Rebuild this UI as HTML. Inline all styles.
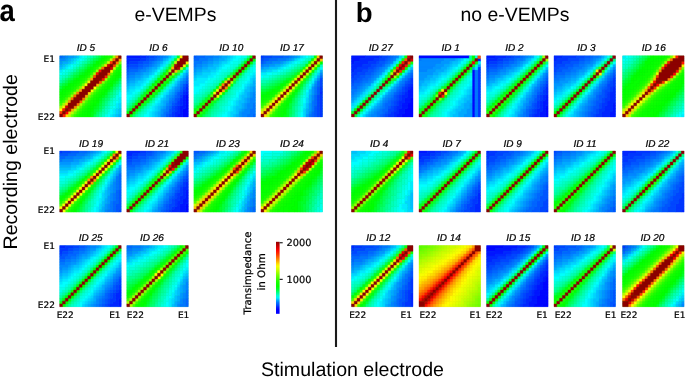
<!DOCTYPE html>
<html><head><meta charset="utf-8"><title>Transimpedance matrices</title>
<style>
html,body{margin:0;padding:0;background:#fff;}
body{width:685px;height:377px;position:relative;overflow:hidden;}
svg{position:absolute;left:0;top:0;}
text{text-rendering:geometricPrecision;fill:#000;}
.id,.ax,.cbt{stroke:#000;stroke-width:.22px;}
.id{font:italic 10px "Liberation Sans",sans-serif;}
.ax{font:9.0px "DejaVu Sans",sans-serif;}
.pl{font:bold 27.6px "Liberation Sans",sans-serif;}
.ttl{font:19.4px "Liberation Sans",sans-serif;}
.big{font:19.6px "Liberation Sans",sans-serif;}
.cbt{font:9.8px "DejaVu Sans",sans-serif;}
</style></head><body>
<svg width="685" height="377" viewBox="0 0 685 377">
<g stroke-width=".14" transform="translate(59.7 55.8) scale(2.79545 2.77727)"><rect stroke="none" x="0.02" y="0.02" width="21.96" height="21.96" fill="#07c814"/><path fill="#0066ff" stroke="#0066ff" d="M0 0h1v1h-1z"/><path fill="#0076ff" stroke="#0076ff" d="M1 0h1v1h-1z"/><path fill="#0086ff" stroke="#0086ff" d="M2 0h1v1h-1zM0 1h2v1h-2z"/><path fill="#0096ff" stroke="#0096ff" d="M3 0h2v1h-2zM2 1h1v1h-1zM0 2h1v1h-1z"/><path fill="#00aaff" stroke="#00aaff" d="M5 0h1v1h-1zM3 1h1v1h-1zM1 2h2v1h-2zM0 3h1v1h-1zM21 21h1v1h-1z"/><path fill="#00bfff" stroke="#00bfff" d="M6 0h1v1h-1zM4 1h1v1h-1zM3 2h1v1h-1zM1 3h1v1h-1zM0 4h1v1h-1zM21 19h1v1h-1zM21 20h1v1h-1zM20 21h1v1h-1z"/><path fill="#00d4ff" stroke="#00d4ff" d="M5 1h1v1h-1zM4 2h1v1h-1zM2 3h1v1h-1zM1 4h1v1h-1zM21 17h1v1h-1zM21 18h1v1h-1zM20 19h1v1h-1zM20 20h1v1h-1zM19 21h1v1h-1z"/><path fill="#00eaff" stroke="#00eaff" d="M7 0h1v1h-1zM6 1h1v1h-1zM5 2h1v1h-1zM3 3h1v1h-1zM2 4h1v1h-1zM0 5h1v1h-1zM21 15h1v1h-1zM21 16h1v1h-1zM20 17h1v1h-1zM20 18h1v1h-1zM19 19h1v1h-1zM19 20h1v1h-1zM18 21h1v1h-1z"/><path fill="#00ffff" stroke="#00ffff" d="M8 0h1v1h-1zM7 1h1v1h-1zM4 3h1v1h-1zM3 4h1v1h-1zM1 5h1v1h-1zM0 6h1v1h-1zM21 13h1v1h-1zM21 14h1v1h-1zM20 16h1v1h-1zM19 18h1v1h-1zM18 19h1v1h-1zM18 20h1v1h-1zM17 21h1v1h-1z"/><path fill="#00ffec" stroke="#00ffec" d="M9 0h1v1h-1zM8 1h1v1h-1zM6 2h1v1h-1zM5 3h1v1h-1zM4 4h1v1h-1zM2 5h1v1h-1zM1 6h1v1h-1zM20 14h1v1h-1zM20 15h1v1h-1zM19 16h1v1h-1zM19 17h1v1h-1zM18 18h1v1h-1zM17 20h1v1h-1zM16 21h1v1h-1z"/><path fill="#00ffda" stroke="#00ffda" d="M7 2h1v1h-1zM6 3h1v1h-1zM3 5h1v1h-1zM2 6h1v1h-1zM0 7h1v1h-1zM21 12h1v1h-1zM19 15h1v1h-1zM18 17h1v1h-1zM17 19h1v1h-1z"/><path fill="#00ffc7" stroke="#00ffc7" d="M10 0h1v1h-1zM9 1h1v1h-1zM5 4h1v1h-1zM4 5h1v1h-1zM1 7h1v1h-1zM0 8h1v1h-1zM21 11h1v1h-1zM20 13h1v1h-1zM18 16h1v1h-1zM17 18h1v1h-1zM16 19h1v1h-1zM16 20h1v1h-1zM15 21h1v1h-1z"/><path fill="#00ffb5" stroke="#00ffb5" d="M11 0h1v1h-1zM8 2h1v1h-1zM7 3h1v1h-1zM3 6h1v1h-1zM2 7h1v1h-1zM20 12h1v1h-1zM19 14h1v1h-1zM18 15h1v1h-1zM17 17h1v1h-1zM16 18h1v1h-1zM15 20h1v1h-1z"/><path fill="#00ffa2" stroke="#00ffa2" d="M10 1h1v1h-1zM9 2h1v1h-1zM6 4h1v1h-1zM5 5h1v1h-1zM1 8h1v1h-1zM0 9h1v1h-1zM21 10h1v1h-1zM19 13h1v1h-1zM17 16h1v1h-1zM15 19h1v1h-1zM14 21h1v1h-1z"/><path fill="#00ff8e" stroke="#00ff8e" d="M12 0h1v1h-1zM8 3h1v1h-1zM4 6h1v1h-1zM3 7h1v1h-1zM20 11h1v1h-1zM19 12h1v1h-1zM18 14h1v1h-1zM16 17h1v1h-1zM14 20h1v1h-1z"/><path fill="#00ff7a" stroke="#00ff7a" d="M11 1h1v1h-1zM10 2h1v1h-1zM7 4h1v1h-1zM6 5h1v1h-1zM2 8h1v1h-1zM1 9h1v1h-1zM21 9h1v1h-1zM18 13h1v1h-1zM17 15h1v1h-1zM16 16h1v1h-1zM15 18h1v1h-1zM13 21h1v1h-1z"/><path fill="#00ff66" stroke="#00ff66" d="M13 0h1v1h-1zM9 3h1v1h-1zM8 4h1v1h-1zM5 6h1v1h-1zM4 7h1v1h-1zM0 10h1v1h-1zM20 10h1v1h-1zM19 11h1v1h-1zM17 14h1v1h-1zM16 15h1v1h-1zM15 17h1v1h-1zM14 19h1v1h-1zM13 20h1v1h-1z"/><path fill="#00ff52" stroke="#00ff52" d="M12 1h1v1h-1zM11 2h1v1h-1zM7 5h1v1h-1zM6 6h1v1h-1zM3 8h1v1h-1zM21 8h1v1h-1zM2 9h1v1h-1zM18 12h1v1h-1zM17 13h1v1h-1zM15 16h1v1h-1zM14 18h1v1h-1zM12 21h1v1h-1z"/><path fill="#00ff3d" stroke="#00ff3d" d="M14 0h1v1h-1zM13 1h1v1h-1zM10 3h1v1h-1zM9 4h1v1h-1zM8 5h1v1h-1zM5 7h1v1h-1zM4 8h1v1h-1zM20 9h1v1h-1zM1 10h1v1h-1zM19 10h1v1h-1zM0 11h1v1h-1zM16 14h1v1h-1zM15 15h1v1h-1zM14 17h1v1h-1zM13 19h1v1h-1z"/><path fill="#00ff28" stroke="#00ff28" d="M12 2h1v1h-1zM11 3h1v1h-1zM7 6h1v1h-1zM6 7h1v1h-1zM3 9h1v1h-1zM2 10h1v1h-1zM18 11h1v1h-1zM17 12h1v1h-1zM14 16h1v1h-1zM13 18h1v1h-1zM12 19h1v1h-1zM12 20h1v1h-1z"/><path fill="#00ff14" stroke="#00ff14" d="M15 0h1v1h-1zM14 1h1v1h-1zM10 4h1v1h-1zM9 5h1v1h-1zM8 6h1v1h-1zM21 7h1v1h-1zM5 8h1v1h-1zM20 8h1v1h-1zM4 9h1v1h-1zM19 9h1v1h-1zM1 11h1v1h-1zM0 12h1v1h-1zM16 13h1v1h-1zM15 14h1v1h-1zM14 15h1v1h-1zM13 17h1v1h-1zM12 18h1v1h-1zM11 20h1v1h-1zM11 21h1v1h-1z"/><path fill="#00ff00" stroke="#00ff00" d="M13 2h1v1h-1zM12 3h1v1h-1zM11 4h1v1h-1zM21 6h1v1h-1zM7 7h1v1h-1zM6 8h1v1h-1zM3 10h1v1h-1zM18 10h1v1h-1zM2 11h1v1h-1zM17 11h1v1h-1zM16 12h1v1h-1zM13 16h1v1h-1zM12 17h1v1h-1zM11 19h1v1h-1zM10 20h1v1h-1zM10 21h1v1h-1z"/><path fill="#04ff00" stroke="#04ff00" d="M10 5h1v1h-1zM9 6h1v1h-1zM8 7h1v1h-1zM20 7h1v1h-1zM19 8h1v1h-1zM5 9h1v1h-1zM18 9h1v1h-1zM4 10h1v1h-1zM3 11h1v1h-1zM1 12h1v1h-1zM0 13h1v1h-1zM15 13h1v1h-1zM14 14h1v1h-1zM13 15h1v1h-1zM11 18h1v1h-1zM10 19h1v1h-1zM9 21h1v1h-1z"/><path fill="#07ff00" stroke="#07ff00" d="M16 0h1v1h-1zM15 1h1v1h-1zM21 5h1v1h-1zM20 6h1v1h-1zM7 8h1v1h-1zM6 9h1v1h-1zM17 10h1v1h-1zM16 11h1v1h-1zM2 12h1v1h-1zM1 13h1v1h-1zM12 16h1v1h-1zM11 17h1v1h-1zM10 18h1v1h-1zM9 20h1v1h-1zM8 21h1v1h-1z"/><path fill="#0bff00" stroke="#0bff00" d="M14 2h1v1h-1zM13 3h1v1h-1zM19 7h1v1h-1zM5 10h1v1h-1zM4 11h1v1h-1zM3 12h1v1h-1zM15 12h1v1h-1zM14 13h1v1h-1zM0 14h1v1h-1zM9 19h1v1h-1zM8 20h1v1h-1zM7 21h1v1h-1z"/><path fill="#0eff00" stroke="#0eff00" d="M12 4h1v1h-1zM21 4h1v1h-1zM11 5h1v1h-1zM20 5h1v1h-1zM10 6h1v1h-1zM9 7h1v1h-1zM18 8h1v1h-1zM17 9h1v1h-1zM2 13h1v1h-1zM1 14h1v1h-1zM13 14h1v1h-1zM0 15h1v1h-1zM12 15h1v1h-1zM11 16h1v1h-1z"/><path fill="#12ff00" stroke="#12ff00" d="M17 0h1v1h-1zM16 1h1v1h-1zM21 3h1v1h-1zM8 8h1v1h-1zM7 9h1v1h-1zM6 10h1v1h-1zM16 10h1v1h-1zM15 11h1v1h-1zM14 12h1v1h-1zM10 17h1v1h-1zM9 18h1v1h-1z"/><path fill="#15ff00" stroke="#15ff00" d="M15 2h1v1h-1zM19 6h1v1h-1zM5 11h1v1h-1zM4 12h1v1h-1zM13 13h1v1h-1zM12 14h1v1h-1zM8 19h1v1h-1zM7 20h1v1h-1zM6 21h1v1h-1z"/><path fill="#19ff00" stroke="#19ff00" d="M18 0h1v1h-1zM14 3h1v1h-1zM20 4h1v1h-1zM18 7h1v1h-1zM3 13h1v1h-1zM2 14h1v1h-1zM1 15h1v1h-1zM11 15h1v1h-1zM10 16h1v1h-1z"/><path fill="#22ff00" stroke="#22ff00" d="M13 4h1v1h-1zM12 5h1v1h-1zM11 6h1v1h-1zM10 7h1v1h-1zM9 8h1v1h-1zM17 8h1v1h-1zM8 9h1v1h-1zM7 10h1v1h-1zM0 16h1v1h-1zM9 17h1v1h-1zM8 18h1v1h-1z"/><path fill="#2cff00" stroke="#2cff00" d="M17 1h1v1h-1zM19 5h1v1h-1zM16 9h1v1h-1zM15 10h1v1h-1zM6 11h1v1h-1zM14 11h1v1h-1zM5 12h1v1h-1zM13 12h1v1h-1zM12 13h1v1h-1zM7 19h1v1h-1zM6 20h1v1h-1zM5 21h1v1h-1z"/><path fill="#36ff00" stroke="#36ff00" d="M4 13h1v1h-1zM3 14h1v1h-1zM11 14h1v1h-1z"/><path fill="#40ff00" stroke="#40ff00" d="M16 2h1v1h-1zM2 15h1v1h-1zM10 15h1v1h-1zM1 16h1v1h-1zM9 16h1v1h-1zM0 17h1v1h-1z"/><path fill="#4bff00" stroke="#4bff00" d="M8 17h1v1h-1z"/><path fill="#56ff00" stroke="#56ff00" d="M18 6h1v1h-1zM7 18h1v1h-1zM6 19h1v1h-1z"/><path fill="#61ff00" stroke="#61ff00" d="M15 3h1v1h-1zM9 9h1v1h-1zM13 11h1v1h-1zM12 12h1v1h-1zM5 20h1v1h-1zM4 21h1v1h-1z"/><path fill="#6cff00" stroke="#6cff00" d="M10 8h1v1h-1zM8 10h1v1h-1zM11 13h1v1h-1z"/><path fill="#77ff00" stroke="#77ff00" d="M11 7h1v1h-1zM17 7h1v1h-1zM14 10h1v1h-1zM7 11h1v1h-1zM10 14h1v1h-1z"/><path fill="#82ff00" stroke="#82ff00" d="M21 2h1v1h-1zM14 4h1v1h-1zM6 12h1v1h-1z"/><path fill="#8eff00" stroke="#8eff00" d="M20 3h1v1h-1zM15 9h1v1h-1zM9 15h1v1h-1z"/><path fill="#9bff00" stroke="#9bff00" d="M19 0h1v1h-1zM13 5h1v1h-1zM12 6h1v1h-1zM16 8h1v1h-1zM5 13h1v1h-1zM4 14h1v1h-1zM3 15h1v1h-1zM2 16h1v1h-1zM8 16h1v1h-1zM1 17h1v1h-1zM0 18h1v1h-1z"/><path fill="#a7ff00" stroke="#a7ff00" d="M7 17h1v1h-1z"/><path fill="#b3ff00" stroke="#b3ff00" d="M18 1h1v1h-1zM6 18h1v1h-1zM5 19h1v1h-1zM4 20h1v1h-1zM3 21h1v1h-1z"/><path fill="#bfff00" stroke="#bfff00" d="M19 4h1v1h-1z"/><path fill="#d5ff00" stroke="#d5ff00" d="M17 2h1v1h-1z"/><path fill="#fffc00" stroke="#fffc00" d="M18 5h1v1h-1zM9 10h1v1h-1zM12 11h1v1h-1zM11 12h1v1h-1zM0 19h1v1h-1z"/><path fill="#ffee00" stroke="#ffee00" d="M10 9h1v1h-1zM1 18h1v1h-1z"/><path fill="#ffe000" stroke="#ffe000" d="M16 3h1v1h-1zM8 11h1v1h-1zM10 13h1v1h-1zM2 21h1v1h-1z"/><path fill="#ffd200" stroke="#ffd200" d="M2 17h1v1h-1zM3 20h1v1h-1z"/><path fill="#ffb600" stroke="#ffb600" d="M13 10h1v1h-1zM4 19h1v1h-1z"/><path fill="#ffa800" stroke="#ffa800" d="M21 1h1v1h-1zM11 8h1v1h-1zM7 12h1v1h-1zM9 14h1v1h-1z"/><path fill="#ff9a00" stroke="#ff9a00" d="M3 16h1v1h-1z"/><path fill="#ff8c00" stroke="#ff8c00" d="M20 0h1v1h-1zM5 18h1v1h-1z"/><path fill="#ff7f00" stroke="#ff7f00" d="M20 2h1v1h-1zM6 13h1v1h-1z"/><path fill="#ff7300" stroke="#ff7300" d="M17 6h1v1h-1zM4 15h1v1h-1zM8 15h1v1h-1zM6 17h1v1h-1z"/><path fill="#ff6700" stroke="#ff6700" d="M19 1h1v1h-1zM15 4h1v1h-1zM5 14h1v1h-1zM7 16h1v1h-1z"/><path fill="#ff5c00" stroke="#ff5c00" d="M14 9h1v1h-1z"/><path fill="#ff5000" stroke="#ff5000" d="M12 7h1v1h-1z"/><path fill="#ff4500" stroke="#ff4500" d="M19 3h1v1h-1z"/><path fill="#ff3900" stroke="#ff3900" d="M18 2h1v1h-1zM0 20h1v1h-1z"/><path fill="#ff2200" stroke="#ff2200" d="M16 7h1v1h-1zM1 21h1v1h-1z"/><path fill="#ff1700" stroke="#ff1700" d="M15 8h1v1h-1zM1 19h1v1h-1z"/><path fill="#ff0b00" stroke="#ff0b00" d="M14 5h1v1h-1zM13 6h1v1h-1z"/><path fill="#ff0000" stroke="#ff0000" d="M2 20h1v1h-1z"/><path fill="#d60000" stroke="#d60000" d="M18 4h1v1h-1zM2 18h1v1h-1z"/><path fill="#cc0000" stroke="#cc0000" d="M17 3h1v1h-1zM3 19h1v1h-1z"/><path fill="#8c0000" stroke="#8c0000" d="M21 0h1v1h-1zM20 1h1v1h-1zM19 2h1v1h-1zM18 3h1v1h-1zM16 4h2v1h-2zM15 5h3v1h-3zM14 6h3v1h-3zM13 7h3v1h-3zM12 8h3v1h-3zM11 9h3v1h-3zM10 10h3v1h-3zM9 11h3v1h-3zM8 12h3v1h-3zM7 13h3v1h-3zM6 14h3v1h-3zM5 15h3v1h-3zM4 16h3v1h-3zM3 17h3v1h-3zM3 18h2v1h-2zM2 19h1v1h-1zM1 20h1v1h-1zM0 21h1v1h-1z"/></g>
<g stroke-width=".14" transform="translate(126.8 55.8) scale(2.79545 2.77727)"><rect stroke="none" x="0.02" y="0.02" width="21.96" height="21.96" fill="#00c5d2"/><path fill="#0006ff" stroke="#0006ff" d="M21 14h1v1h-1zM21 15h1v1h-1zM21 16h1v1h-1zM21 17h1v1h-1zM21 18h1v1h-1zM20 19h2v1h-2zM20 20h2v1h-2zM20 21h2v1h-2z"/><path fill="#0016ff" stroke="#0016ff" d="M0 0h5v1h-5zM21 13h1v1h-1zM20 14h1v1h-1zM20 15h1v1h-1zM20 16h1v1h-1zM20 17h1v1h-1zM19 18h2v1h-2zM19 19h1v1h-1zM19 20h1v1h-1zM18 21h2v1h-2z"/><path fill="#0026ff" stroke="#0026ff" d="M5 0h2v1h-2zM0 1h5v1h-5zM0 2h1v1h-1zM21 11h1v1h-1zM21 12h1v1h-1zM20 13h1v1h-1zM19 15h1v1h-1zM19 16h1v1h-1zM19 17h1v1h-1zM18 18h1v1h-1zM18 19h1v1h-1zM17 20h2v1h-2zM17 21h1v1h-1z"/><path fill="#0036ff" stroke="#0036ff" d="M7 0h1v1h-1zM5 1h2v1h-2zM1 2h3v1h-3zM0 3h1v1h-1zM21 10h1v1h-1zM20 12h1v1h-1zM19 14h1v1h-1zM18 16h1v1h-1zM18 17h1v1h-1zM17 18h1v1h-1zM17 19h1v1h-1zM16 20h1v1h-1zM16 21h1v1h-1z"/><path fill="#0046ff" stroke="#0046ff" d="M8 0h2v1h-2zM7 1h1v1h-1zM4 2h2v1h-2zM1 3h3v1h-3zM0 4h1v1h-1zM20 11h1v1h-1zM19 13h1v1h-1zM18 15h1v1h-1zM17 17h1v1h-1zM16 18h1v1h-1zM16 19h1v1h-1zM15 21h1v1h-1z"/><path fill="#0056ff" stroke="#0056ff" d="M10 0h1v1h-1zM8 1h2v1h-2zM6 2h2v1h-2zM4 3h2v1h-2zM1 4h3v1h-3zM0 5h1v1h-1zM21 9h1v1h-1zM20 10h1v1h-1zM19 12h1v1h-1zM18 13h1v1h-1zM18 14h1v1h-1zM17 15h1v1h-1zM17 16h1v1h-1zM16 17h1v1h-1zM15 19h1v1h-1zM15 20h1v1h-1zM14 21h1v1h-1z"/><path fill="#0066ff" stroke="#0066ff" d="M11 0h1v1h-1zM10 1h1v1h-1zM8 2h1v1h-1zM6 3h2v1h-2zM4 4h2v1h-2zM1 5h3v1h-3zM0 6h1v1h-1zM21 8h1v1h-1zM19 11h1v1h-1zM17 14h1v1h-1zM16 16h1v1h-1zM15 18h1v1h-1zM14 20h1v1h-1z"/><path fill="#0076ff" stroke="#0076ff" d="M12 0h1v1h-1zM11 1h1v1h-1zM9 2h1v1h-1zM8 3h1v1h-1zM6 4h1v1h-1zM4 5h1v1h-1zM1 6h2v1h-2zM0 7h1v1h-1zM21 7h1v1h-1zM20 9h1v1h-1zM19 10h1v1h-1zM18 12h1v1h-1zM17 13h1v1h-1zM16 15h1v1h-1zM15 16h1v1h-1zM15 17h1v1h-1zM14 18h1v1h-1zM14 19h1v1h-1zM13 20h1v1h-1zM13 21h1v1h-1z"/><path fill="#0086ff" stroke="#0086ff" d="M13 0h1v1h-1zM12 1h1v1h-1zM10 2h1v1h-1zM9 3h1v1h-1zM7 4h1v1h-1zM5 5h2v1h-2zM3 6h2v1h-2zM1 7h2v1h-2zM0 8h1v1h-1zM20 8h1v1h-1zM19 9h1v1h-1zM18 11h1v1h-1zM17 12h1v1h-1zM16 14h1v1h-1zM15 15h1v1h-1zM14 17h1v1h-1zM13 19h1v1h-1zM12 21h1v1h-1z"/><path fill="#0096ff" stroke="#0096ff" d="M14 0h1v1h-1zM11 2h1v1h-1zM10 3h1v1h-1zM8 4h1v1h-1zM7 5h1v1h-1zM5 6h1v1h-1zM21 6h1v1h-1zM3 7h2v1h-2zM1 8h2v1h-2zM0 9h1v1h-1zM18 10h1v1h-1zM17 11h1v1h-1zM16 13h1v1h-1zM15 14h1v1h-1zM14 16h1v1h-1zM13 18h1v1h-1zM12 19h1v1h-1zM12 20h1v1h-1z"/><path fill="#00aaff" stroke="#00aaff" d="M13 1h1v1h-1zM12 2h1v1h-1zM11 3h1v1h-1zM9 4h2v1h-2zM8 5h1v1h-1zM6 6h2v1h-2zM5 7h1v1h-1zM20 7h1v1h-1zM3 8h2v1h-2zM19 8h1v1h-1zM1 9h2v1h-2zM18 9h1v1h-1zM0 10h1v1h-1zM16 12h1v1h-1zM15 13h1v1h-1zM14 14h1v1h-1zM14 15h1v1h-1zM13 16h1v1h-1zM13 17h1v1h-1zM12 18h1v1h-1zM11 20h1v1h-1zM11 21h1v1h-1z"/><path fill="#00bfff" stroke="#00bfff" d="M15 0h1v1h-1zM14 1h1v1h-1zM9 5h1v1h-1zM21 5h1v1h-1zM8 6h1v1h-1zM20 6h1v1h-1zM6 7h2v1h-2zM5 8h1v1h-1zM3 9h1v1h-1zM1 10h2v1h-2zM17 10h1v1h-1zM0 11h1v1h-1zM16 11h1v1h-1zM15 12h1v1h-1zM13 15h1v1h-1zM12 16h1v1h-1zM12 17h1v1h-1zM11 18h1v1h-1zM11 19h1v1h-1zM10 20h1v1h-1zM10 21h1v1h-1z"/><path fill="#00d4ff" stroke="#00d4ff" d="M13 2h1v1h-1zM12 3h1v1h-1zM11 4h1v1h-1zM10 5h1v1h-1zM9 6h1v1h-1zM19 7h1v1h-1zM6 8h1v1h-1zM18 8h1v1h-1zM4 9h2v1h-2zM17 9h1v1h-1zM3 10h2v1h-2zM1 11h2v1h-2zM0 12h1v1h-1zM14 13h1v1h-1zM13 14h1v1h-1zM12 15h1v1h-1zM11 17h1v1h-1zM10 18h1v1h-1zM10 19h1v1h-1zM9 20h1v1h-1zM9 21h1v1h-1z"/><path fill="#00eaff" stroke="#00eaff" d="M16 0h1v1h-1zM15 1h1v1h-1zM14 2h1v1h-1zM13 3h1v1h-1zM8 7h1v1h-1zM7 8h1v1h-1zM6 9h1v1h-1zM5 10h1v1h-1zM16 10h1v1h-1zM3 11h2v1h-2zM15 11h1v1h-1zM1 12h2v1h-2zM14 12h1v1h-1zM0 13h2v1h-2zM13 13h1v1h-1zM11 16h1v1h-1zM10 17h1v1h-1zM9 18h1v1h-1zM9 19h1v1h-1zM8 20h1v1h-1zM8 21h1v1h-1z"/><path fill="#00ffff" stroke="#00ffff" d="M12 4h1v1h-1zM11 5h1v1h-1zM10 6h1v1h-1zM9 7h1v1h-1zM8 8h1v1h-1zM7 9h1v1h-1zM6 10h1v1h-1zM5 11h1v1h-1zM3 12h2v1h-2zM2 13h1v1h-1zM0 14h2v1h-2zM12 14h1v1h-1zM0 15h1v1h-1zM11 15h1v1h-1zM10 16h1v1h-1zM8 19h1v1h-1zM7 20h1v1h-1zM6 21h2v1h-2z"/><path fill="#00ffec" stroke="#00ffec" d="M21 4h1v1h-1zM20 5h1v1h-1zM19 6h1v1h-1zM18 7h1v1h-1zM17 8h1v1h-1zM3 13h1v1h-1zM2 14h1v1h-1zM1 15h1v1h-1zM0 16h1v1h-1zM9 17h1v1h-1zM8 18h1v1h-1zM7 19h1v1h-1z"/><path fill="#00ffda" stroke="#00ffda" d="M16 9h1v1h-1zM15 10h1v1h-1zM14 11h1v1h-1zM13 12h1v1h-1zM12 13h1v1h-1zM11 14h1v1h-1zM10 15h1v1h-1zM6 20h1v1h-1zM5 21h1v1h-1z"/><path fill="#00ffc7" stroke="#00ffc7" d="M17 0h1v1h-1zM16 1h1v1h-1zM15 2h1v1h-1zM14 3h1v1h-1zM13 4h1v1h-1zM12 5h1v1h-1zM11 6h1v1h-1zM10 7h1v1h-1zM9 8h1v1h-1zM8 9h1v1h-1zM7 10h1v1h-1zM6 11h1v1h-1zM5 12h1v1h-1zM4 13h1v1h-1zM3 14h1v1h-1zM2 15h1v1h-1zM1 16h1v1h-1zM9 16h1v1h-1zM0 17h1v1h-1zM8 17h1v1h-1zM7 18h1v1h-1zM6 19h1v1h-1zM5 20h1v1h-1zM4 21h1v1h-1z"/><path fill="#00ffa2" stroke="#00ffa2" d="M4 14h1v1h-1zM3 15h1v1h-1zM2 16h1v1h-1zM1 17h1v1h-1zM7 17h1v1h-1zM0 18h1v1h-1zM6 18h1v1h-1zM5 19h1v1h-1zM4 20h1v1h-1zM3 21h1v1h-1z"/><path fill="#00ff8e" stroke="#00ff8e" d="M10 8h1v1h-1zM16 8h1v1h-1zM9 9h1v1h-1zM15 9h1v1h-1zM8 10h1v1h-1zM14 10h1v1h-1zM7 11h1v1h-1zM13 11h1v1h-1zM6 12h1v1h-1zM12 12h1v1h-1zM5 13h1v1h-1zM11 13h1v1h-1zM10 14h1v1h-1zM9 15h1v1h-1zM8 16h1v1h-1z"/><path fill="#00ff7a" stroke="#00ff7a" d="M14 4h1v1h-1zM13 5h1v1h-1zM12 6h1v1h-1zM11 7h1v1h-1zM17 7h1v1h-1z"/><path fill="#00ff66" stroke="#00ff66" d="M15 3h1v1h-1zM18 6h1v1h-1zM1 18h1v1h-1zM0 19h1v1h-1zM3 20h1v1h-1zM2 21h1v1h-1z"/><path fill="#00ff52" stroke="#00ff52" d="M19 5h1v1h-1zM3 16h1v1h-1zM2 17h1v1h-1zM5 18h1v1h-1zM4 19h1v1h-1z"/><path fill="#00ff3d" stroke="#00ff3d" d="M16 2h1v1h-1zM20 4h1v1h-1zM4 15h1v1h-1zM6 17h1v1h-1z"/><path fill="#00ff28" stroke="#00ff28" d="M17 1h1v1h-1zM21 3h1v1h-1zM6 13h1v1h-1zM5 14h1v1h-1zM8 15h1v1h-1zM7 16h1v1h-1z"/><path fill="#00ff14" stroke="#00ff14" d="M18 0h1v1h-1zM8 11h1v1h-1zM7 12h1v1h-1zM10 13h1v1h-1zM9 14h1v1h-1z"/><path fill="#00ff00" stroke="#00ff00" d="M10 9h1v1h-1zM9 10h1v1h-1zM12 11h1v1h-1zM11 12h1v1h-1z"/><path fill="#04ff00" stroke="#04ff00" d="M12 7h1v1h-1zM11 8h1v1h-1zM14 9h1v1h-1zM13 10h1v1h-1zM0 20h1v1h-1zM1 21h1v1h-1z"/><path fill="#07ff00" stroke="#07ff00" d="M13 6h1v1h-1zM15 8h1v1h-1zM1 19h1v1h-1zM2 20h1v1h-1z"/><path fill="#0bff00" stroke="#0bff00" d="M2 18h1v1h-1zM3 19h1v1h-1z"/><path fill="#0eff00" stroke="#0eff00" d="M14 5h1v1h-1zM16 7h1v1h-1zM3 17h1v1h-1zM4 18h1v1h-1z"/><path fill="#12ff00" stroke="#12ff00" d="M4 16h1v1h-1zM5 17h1v1h-1z"/><path fill="#15ff00" stroke="#15ff00" d="M5 15h1v1h-1zM6 16h1v1h-1z"/><path fill="#19ff00" stroke="#19ff00" d="M15 4h1v1h-1zM17 6h1v1h-1zM12 8h1v1h-1zM11 9h1v1h-1zM13 9h1v1h-1zM12 10h1v1h-1zM6 14h1v1h-1zM7 15h1v1h-1z"/><path fill="#22ff00" stroke="#22ff00" d="M10 10h1v1h-1zM11 11h1v1h-1zM8 12h1v1h-1zM7 13h1v1h-1zM9 13h1v1h-1zM8 14h1v1h-1z"/><path fill="#2cff00" stroke="#2cff00" d="M13 7h1v1h-1zM14 8h1v1h-1zM9 11h1v1h-1zM10 12h1v1h-1z"/><path fill="#4bff00" stroke="#4bff00" d="M14 6h1v1h-1zM15 7h1v1h-1z"/><path fill="#61ff00" stroke="#61ff00" d="M16 3h1v1h-1zM18 5h1v1h-1z"/><path fill="#9bff00" stroke="#9bff00" d="M15 5h1v1h-1zM16 6h1v1h-1z"/><path fill="#bfff00" stroke="#bfff00" d="M17 2h1v1h-1zM19 4h1v1h-1z"/><path fill="#ffee00" stroke="#ffee00" d="M19 0h1v1h-1zM18 1h1v1h-1zM21 2h1v1h-1zM20 3h1v1h-1z"/><path fill="#ffb600" stroke="#ffb600" d="M16 4h1v1h-1zM17 5h1v1h-1z"/><path fill="#b70000" stroke="#b70000" d="M17 3h1v1h-1zM18 4h1v1h-1z"/><path fill="#8c0000" stroke="#8c0000" d="M20 0h2v1h-2zM19 1h3v1h-3zM18 2h3v1h-3zM18 3h2v1h-2zM17 4h1v1h-1zM16 5h1v1h-1zM15 6h1v1h-1zM14 7h1v1h-1zM13 8h1v1h-1zM12 9h1v1h-1zM11 10h1v1h-1zM10 11h1v1h-1zM9 12h1v1h-1zM8 13h1v1h-1zM7 14h1v1h-1zM6 15h1v1h-1zM5 16h1v1h-1zM4 17h1v1h-1zM3 18h1v1h-1zM2 19h1v1h-1zM1 20h1v1h-1zM0 21h1v1h-1z"/></g>
<g stroke-width=".14" transform="translate(193.9 55.8) scale(2.79545 2.77727)"><rect stroke="none" x="0.02" y="0.02" width="21.96" height="21.96" fill="#00c8ad"/><path fill="#0056ff" stroke="#0056ff" d="M0 0h1v1h-1z"/><path fill="#0066ff" stroke="#0066ff" d="M1 0h3v1h-3zM0 1h2v1h-2zM21 21h1v1h-1z"/><path fill="#0076ff" stroke="#0076ff" d="M4 0h3v1h-3zM2 1h3v1h-3zM0 2h3v1h-3zM0 3h1v1h-1zM21 17h1v1h-1zM21 18h1v1h-1zM20 19h2v1h-2zM20 20h2v1h-2zM19 21h2v1h-2z"/><path fill="#0086ff" stroke="#0086ff" d="M7 0h2v1h-2zM5 1h2v1h-2zM3 2h2v1h-2zM1 3h2v1h-2zM0 4h1v1h-1zM21 13h1v1h-1zM21 14h1v1h-1zM20 15h2v1h-2zM20 16h2v1h-2zM19 17h2v1h-2zM19 18h2v1h-2zM18 19h2v1h-2zM17 20h3v1h-3zM17 21h2v1h-2z"/><path fill="#0096ff" stroke="#0096ff" d="M9 0h1v1h-1zM7 1h2v1h-2zM5 2h2v1h-2zM3 3h2v1h-2zM1 4h2v1h-2zM0 5h1v1h-1zM21 11h1v1h-1zM21 12h1v1h-1zM20 13h1v1h-1zM20 14h1v1h-1zM19 15h1v1h-1zM19 16h1v1h-1zM18 17h1v1h-1zM18 18h1v1h-1zM17 19h1v1h-1zM16 20h1v1h-1zM16 21h1v1h-1z"/><path fill="#00aaff" stroke="#00aaff" d="M10 0h2v1h-2zM9 1h2v1h-2zM7 2h2v1h-2zM5 3h2v1h-2zM3 4h2v1h-2zM1 5h2v1h-2zM0 6h1v1h-1zM21 9h1v1h-1zM21 10h1v1h-1zM20 11h1v1h-1zM20 12h1v1h-1zM19 13h1v1h-1zM19 14h1v1h-1zM18 15h1v1h-1zM18 16h1v1h-1zM17 17h1v1h-1zM17 18h1v1h-1zM16 19h1v1h-1zM15 21h1v1h-1z"/><path fill="#00bfff" stroke="#00bfff" d="M12 0h1v1h-1zM11 1h1v1h-1zM9 2h1v1h-1zM7 3h2v1h-2zM5 4h3v1h-3zM3 5h3v1h-3zM1 6h2v1h-2zM0 7h1v1h-1zM21 8h1v1h-1zM20 10h1v1h-1zM19 11h1v1h-1zM18 12h2v1h-2zM18 13h1v1h-1zM17 14h2v1h-2zM17 15h1v1h-1zM16 16h2v1h-2zM16 17h1v1h-1zM15 18h2v1h-2zM15 19h1v1h-1zM15 20h1v1h-1zM14 21h1v1h-1z"/><path fill="#00d4ff" stroke="#00d4ff" d="M13 0h1v1h-1zM12 1h1v1h-1zM10 2h2v1h-2zM9 3h1v1h-1zM8 4h1v1h-1zM6 5h2v1h-2zM3 6h3v1h-3zM1 7h4v1h-4zM21 7h1v1h-1zM0 8h1v1h-1zM20 8h1v1h-1zM20 9h1v1h-1zM19 10h1v1h-1zM18 11h1v1h-1zM17 13h1v1h-1zM16 14h1v1h-1zM16 15h1v1h-1zM15 16h1v1h-1zM15 17h1v1h-1zM14 18h1v1h-1zM14 19h1v1h-1zM13 20h2v1h-2zM13 21h1v1h-1z"/><path fill="#00eaff" stroke="#00eaff" d="M14 0h1v1h-1zM13 1h1v1h-1zM12 2h1v1h-1zM10 3h1v1h-1zM9 4h1v1h-1zM8 5h1v1h-1zM6 6h2v1h-2zM21 6h1v1h-1zM5 7h2v1h-2zM20 7h1v1h-1zM1 8h4v1h-4zM0 9h4v1h-4zM19 9h1v1h-1zM0 10h2v1h-2zM18 10h1v1h-1zM17 12h1v1h-1zM16 13h1v1h-1zM15 15h1v1h-1zM14 16h1v1h-1zM14 17h1v1h-1zM13 18h1v1h-1zM13 19h1v1h-1zM12 20h1v1h-1zM12 21h1v1h-1z"/><path fill="#00ffff" stroke="#00ffff" d="M15 0h2v1h-2zM14 1h2v1h-2zM13 2h1v1h-1zM11 3h2v1h-2zM10 4h2v1h-2zM21 4h1v1h-1zM9 5h1v1h-1zM21 5h1v1h-1zM8 6h1v1h-1zM20 6h1v1h-1zM7 7h1v1h-1zM19 7h1v1h-1zM5 8h1v1h-1zM19 8h1v1h-1zM4 9h1v1h-1zM18 9h1v1h-1zM2 10h2v1h-2zM17 10h1v1h-1zM0 11h3v1h-3zM17 11h1v1h-1zM0 12h2v1h-2zM16 12h1v1h-1zM0 13h1v1h-1zM15 13h1v1h-1zM15 14h1v1h-1zM14 15h1v1h-1zM13 16h1v1h-1zM13 17h1v1h-1zM12 18h1v1h-1zM12 19h1v1h-1zM11 20h1v1h-1zM10 21h2v1h-2z"/><path fill="#00ffec" stroke="#00ffec" d="M17 0h2v1h-2zM16 1h1v1h-1zM14 2h2v1h-2zM13 3h1v1h-1zM21 3h1v1h-1zM12 4h1v1h-1zM20 4h1v1h-1zM10 5h2v1h-2zM20 5h1v1h-1zM9 6h1v1h-1zM19 6h1v1h-1zM8 7h1v1h-1zM6 8h2v1h-2zM18 8h1v1h-1zM5 9h2v1h-2zM17 9h1v1h-1zM4 10h1v1h-1zM3 11h1v1h-1zM16 11h1v1h-1zM2 12h1v1h-1zM15 12h1v1h-1zM1 13h1v1h-1zM14 14h1v1h-1zM13 15h1v1h-1zM12 16h1v1h-1zM12 17h1v1h-1zM11 18h1v1h-1zM11 19h1v1h-1zM10 20h1v1h-1zM9 21h1v1h-1z"/><path fill="#00ffda" stroke="#00ffda" d="M17 1h1v1h-1zM16 2h1v1h-1zM14 3h2v1h-2zM13 4h1v1h-1zM12 5h1v1h-1zM19 5h1v1h-1zM10 6h1v1h-1zM18 6h1v1h-1zM9 7h1v1h-1zM18 7h1v1h-1zM8 8h1v1h-1zM17 8h1v1h-1zM7 9h1v1h-1zM16 9h1v1h-1zM5 10h2v1h-2zM16 10h1v1h-1zM4 11h1v1h-1zM15 11h1v1h-1zM3 12h1v1h-1zM14 12h1v1h-1zM2 13h1v1h-1zM14 13h1v1h-1zM0 14h1v1h-1zM13 14h1v1h-1zM12 15h1v1h-1zM11 17h1v1h-1zM10 18h1v1h-1zM10 19h1v1h-1zM9 20h1v1h-1zM8 21h1v1h-1z"/><path fill="#00ffc7" stroke="#00ffc7" d="M14 4h1v1h-1zM13 5h1v1h-1zM11 6h1v1h-1zM10 7h1v1h-1zM17 7h1v1h-1zM9 8h1v1h-1zM16 8h1v1h-1zM8 9h1v1h-1zM15 10h1v1h-1zM5 11h1v1h-1zM14 11h1v1h-1zM4 12h1v1h-1zM13 12h1v1h-1zM3 13h1v1h-1zM13 13h1v1h-1zM1 14h2v1h-2zM12 14h1v1h-1zM0 15h1v1h-1zM11 15h1v1h-1zM11 16h1v1h-1zM10 17h1v1h-1zM9 18h1v1h-1zM9 19h1v1h-1zM8 20h1v1h-1zM7 21h1v1h-1z"/><path fill="#00ffb5" stroke="#00ffb5" d="M12 6h1v1h-1zM11 7h1v1h-1zM10 8h1v1h-1zM15 9h1v1h-1zM7 10h1v1h-1zM14 10h1v1h-1zM6 11h1v1h-1zM5 12h1v1h-1zM12 13h1v1h-1zM11 14h1v1h-1zM1 15h1v1h-1zM0 16h1v1h-1zM10 16h1v1h-1zM9 17h1v1h-1zM8 19h1v1h-1zM7 20h1v1h-1zM6 21h1v1h-1z"/><path fill="#00ffa2" stroke="#00ffa2" d="M21 2h1v1h-1zM20 3h1v1h-1zM9 9h1v1h-1zM8 10h1v1h-1zM7 11h1v1h-1zM13 11h1v1h-1zM12 12h1v1h-1zM4 13h1v1h-1zM3 14h1v1h-1zM2 15h1v1h-1zM10 15h1v1h-1zM1 16h1v1h-1zM9 16h1v1h-1zM8 17h1v1h-1zM8 18h1v1h-1zM7 19h1v1h-1zM6 20h1v1h-1z"/><path fill="#00ff8e" stroke="#00ff8e" d="M19 0h1v1h-1zM18 1h1v1h-1zM17 2h1v1h-1zM19 4h1v1h-1zM18 5h1v1h-1zM17 6h1v1h-1zM6 12h1v1h-1zM5 13h1v1h-1zM11 13h1v1h-1zM4 14h1v1h-1zM10 14h1v1h-1zM0 17h1v1h-1zM7 18h1v1h-1zM6 19h1v1h-1zM5 21h1v1h-1z"/><path fill="#00ff7a" stroke="#00ff7a" d="M16 3h1v1h-1zM15 4h1v1h-1zM16 7h1v1h-1zM3 15h1v1h-1zM9 15h1v1h-1zM2 16h1v1h-1zM8 16h1v1h-1zM1 17h1v1h-1zM7 17h1v1h-1zM5 20h1v1h-1zM4 21h1v1h-1z"/><path fill="#00ff66" stroke="#00ff66" d="M14 5h1v1h-1zM15 8h1v1h-1zM0 18h1v1h-1zM6 18h1v1h-1zM5 19h1v1h-1z"/><path fill="#00ff52" stroke="#00ff52" d="M13 6h1v1h-1zM4 20h1v1h-1zM3 21h1v1h-1z"/><path fill="#00ff3d" stroke="#00ff3d" d="M12 7h1v1h-1zM14 9h1v1h-1z"/><path fill="#00ff28" stroke="#00ff28" d="M5 14h1v1h-1zM4 15h1v1h-1zM3 16h1v1h-1zM7 16h1v1h-1zM6 17h1v1h-1zM5 18h1v1h-1z"/><path fill="#00ff14" stroke="#00ff14" d="M11 8h1v1h-1zM13 10h1v1h-1zM6 13h1v1h-1zM9 14h1v1h-1zM8 15h1v1h-1zM2 17h1v1h-1zM1 18h1v1h-1zM0 19h1v1h-1zM4 19h1v1h-1zM3 20h1v1h-1zM2 21h1v1h-1z"/><path fill="#00ff00" stroke="#00ff00" d="M7 12h1v1h-1zM10 13h1v1h-1z"/><path fill="#04ff00" stroke="#04ff00" d="M20 0h1v1h-1zM21 1h1v1h-1zM10 9h1v1h-1zM9 10h1v1h-1zM8 11h1v1h-1zM12 11h1v1h-1zM11 12h1v1h-1z"/><path fill="#07ff00" stroke="#07ff00" d="M19 1h1v1h-1zM18 2h1v1h-1zM20 2h1v1h-1zM19 3h1v1h-1z"/><path fill="#0bff00" stroke="#0bff00" d="M17 3h1v1h-1zM16 4h1v1h-1zM18 4h1v1h-1zM17 5h1v1h-1z"/><path fill="#0eff00" stroke="#0eff00" d="M15 5h1v1h-1zM16 6h1v1h-1z"/><path fill="#15ff00" stroke="#15ff00" d="M14 6h1v1h-1zM15 7h1v1h-1z"/><path fill="#22ff00" stroke="#22ff00" d="M5 15h1v1h-1zM4 16h1v1h-1zM6 16h1v1h-1zM3 17h1v1h-1zM5 17h1v1h-1zM2 18h1v1h-1zM4 18h1v1h-1zM3 19h1v1h-1z"/><path fill="#2cff00" stroke="#2cff00" d="M1 19h1v1h-1zM0 20h1v1h-1zM2 20h1v1h-1zM1 21h1v1h-1z"/><path fill="#4bff00" stroke="#4bff00" d="M13 7h1v1h-1zM14 8h1v1h-1z"/><path fill="#61ff00" stroke="#61ff00" d="M6 14h1v1h-1zM7 15h1v1h-1z"/><path fill="#b3ff00" stroke="#b3ff00" d="M12 8h1v1h-1zM13 9h1v1h-1z"/><path fill="#f6ff00" stroke="#f6ff00" d="M8 12h1v1h-1zM7 13h1v1h-1zM9 13h1v1h-1zM8 14h1v1h-1z"/><path fill="#ffc400" stroke="#ffc400" d="M11 9h1v1h-1zM12 10h1v1h-1z"/><path fill="#ffb600" stroke="#ffb600" d="M9 11h1v1h-1zM10 12h1v1h-1z"/><path fill="#ff7f00" stroke="#ff7f00" d="M10 10h1v1h-1zM11 11h1v1h-1z"/><path fill="#8c0000" stroke="#8c0000" d="M21 0h1v1h-1zM20 1h1v1h-1zM19 2h1v1h-1zM18 3h1v1h-1zM17 4h1v1h-1zM16 5h1v1h-1zM15 6h1v1h-1zM14 7h1v1h-1zM13 8h1v1h-1zM12 9h1v1h-1zM11 10h1v1h-1zM10 11h1v1h-1zM9 12h1v1h-1zM8 13h1v1h-1zM7 14h1v1h-1zM6 15h1v1h-1zM5 16h1v1h-1zM4 17h1v1h-1zM3 18h1v1h-1zM2 19h1v1h-1zM1 20h1v1h-1zM0 21h1v1h-1z"/></g>
<g stroke-width=".14" transform="translate(261 55.8) scale(2.79545 2.77727)"><rect stroke="none" x="0.02" y="0.02" width="21.96" height="21.96" fill="#00c866"/><path fill="#0026ff" stroke="#0026ff" d="M21 13h1v1h-1z"/><path fill="#0036ff" stroke="#0036ff" d="M0 0h1v1h-1zM21 11h1v1h-1zM21 12h1v1h-1zM21 14h1v1h-1zM21 15h1v1h-1zM21 16h1v1h-1zM21 17h1v1h-1zM21 18h1v1h-1zM21 19h1v1h-1zM21 20h1v1h-1zM21 21h1v1h-1z"/><path fill="#0046ff" stroke="#0046ff" d="M1 0h3v1h-3zM0 1h1v1h-1zM21 8h1v1h-1zM21 9h1v1h-1zM21 10h1v1h-1zM20 14h1v1h-1zM20 15h1v1h-1zM20 16h1v1h-1zM20 17h1v1h-1zM20 18h1v1h-1zM20 19h1v1h-1zM20 20h1v1h-1zM20 21h1v1h-1z"/><path fill="#0056ff" stroke="#0056ff" d="M4 0h4v1h-4zM1 1h2v1h-2zM0 2h1v1h-1zM20 11h1v1h-1zM20 12h1v1h-1zM20 13h1v1h-1zM19 18h1v1h-1zM19 19h1v1h-1zM19 20h1v1h-1zM19 21h1v1h-1z"/><path fill="#0066ff" stroke="#0066ff" d="M8 0h2v1h-2zM3 1h3v1h-3zM1 2h1v1h-1zM21 7h1v1h-1zM20 9h1v1h-1zM20 10h1v1h-1zM19 14h1v1h-1zM19 15h1v1h-1zM19 16h1v1h-1zM19 17h1v1h-1zM18 20h1v1h-1zM18 21h1v1h-1z"/><path fill="#0076ff" stroke="#0076ff" d="M10 0h1v1h-1zM6 1h3v1h-3zM2 2h2v1h-2zM0 3h1v1h-1zM19 11h1v1h-1zM19 12h1v1h-1zM19 13h1v1h-1zM18 16h1v1h-1zM18 17h1v1h-1zM18 18h1v1h-1zM18 19h1v1h-1zM17 21h1v1h-1z"/><path fill="#0086ff" stroke="#0086ff" d="M11 0h1v1h-1zM9 1h1v1h-1zM4 2h3v1h-3zM1 3h2v1h-2zM21 6h1v1h-1zM20 8h1v1h-1zM19 10h1v1h-1zM18 14h1v1h-1zM18 15h1v1h-1zM17 20h1v1h-1z"/><path fill="#0096ff" stroke="#0096ff" d="M12 0h1v1h-1zM10 1h1v1h-1zM7 2h1v1h-1zM3 3h2v1h-2zM0 4h1v1h-1zM19 9h1v1h-1zM18 11h1v1h-1zM18 12h1v1h-1zM18 13h1v1h-1zM17 17h1v1h-1zM17 18h1v1h-1zM17 19h1v1h-1zM16 21h1v1h-1z"/><path fill="#00aaff" stroke="#00aaff" d="M13 0h1v1h-1zM11 1h1v1h-1zM8 2h1v1h-1zM5 3h2v1h-2zM1 4h2v1h-2zM21 5h1v1h-1zM20 7h1v1h-1zM17 14h1v1h-1zM17 15h1v1h-1zM17 16h1v1h-1zM16 19h1v1h-1zM16 20h1v1h-1z"/><path fill="#00bfff" stroke="#00bfff" d="M9 2h1v1h-1zM7 3h1v1h-1zM3 4h3v1h-3zM0 5h2v1h-2zM19 8h1v1h-1zM18 10h1v1h-1zM17 12h1v1h-1zM17 13h1v1h-1zM16 17h1v1h-1zM16 18h1v1h-1z"/><path fill="#00d4ff" stroke="#00d4ff" d="M14 0h1v1h-1zM12 1h1v1h-1zM10 2h1v1h-1zM8 3h1v1h-1zM6 4h1v1h-1zM2 5h2v1h-2zM20 6h1v1h-1zM16 15h1v1h-1zM16 16h1v1h-1zM15 19h1v1h-1zM15 20h1v1h-1zM15 21h1v1h-1z"/><path fill="#00eaff" stroke="#00eaff" d="M15 0h1v1h-1zM13 1h1v1h-1zM11 2h1v1h-1zM9 3h1v1h-1zM7 4h1v1h-1zM4 5h2v1h-2zM0 6h2v1h-2zM19 7h1v1h-1zM18 9h1v1h-1zM17 11h1v1h-1zM16 13h1v1h-1zM16 14h1v1h-1zM15 17h1v1h-1zM15 18h1v1h-1z"/><path fill="#00ffff" stroke="#00ffff" d="M16 0h1v1h-1zM14 1h1v1h-1zM12 2h1v1h-1zM10 3h1v1h-1zM8 4h1v1h-1zM21 4h1v1h-1zM6 5h1v1h-1zM2 6h2v1h-2zM0 7h1v1h-1zM18 8h1v1h-1zM17 10h1v1h-1zM16 12h1v1h-1zM15 15h1v1h-1zM15 16h1v1h-1zM14 20h1v1h-1zM14 21h1v1h-1z"/><path fill="#00ffec" stroke="#00ffec" d="M15 1h1v1h-1zM13 2h1v1h-1zM11 3h1v1h-1zM9 4h1v1h-1zM7 5h1v1h-1zM20 5h1v1h-1zM4 6h2v1h-2zM1 7h2v1h-2zM15 14h1v1h-1zM14 18h1v1h-1zM14 19h1v1h-1z"/><path fill="#00ffda" stroke="#00ffda" d="M17 0h1v1h-1zM14 2h1v1h-1zM12 3h1v1h-1zM10 4h1v1h-1zM8 5h1v1h-1zM6 6h1v1h-1zM19 6h1v1h-1zM3 7h1v1h-1zM0 8h1v1h-1zM17 9h1v1h-1zM16 11h1v1h-1zM15 13h1v1h-1zM14 15h1v1h-1zM14 16h1v1h-1zM14 17h1v1h-1zM13 20h1v1h-1zM13 21h1v1h-1z"/><path fill="#00ffc7" stroke="#00ffc7" d="M18 0h1v1h-1zM16 1h1v1h-1zM21 3h1v1h-1zM11 4h1v1h-1zM9 5h1v1h-1zM7 6h1v1h-1zM4 7h1v1h-1zM18 7h1v1h-1zM1 8h2v1h-2zM16 10h1v1h-1zM15 12h1v1h-1zM14 14h1v1h-1zM13 18h1v1h-1zM13 19h1v1h-1z"/><path fill="#00ffb5" stroke="#00ffb5" d="M17 1h1v1h-1zM15 2h1v1h-1zM13 3h1v1h-1zM20 4h1v1h-1zM10 5h1v1h-1zM8 6h1v1h-1zM5 7h1v1h-1zM3 8h1v1h-1zM0 9h2v1h-2zM13 16h1v1h-1zM13 17h1v1h-1zM12 20h1v1h-1zM12 21h1v1h-1z"/><path fill="#00ffa2" stroke="#00ffa2" d="M16 2h1v1h-1zM14 3h1v1h-1zM12 4h1v1h-1zM19 5h1v1h-1zM6 7h1v1h-1zM4 8h1v1h-1zM17 8h1v1h-1zM2 9h1v1h-1zM15 11h1v1h-1zM14 13h1v1h-1zM13 15h1v1h-1zM12 18h1v1h-1zM12 19h1v1h-1z"/><path fill="#00ff8e" stroke="#00ff8e" d="M15 3h1v1h-1zM13 4h1v1h-1zM11 5h1v1h-1zM9 6h1v1h-1zM18 6h1v1h-1zM7 7h1v1h-1zM5 8h1v1h-1zM3 9h1v1h-1zM16 9h1v1h-1zM0 10h2v1h-2zM14 12h1v1h-1zM13 14h1v1h-1zM12 17h1v1h-1zM11 21h1v1h-1z"/><path fill="#00ff7a" stroke="#00ff7a" d="M12 5h1v1h-1zM10 6h1v1h-1zM8 7h1v1h-1zM6 8h1v1h-1zM4 9h1v1h-1zM2 10h1v1h-1zM15 10h1v1h-1zM12 15h1v1h-1zM12 16h1v1h-1zM11 18h1v1h-1zM11 19h1v1h-1zM11 20h1v1h-1z"/><path fill="#00ff66" stroke="#00ff66" d="M14 4h1v1h-1zM11 6h1v1h-1zM9 7h1v1h-1zM17 7h1v1h-1zM7 8h1v1h-1zM5 9h1v1h-1zM3 10h1v1h-1zM0 11h2v1h-2zM13 13h1v1h-1zM11 17h1v1h-1zM10 21h1v1h-1z"/><path fill="#00ff52" stroke="#00ff52" d="M13 5h1v1h-1zM10 7h1v1h-1zM8 8h1v1h-1zM16 8h1v1h-1zM6 9h1v1h-1zM4 10h1v1h-1zM2 11h1v1h-1zM14 11h1v1h-1zM12 14h1v1h-1zM11 16h1v1h-1zM10 19h1v1h-1zM10 20h1v1h-1z"/><path fill="#00ff3d" stroke="#00ff3d" d="M12 6h1v1h-1zM7 9h1v1h-1zM15 9h1v1h-1zM5 10h1v1h-1zM3 11h1v1h-1zM0 12h2v1h-2zM13 12h1v1h-1zM11 15h1v1h-1zM10 17h1v1h-1zM10 18h1v1h-1z"/><path fill="#00ff28" stroke="#00ff28" d="M11 7h1v1h-1zM9 8h1v1h-1zM6 10h1v1h-1zM14 10h1v1h-1zM4 11h1v1h-1zM2 12h1v1h-1zM12 13h1v1h-1zM9 19h1v1h-1zM9 20h1v1h-1zM9 21h1v1h-1z"/><path fill="#00ff14" stroke="#00ff14" d="M10 8h1v1h-1zM8 9h1v1h-1zM5 11h1v1h-1zM13 11h1v1h-1zM3 12h1v1h-1zM0 13h2v1h-2zM11 14h1v1h-1zM10 16h1v1h-1zM9 18h1v1h-1zM8 21h1v1h-1z"/><path fill="#00ff00" stroke="#00ff00" d="M21 2h1v1h-1zM9 9h1v1h-1zM7 10h1v1h-1zM4 12h1v1h-1zM12 12h1v1h-1zM2 13h1v1h-1zM0 14h1v1h-1zM9 17h1v1h-1zM8 19h1v1h-1zM8 20h1v1h-1z"/><path fill="#04ff00" stroke="#04ff00" d="M20 3h1v1h-1zM6 11h1v1h-1zM3 13h1v1h-1zM1 14h1v1h-1zM10 15h1v1h-1zM7 21h1v1h-1z"/><path fill="#07ff00" stroke="#07ff00" d="M19 0h1v1h-1zM18 1h1v1h-1zM19 4h1v1h-1zM8 10h1v1h-1zM5 12h1v1h-1zM11 13h1v1h-1zM2 14h1v1h-1zM0 15h1v1h-1zM9 16h1v1h-1zM8 18h1v1h-1zM7 20h1v1h-1z"/><path fill="#0bff00" stroke="#0bff00" d="M17 2h1v1h-1zM18 5h1v1h-1zM7 11h1v1h-1zM4 13h1v1h-1zM10 14h1v1h-1zM1 15h1v1h-1zM8 17h1v1h-1zM7 19h1v1h-1zM6 21h1v1h-1z"/><path fill="#0eff00" stroke="#0eff00" d="M16 3h1v1h-1zM17 6h1v1h-1zM6 12h1v1h-1zM3 14h1v1h-1zM9 15h1v1h-1zM0 16h1v1h-1zM6 20h1v1h-1z"/><path fill="#12ff00" stroke="#12ff00" d="M15 4h1v1h-1zM16 7h1v1h-1zM5 13h1v1h-1zM2 15h1v1h-1zM8 16h1v1h-1zM7 18h1v1h-1z"/><path fill="#15ff00" stroke="#15ff00" d="M14 5h1v1h-1zM15 8h1v1h-1zM4 14h1v1h-1zM7 17h1v1h-1zM6 19h1v1h-1zM5 21h1v1h-1z"/><path fill="#19ff00" stroke="#19ff00" d="M13 6h1v1h-1zM14 9h1v1h-1zM3 15h1v1h-1zM1 16h1v1h-1zM6 18h1v1h-1zM5 20h1v1h-1z"/><path fill="#22ff00" stroke="#22ff00" d="M12 7h1v1h-1zM13 10h1v1h-1zM0 17h1v1h-1zM4 21h1v1h-1z"/><path fill="#2cff00" stroke="#2cff00" d="M11 8h1v1h-1zM12 11h1v1h-1zM2 16h1v1h-1zM5 19h1v1h-1z"/><path fill="#36ff00" stroke="#36ff00" d="M10 9h1v1h-1zM1 17h1v1h-1zM4 20h1v1h-1z"/><path fill="#40ff00" stroke="#40ff00" d="M11 12h1v1h-1zM0 18h1v1h-1zM3 21h1v1h-1z"/><path fill="#4bff00" stroke="#4bff00" d="M9 10h1v1h-1zM10 13h1v1h-1z"/><path fill="#56ff00" stroke="#56ff00" d="M8 11h1v1h-1zM9 14h1v1h-1z"/><path fill="#61ff00" stroke="#61ff00" d="M7 12h1v1h-1zM8 15h1v1h-1z"/><path fill="#6cff00" stroke="#6cff00" d="M6 13h1v1h-1zM7 16h1v1h-1z"/><path fill="#77ff00" stroke="#77ff00" d="M5 14h1v1h-1zM6 17h1v1h-1z"/><path fill="#82ff00" stroke="#82ff00" d="M4 15h1v1h-1zM5 18h1v1h-1z"/><path fill="#8eff00" stroke="#8eff00" d="M3 16h1v1h-1zM4 19h1v1h-1z"/><path fill="#9bff00" stroke="#9bff00" d="M2 17h1v1h-1zM3 20h1v1h-1z"/><path fill="#a7ff00" stroke="#a7ff00" d="M1 18h1v1h-1z"/><path fill="#b3ff00" stroke="#b3ff00" d="M0 19h1v1h-1zM2 21h1v1h-1z"/><path fill="#bfff00" stroke="#bfff00" d="M19 1h1v1h-1zM18 2h1v1h-1zM20 2h1v1h-1zM17 3h1v1h-1zM19 3h1v1h-1zM18 4h1v1h-1z"/><path fill="#caff00" stroke="#caff00" d="M16 4h1v1h-1zM15 5h1v1h-1zM17 5h1v1h-1zM14 6h1v1h-1zM16 6h1v1h-1zM15 7h1v1h-1z"/><path fill="#d5ff00" stroke="#d5ff00" d="M13 7h1v1h-1zM12 8h1v1h-1zM14 8h1v1h-1zM13 9h1v1h-1z"/><path fill="#e0ff00" stroke="#e0ff00" d="M11 9h1v1h-1zM10 10h1v1h-1zM12 10h1v1h-1zM11 11h1v1h-1z"/><path fill="#ebff00" stroke="#ebff00" d="M9 11h1v1h-1zM8 12h1v1h-1zM10 12h1v1h-1zM9 13h1v1h-1z"/><path fill="#f6ff00" stroke="#f6ff00" d="M7 13h1v1h-1zM6 14h1v1h-1zM8 14h1v1h-1zM7 15h1v1h-1z"/><path fill="#fffc00" stroke="#fffc00" d="M5 15h1v1h-1zM4 16h1v1h-1zM6 16h1v1h-1zM5 17h1v1h-1z"/><path fill="#ffee00" stroke="#ffee00" d="M3 17h1v1h-1zM2 18h1v1h-1zM4 18h1v1h-1zM3 19h1v1h-1z"/><path fill="#ffe000" stroke="#ffe000" d="M1 19h1v1h-1zM0 20h1v1h-1zM2 20h1v1h-1zM1 21h1v1h-1z"/><path fill="#ffc400" stroke="#ffc400" d="M20 0h1v1h-1zM21 1h1v1h-1z"/><path fill="#8c0000" stroke="#8c0000" d="M21 0h1v1h-1zM20 1h1v1h-1zM19 2h1v1h-1zM18 3h1v1h-1zM17 4h1v1h-1zM16 5h1v1h-1zM15 6h1v1h-1zM14 7h1v1h-1zM13 8h1v1h-1zM12 9h1v1h-1zM11 10h1v1h-1zM10 11h1v1h-1zM9 12h1v1h-1zM8 13h1v1h-1zM7 14h1v1h-1zM6 15h1v1h-1zM5 16h1v1h-1zM4 17h1v1h-1zM3 18h1v1h-1zM2 19h1v1h-1zM1 20h1v1h-1zM0 21h1v1h-1z"/></g>
<g stroke-width=".14" transform="translate(59.7 151) scale(2.79545 2.77727)"><rect stroke="none" x="0.02" y="0.02" width="21.96" height="21.96" fill="#00c87d"/><path fill="#0036ff" stroke="#0036ff" d="M0 0h1v1h-1z"/><path fill="#0046ff" stroke="#0046ff" d="M1 0h3v1h-3zM21 21h1v1h-1z"/><path fill="#0056ff" stroke="#0056ff" d="M4 0h3v1h-3zM0 1h3v1h-3zM21 14h1v1h-1zM21 15h1v1h-1zM21 16h1v1h-1zM21 17h1v1h-1zM21 18h1v1h-1zM20 19h2v1h-2zM20 20h2v1h-2zM20 21h1v1h-1z"/><path fill="#0066ff" stroke="#0066ff" d="M7 0h3v1h-3zM3 1h3v1h-3zM0 2h2v1h-2zM21 8h1v1h-1zM21 9h1v1h-1zM21 10h1v1h-1zM21 11h1v1h-1zM21 12h1v1h-1zM21 13h1v1h-1zM20 14h1v1h-1zM20 15h1v1h-1zM20 16h1v1h-1zM20 17h1v1h-1zM19 18h2v1h-2zM19 19h1v1h-1zM19 20h1v1h-1zM19 21h1v1h-1z"/><path fill="#0076ff" stroke="#0076ff" d="M10 0h1v1h-1zM6 1h3v1h-3zM2 2h3v1h-3zM0 3h1v1h-1zM20 9h1v1h-1zM20 10h1v1h-1zM20 11h1v1h-1zM20 12h1v1h-1zM20 13h1v1h-1zM19 15h1v1h-1zM19 16h1v1h-1zM19 17h1v1h-1zM18 18h1v1h-1zM18 19h1v1h-1zM18 20h1v1h-1zM17 21h2v1h-2z"/><path fill="#0086ff" stroke="#0086ff" d="M11 0h1v1h-1zM9 1h1v1h-1zM5 2h3v1h-3zM1 3h4v1h-4zM21 7h1v1h-1zM19 11h1v1h-1zM19 12h1v1h-1zM19 13h1v1h-1zM19 14h1v1h-1zM18 15h1v1h-1zM18 16h1v1h-1zM18 17h1v1h-1zM17 19h1v1h-1zM17 20h1v1h-1zM16 21h1v1h-1z"/><path fill="#0096ff" stroke="#0096ff" d="M12 0h1v1h-1zM10 1h1v1h-1zM8 2h1v1h-1zM5 3h2v1h-2zM0 4h4v1h-4zM21 6h1v1h-1zM20 8h1v1h-1zM19 10h1v1h-1zM18 12h1v1h-1zM18 13h1v1h-1zM18 14h1v1h-1zM17 16h1v1h-1zM17 17h1v1h-1zM17 18h1v1h-1zM16 19h1v1h-1zM16 20h1v1h-1z"/><path fill="#00aaff" stroke="#00aaff" d="M13 0h1v1h-1zM11 1h1v1h-1zM9 2h2v1h-2zM7 3h2v1h-2zM4 4h3v1h-3zM0 5h4v1h-4zM21 5h1v1h-1zM20 7h1v1h-1zM19 9h1v1h-1zM18 11h1v1h-1zM17 13h1v1h-1zM17 14h1v1h-1zM17 15h1v1h-1zM16 17h1v1h-1zM16 18h1v1h-1zM15 20h1v1h-1zM15 21h1v1h-1z"/><path fill="#00bfff" stroke="#00bfff" d="M14 0h1v1h-1zM12 1h1v1h-1zM11 2h1v1h-1zM9 3h1v1h-1zM7 4h1v1h-1zM4 5h2v1h-2zM0 6h4v1h-4zM20 6h1v1h-1zM19 8h1v1h-1zM18 10h1v1h-1zM17 12h1v1h-1zM16 14h1v1h-1zM16 15h1v1h-1zM16 16h1v1h-1zM15 18h1v1h-1zM15 19h1v1h-1zM14 21h1v1h-1z"/><path fill="#00d4ff" stroke="#00d4ff" d="M13 1h1v1h-1zM10 3h1v1h-1zM8 4h1v1h-1zM6 5h2v1h-2zM4 6h2v1h-2zM0 7h3v1h-3zM19 7h1v1h-1zM18 9h1v1h-1zM17 11h1v1h-1zM16 13h1v1h-1zM15 15h1v1h-1zM15 16h1v1h-1zM15 17h1v1h-1zM14 19h1v1h-1zM14 20h1v1h-1z"/><path fill="#00eaff" stroke="#00eaff" d="M15 0h1v1h-1zM14 1h1v1h-1zM12 2h1v1h-1zM11 3h1v1h-1zM9 4h1v1h-1zM8 5h1v1h-1zM6 6h1v1h-1zM3 7h2v1h-2zM0 8h3v1h-3zM18 8h1v1h-1zM17 10h1v1h-1zM16 12h1v1h-1zM15 14h1v1h-1zM14 17h1v1h-1zM14 18h1v1h-1zM13 20h1v1h-1zM13 21h1v1h-1z"/><path fill="#00ffff" stroke="#00ffff" d="M16 0h1v1h-1zM13 2h1v1h-1zM10 4h1v1h-1zM21 4h1v1h-1zM20 5h1v1h-1zM7 6h1v1h-1zM5 7h1v1h-1zM3 8h2v1h-2zM0 9h2v1h-2zM17 9h1v1h-1zM16 11h1v1h-1zM15 13h1v1h-1zM14 15h1v1h-1zM14 16h1v1h-1zM13 18h1v1h-1zM13 19h1v1h-1zM12 20h1v1h-1zM12 21h1v1h-1z"/><path fill="#00ffec" stroke="#00ffec" d="M15 1h1v1h-1zM14 2h1v1h-1zM12 3h1v1h-1zM11 4h1v1h-1zM9 5h1v1h-1zM8 6h1v1h-1zM19 6h1v1h-1zM6 7h1v1h-1zM5 8h1v1h-1zM2 9h2v1h-2zM0 10h2v1h-2zM16 10h1v1h-1zM15 12h1v1h-1zM14 14h1v1h-1zM13 16h1v1h-1zM13 17h1v1h-1zM12 19h1v1h-1zM11 21h1v1h-1z"/><path fill="#00ffda" stroke="#00ffda" d="M13 3h1v1h-1zM10 5h1v1h-1zM7 7h1v1h-1zM18 7h1v1h-1zM4 9h1v1h-1zM2 10h1v1h-1zM0 11h2v1h-2zM14 13h1v1h-1zM13 15h1v1h-1zM12 17h1v1h-1zM12 18h1v1h-1zM11 20h1v1h-1z"/><path fill="#00ffc7" stroke="#00ffc7" d="M17 0h1v1h-1zM21 3h1v1h-1zM12 4h1v1h-1zM9 6h1v1h-1zM8 7h1v1h-1zM6 8h1v1h-1zM17 8h1v1h-1zM5 9h1v1h-1zM3 10h1v1h-1zM2 11h1v1h-1zM15 11h1v1h-1zM0 12h1v1h-1zM13 14h1v1h-1zM12 16h1v1h-1zM11 18h1v1h-1zM11 19h1v1h-1zM10 21h1v1h-1z"/><path fill="#00ffb5" stroke="#00ffb5" d="M16 1h1v1h-1zM15 2h1v1h-1zM20 4h1v1h-1zM11 5h1v1h-1zM10 6h1v1h-1zM7 8h1v1h-1zM16 9h1v1h-1zM4 10h1v1h-1zM1 12h1v1h-1zM14 12h1v1h-1zM12 15h1v1h-1zM11 17h1v1h-1zM10 20h1v1h-1z"/><path fill="#00ffa2" stroke="#00ffa2" d="M14 3h1v1h-1zM19 5h1v1h-1zM9 7h1v1h-1zM6 9h1v1h-1zM5 10h1v1h-1zM15 10h1v1h-1zM3 11h1v1h-1zM2 12h1v1h-1zM0 13h1v1h-1zM13 13h1v1h-1zM10 18h1v1h-1zM10 19h1v1h-1zM9 21h1v1h-1z"/><path fill="#00ff8e" stroke="#00ff8e" d="M18 0h1v1h-1zM13 4h1v1h-1zM12 5h1v1h-1zM18 6h1v1h-1zM8 8h1v1h-1zM4 11h1v1h-1zM14 11h1v1h-1zM1 13h1v1h-1zM12 14h1v1h-1zM11 16h1v1h-1zM9 19h1v1h-1zM9 20h1v1h-1z"/><path fill="#00ff7a" stroke="#00ff7a" d="M17 1h1v1h-1zM16 2h1v1h-1zM11 6h1v1h-1zM17 7h1v1h-1zM7 9h1v1h-1zM6 10h1v1h-1zM3 12h1v1h-1zM13 12h1v1h-1zM2 13h1v1h-1zM0 14h1v1h-1zM11 15h1v1h-1zM10 17h1v1h-1zM8 21h1v1h-1z"/><path fill="#00ff66" stroke="#00ff66" d="M15 3h1v1h-1zM10 7h1v1h-1zM9 8h1v1h-1zM16 8h1v1h-1zM15 9h1v1h-1zM5 11h1v1h-1zM12 13h1v1h-1zM1 14h1v1h-1zM10 16h1v1h-1zM9 18h1v1h-1zM8 20h1v1h-1z"/><path fill="#00ff52" stroke="#00ff52" d="M14 4h1v1h-1zM8 9h1v1h-1zM14 10h1v1h-1zM4 12h1v1h-1zM11 14h1v1h-1zM0 15h1v1h-1zM9 17h1v1h-1zM8 19h1v1h-1zM7 21h1v1h-1z"/><path fill="#00ff3d" stroke="#00ff3d" d="M13 5h1v1h-1zM12 6h1v1h-1zM7 10h1v1h-1zM13 11h1v1h-1zM3 13h1v1h-1zM2 14h1v1h-1zM10 15h1v1h-1zM8 18h1v1h-1zM7 20h1v1h-1z"/><path fill="#00ff28" stroke="#00ff28" d="M11 7h1v1h-1zM6 11h1v1h-1zM5 12h1v1h-1zM12 12h1v1h-1zM1 15h1v1h-1zM9 16h1v1h-1zM7 19h1v1h-1zM6 21h1v1h-1z"/><path fill="#00ff14" stroke="#00ff14" d="M10 8h1v1h-1zM4 13h1v1h-1zM11 13h1v1h-1zM0 16h1v1h-1zM8 17h1v1h-1zM6 20h1v1h-1z"/><path fill="#00ff00" stroke="#00ff00" d="M9 9h1v1h-1zM8 10h1v1h-1zM3 14h1v1h-1zM10 14h1v1h-1zM2 15h1v1h-1zM7 18h1v1h-1zM6 19h1v1h-1zM5 21h1v1h-1z"/><path fill="#04ff00" stroke="#04ff00" d="M7 11h1v1h-1zM9 15h1v1h-1zM1 16h1v1h-1zM5 20h1v1h-1z"/><path fill="#07ff00" stroke="#07ff00" d="M21 2h1v1h-1zM6 12h1v1h-1zM8 16h1v1h-1zM0 17h1v1h-1zM4 21h1v1h-1z"/><path fill="#0bff00" stroke="#0bff00" d="M20 3h1v1h-1zM19 4h1v1h-1zM18 5h1v1h-1zM17 6h1v1h-1zM5 13h1v1h-1zM4 14h1v1h-1zM7 17h1v1h-1z"/><path fill="#0eff00" stroke="#0eff00" d="M19 0h1v1h-1zM17 2h1v1h-1zM16 7h1v1h-1zM15 8h1v1h-1zM3 15h1v1h-1zM6 18h1v1h-1z"/><path fill="#12ff00" stroke="#12ff00" d="M18 1h1v1h-1zM16 3h1v1h-1zM15 4h1v1h-1zM14 9h1v1h-1zM2 16h1v1h-1zM5 19h1v1h-1z"/><path fill="#15ff00" stroke="#15ff00" d="M14 5h1v1h-1zM13 6h1v1h-1zM13 10h1v1h-1zM1 17h1v1h-1zM4 20h1v1h-1z"/><path fill="#19ff00" stroke="#19ff00" d="M12 7h1v1h-1zM12 11h1v1h-1zM11 12h1v1h-1zM10 13h1v1h-1zM9 14h1v1h-1zM0 18h1v1h-1zM3 21h1v1h-1z"/><path fill="#22ff00" stroke="#22ff00" d="M11 8h1v1h-1zM8 15h1v1h-1zM7 16h1v1h-1z"/><path fill="#2cff00" stroke="#2cff00" d="M10 9h1v1h-1zM9 10h1v1h-1zM8 11h1v1h-1zM7 12h1v1h-1zM6 17h1v1h-1zM5 18h1v1h-1z"/><path fill="#36ff00" stroke="#36ff00" d="M6 13h1v1h-1zM5 14h1v1h-1zM4 19h1v1h-1zM3 20h1v1h-1z"/><path fill="#40ff00" stroke="#40ff00" d="M4 15h1v1h-1zM3 16h1v1h-1zM2 21h1v1h-1z"/><path fill="#4bff00" stroke="#4bff00" d="M2 17h1v1h-1zM1 18h1v1h-1z"/><path fill="#56ff00" stroke="#56ff00" d="M0 19h1v1h-1z"/><path fill="#ebff00" stroke="#ebff00" d="M17 3h1v1h-1zM16 4h1v1h-1zM18 4h1v1h-1zM15 5h1v1h-1zM17 5h1v1h-1zM14 6h1v1h-1zM16 6h1v1h-1zM13 7h1v1h-1zM15 7h1v1h-1zM14 8h1v1h-1z"/><path fill="#f6ff00" stroke="#f6ff00" d="M8 12h1v1h-1zM7 13h1v1h-1zM9 13h1v1h-1zM6 14h1v1h-1zM8 14h1v1h-1zM5 15h1v1h-1zM7 15h1v1h-1zM4 16h1v1h-1zM6 16h1v1h-1zM3 17h1v1h-1zM5 17h1v1h-1zM2 18h1v1h-1zM4 18h1v1h-1zM1 19h1v1h-1zM3 19h1v1h-1zM0 20h1v1h-1zM2 20h1v1h-1zM1 21h1v1h-1z"/><path fill="#fffc00" stroke="#fffc00" d="M20 0h1v1h-1zM21 1h1v1h-1zM12 8h1v1h-1zM13 9h1v1h-1z"/><path fill="#ffee00" stroke="#ffee00" d="M9 11h1v1h-1zM10 12h1v1h-1z"/><path fill="#ffd200" stroke="#ffd200" d="M18 2h1v1h-1zM19 3h1v1h-1z"/><path fill="#ff9a00" stroke="#ff9a00" d="M11 9h1v1h-1zM10 10h1v1h-1zM12 10h1v1h-1zM11 11h1v1h-1z"/><path fill="#ff7f00" stroke="#ff7f00" d="M19 1h1v1h-1zM20 2h1v1h-1z"/><path fill="#8c0000" stroke="#8c0000" d="M21 0h1v1h-1zM20 1h1v1h-1zM19 2h1v1h-1zM18 3h1v1h-1zM17 4h1v1h-1zM16 5h1v1h-1zM15 6h1v1h-1zM14 7h1v1h-1zM13 8h1v1h-1zM12 9h1v1h-1zM11 10h1v1h-1zM10 11h1v1h-1zM9 12h1v1h-1zM8 13h1v1h-1zM7 14h1v1h-1zM6 15h1v1h-1zM5 16h1v1h-1zM4 17h1v1h-1zM3 18h1v1h-1zM2 19h1v1h-1zM1 20h1v1h-1zM0 21h1v1h-1z"/></g>
<g stroke-width=".14" transform="translate(126.8 151) scale(2.79545 2.77727)"><rect stroke="none" x="0.02" y="0.02" width="21.96" height="21.96" fill="#00b9d2"/><path fill="#0006ff" stroke="#0006ff" d="M21 19h1v1h-1zM21 20h1v1h-1zM21 21h1v1h-1z"/><path fill="#0016ff" stroke="#0016ff" d="M21 14h1v1h-1zM21 15h1v1h-1zM21 16h1v1h-1zM20 17h2v1h-2zM20 18h2v1h-2zM19 19h2v1h-2zM19 20h2v1h-2zM19 21h2v1h-2z"/><path fill="#0026ff" stroke="#0026ff" d="M0 0h5v1h-5zM0 1h2v1h-2zM21 11h1v1h-1zM21 12h1v1h-1zM20 13h2v1h-2zM20 14h1v1h-1zM20 15h1v1h-1zM19 16h2v1h-2zM19 17h1v1h-1zM18 18h2v1h-2zM18 19h1v1h-1zM17 20h2v1h-2zM16 21h3v1h-3z"/><path fill="#0036ff" stroke="#0036ff" d="M5 0h2v1h-2zM2 1h2v1h-2zM0 2h2v1h-2zM21 10h1v1h-1zM20 11h1v1h-1zM20 12h1v1h-1zM19 13h1v1h-1zM19 14h1v1h-1zM18 15h2v1h-2zM18 16h1v1h-1zM17 17h2v1h-2zM17 18h1v1h-1zM17 19h1v1h-1zM16 20h1v1h-1zM15 21h1v1h-1z"/><path fill="#0046ff" stroke="#0046ff" d="M7 0h2v1h-2zM4 1h3v1h-3zM2 2h2v1h-2zM0 3h2v1h-2zM21 9h1v1h-1zM20 10h1v1h-1zM19 12h1v1h-1zM18 14h1v1h-1zM17 15h1v1h-1zM17 16h1v1h-1zM16 17h1v1h-1zM16 18h1v1h-1zM15 19h2v1h-2zM15 20h1v1h-1zM14 21h1v1h-1z"/><path fill="#0056ff" stroke="#0056ff" d="M9 0h1v1h-1zM7 1h2v1h-2zM4 2h3v1h-3zM2 3h3v1h-3zM0 4h2v1h-2zM21 8h1v1h-1zM20 9h1v1h-1zM19 11h1v1h-1zM18 12h1v1h-1zM18 13h1v1h-1zM17 14h1v1h-1zM16 16h1v1h-1zM15 17h1v1h-1zM15 18h1v1h-1zM14 19h1v1h-1zM14 20h1v1h-1zM13 21h1v1h-1z"/><path fill="#0066ff" stroke="#0066ff" d="M10 0h1v1h-1zM9 1h1v1h-1zM7 2h1v1h-1zM5 3h2v1h-2zM2 4h3v1h-3zM0 5h3v1h-3zM21 7h1v1h-1zM19 10h1v1h-1zM18 11h1v1h-1zM17 13h1v1h-1zM16 15h1v1h-1zM15 16h1v1h-1zM14 18h1v1h-1zM13 19h1v1h-1zM13 20h1v1h-1zM12 21h1v1h-1z"/><path fill="#0076ff" stroke="#0076ff" d="M11 0h2v1h-2zM10 1h1v1h-1zM8 2h2v1h-2zM7 3h1v1h-1zM5 4h2v1h-2zM3 5h2v1h-2zM0 6h3v1h-3zM20 8h1v1h-1zM19 9h1v1h-1zM17 12h1v1h-1zM16 13h1v1h-1zM16 14h1v1h-1zM15 15h1v1h-1zM14 17h1v1h-1zM13 18h1v1h-1zM12 20h1v1h-1z"/><path fill="#0086ff" stroke="#0086ff" d="M13 0h1v1h-1zM11 1h1v1h-1zM10 2h1v1h-1zM8 3h1v1h-1zM7 4h1v1h-1zM5 5h1v1h-1zM3 6h2v1h-2zM21 6h1v1h-1zM0 7h3v1h-3zM20 7h1v1h-1zM0 8h1v1h-1zM18 10h1v1h-1zM17 11h1v1h-1zM15 14h1v1h-1zM14 15h1v1h-1zM14 16h1v1h-1zM13 17h1v1h-1zM12 19h1v1h-1zM11 20h1v1h-1zM11 21h1v1h-1z"/><path fill="#0096ff" stroke="#0096ff" d="M12 1h1v1h-1zM11 2h1v1h-1zM9 3h2v1h-2zM8 4h1v1h-1zM6 5h2v1h-2zM21 5h1v1h-1zM5 6h1v1h-1zM3 7h2v1h-2zM1 8h2v1h-2zM19 8h1v1h-1zM0 9h1v1h-1zM18 9h1v1h-1zM16 12h1v1h-1zM15 13h1v1h-1zM13 16h1v1h-1zM12 18h1v1h-1zM11 19h1v1h-1zM10 21h1v1h-1z"/><path fill="#00aaff" stroke="#00aaff" d="M14 0h1v1h-1zM13 1h1v1h-1zM12 2h1v1h-1zM11 3h1v1h-1zM9 4h1v1h-1zM8 5h1v1h-1zM6 6h2v1h-2zM20 6h1v1h-1zM5 7h1v1h-1zM19 7h1v1h-1zM3 8h1v1h-1zM18 8h1v1h-1zM1 9h2v1h-2zM0 10h1v1h-1zM17 10h1v1h-1zM16 11h1v1h-1zM15 12h1v1h-1zM14 14h1v1h-1zM13 15h1v1h-1zM12 17h1v1h-1zM11 18h1v1h-1zM10 20h1v1h-1zM9 21h1v1h-1z"/><path fill="#00bfff" stroke="#00bfff" d="M15 0h1v1h-1zM14 1h1v1h-1zM13 2h1v1h-1zM10 4h1v1h-1zM9 5h1v1h-1zM8 6h1v1h-1zM6 7h1v1h-1zM4 8h2v1h-2zM3 9h1v1h-1zM17 9h1v1h-1zM1 10h2v1h-2zM16 10h1v1h-1zM0 11h1v1h-1zM14 13h1v1h-1zM13 14h1v1h-1zM12 16h1v1h-1zM11 17h1v1h-1zM10 19h1v1h-1zM9 20h1v1h-1z"/><path fill="#00d4ff" stroke="#00d4ff" d="M16 0h1v1h-1zM15 1h1v1h-1zM12 3h1v1h-1zM11 4h1v1h-1zM21 4h1v1h-1zM10 5h1v1h-1zM20 5h1v1h-1zM9 6h1v1h-1zM7 7h1v1h-1zM6 8h1v1h-1zM4 9h2v1h-2zM3 10h1v1h-1zM1 11h2v1h-2zM15 11h1v1h-1zM0 12h1v1h-1zM14 12h1v1h-1zM13 13h1v1h-1zM12 15h1v1h-1zM11 16h1v1h-1zM10 18h1v1h-1zM9 19h1v1h-1zM8 21h1v1h-1z"/><path fill="#00eaff" stroke="#00eaff" d="M14 2h1v1h-1zM13 3h1v1h-1zM12 4h1v1h-1zM11 5h1v1h-1zM10 6h1v1h-1zM19 6h1v1h-1zM8 7h1v1h-1zM18 7h1v1h-1zM7 8h1v1h-1zM17 8h1v1h-1zM6 9h1v1h-1zM16 9h1v1h-1zM4 10h2v1h-2zM3 11h1v1h-1zM1 12h2v1h-2zM0 13h1v1h-1zM12 14h1v1h-1zM11 15h1v1h-1zM10 17h1v1h-1zM9 18h1v1h-1zM8 19h1v1h-1zM8 20h1v1h-1zM7 21h1v1h-1z"/><path fill="#00ffff" stroke="#00ffff" d="M9 7h1v1h-1zM8 8h1v1h-1zM7 9h1v1h-1zM6 10h1v1h-1zM15 10h1v1h-1zM4 11h2v1h-2zM14 11h1v1h-1zM3 12h1v1h-1zM13 12h1v1h-1zM1 13h2v1h-2zM0 14h2v1h-2zM10 16h1v1h-1zM9 17h1v1h-1zM8 18h1v1h-1zM7 20h1v1h-1zM6 21h1v1h-1z"/><path fill="#00ffec" stroke="#00ffec" d="M17 0h1v1h-1zM4 12h1v1h-1zM3 13h1v1h-1zM12 13h1v1h-1zM2 14h1v1h-1zM11 14h1v1h-1zM0 15h2v1h-2zM10 15h1v1h-1zM0 16h1v1h-1zM9 16h1v1h-1zM7 19h1v1h-1zM6 20h1v1h-1z"/><path fill="#00ffda" stroke="#00ffda" d="M16 1h1v1h-1zM15 2h1v1h-1zM14 3h1v1h-1zM21 3h1v1h-1zM13 4h1v1h-1zM20 4h1v1h-1zM12 5h1v1h-1zM19 5h1v1h-1zM11 6h1v1h-1zM18 6h1v1h-1zM10 7h1v1h-1zM17 7h1v1h-1zM9 8h1v1h-1zM16 8h1v1h-1zM8 9h1v1h-1zM7 10h1v1h-1zM8 17h1v1h-1zM7 18h1v1h-1zM6 19h1v1h-1zM5 21h1v1h-1z"/><path fill="#00ffc7" stroke="#00ffc7" d="M15 9h1v1h-1zM14 10h1v1h-1zM6 11h1v1h-1zM13 11h1v1h-1zM5 12h1v1h-1zM12 12h1v1h-1zM4 13h1v1h-1zM11 13h1v1h-1zM3 14h1v1h-1zM2 15h1v1h-1zM1 16h1v1h-1zM0 17h1v1h-1zM5 20h1v1h-1zM4 21h1v1h-1z"/><path fill="#00ffb5" stroke="#00ffb5" d="M10 14h1v1h-1zM9 15h1v1h-1zM8 16h1v1h-1zM7 17h1v1h-1z"/><path fill="#00ffa2" stroke="#00ffa2" d="M18 0h1v1h-1zM15 3h1v1h-1zM14 4h1v1h-1zM13 5h1v1h-1zM12 6h1v1h-1zM11 7h1v1h-1zM10 8h1v1h-1zM9 9h1v1h-1zM8 10h1v1h-1zM7 11h1v1h-1zM6 12h1v1h-1zM5 13h1v1h-1zM4 14h1v1h-1zM3 15h1v1h-1zM2 16h1v1h-1zM1 17h1v1h-1zM0 18h1v1h-1zM6 18h1v1h-1zM5 19h1v1h-1zM4 20h1v1h-1zM3 21h1v1h-1z"/><path fill="#00ff8e" stroke="#00ff8e" d="M17 1h1v1h-1zM16 2h1v1h-1z"/><path fill="#00ff66" stroke="#00ff66" d="M10 13h1v1h-1zM9 14h1v1h-1zM8 15h1v1h-1zM7 16h1v1h-1zM6 17h1v1h-1zM5 18h1v1h-1zM4 19h1v1h-1zM3 20h1v1h-1zM2 21h1v1h-1z"/><path fill="#00ff52" stroke="#00ff52" d="M12 11h1v1h-1zM11 12h1v1h-1zM2 17h1v1h-1zM1 18h1v1h-1zM0 19h1v1h-1z"/><path fill="#00ff3d" stroke="#00ff3d" d="M13 10h1v1h-1zM7 12h1v1h-1zM6 13h1v1h-1zM5 14h1v1h-1zM4 15h1v1h-1zM3 16h1v1h-1z"/><path fill="#00ff28" stroke="#00ff28" d="M10 9h1v1h-1zM14 9h1v1h-1zM9 10h1v1h-1zM8 11h1v1h-1z"/><path fill="#00ff14" stroke="#00ff14" d="M11 8h1v1h-1z"/><path fill="#00ff00" stroke="#00ff00" d="M15 8h1v1h-1z"/><path fill="#04ff00" stroke="#04ff00" d="M12 7h1v1h-1zM0 20h1v1h-1zM1 21h1v1h-1z"/><path fill="#07ff00" stroke="#07ff00" d="M16 7h1v1h-1zM1 19h1v1h-1zM2 20h1v1h-1z"/><path fill="#0bff00" stroke="#0bff00" d="M13 6h1v1h-1zM2 18h1v1h-1zM3 19h1v1h-1z"/><path fill="#0eff00" stroke="#0eff00" d="M3 17h1v1h-1zM4 18h1v1h-1z"/><path fill="#12ff00" stroke="#12ff00" d="M21 2h1v1h-1zM14 5h1v1h-1zM17 6h1v1h-1zM8 12h1v1h-1zM9 13h1v1h-1zM4 16h1v1h-1zM5 17h1v1h-1z"/><path fill="#15ff00" stroke="#15ff00" d="M18 5h1v1h-1zM9 11h1v1h-1zM10 12h1v1h-1zM7 13h1v1h-1zM6 14h1v1h-1zM8 14h1v1h-1zM5 15h1v1h-1zM7 15h1v1h-1zM6 16h1v1h-1z"/><path fill="#19ff00" stroke="#19ff00" d="M20 3h1v1h-1zM19 4h1v1h-1zM10 10h1v1h-1zM11 11h1v1h-1z"/><path fill="#22ff00" stroke="#22ff00" d="M15 4h1v1h-1z"/><path fill="#2cff00" stroke="#2cff00" d="M19 0h1v1h-1z"/><path fill="#36ff00" stroke="#36ff00" d="M18 1h1v1h-1zM16 3h1v1h-1z"/><path fill="#40ff00" stroke="#40ff00" d="M17 2h1v1h-1zM11 9h1v1h-1zM12 10h1v1h-1z"/><path fill="#77ff00" stroke="#77ff00" d="M12 8h1v1h-1zM13 9h1v1h-1z"/><path fill="#d5ff00" stroke="#d5ff00" d="M13 7h1v1h-1zM14 8h1v1h-1z"/><path fill="#ffa800" stroke="#ffa800" d="M14 6h1v1h-1zM15 7h1v1h-1z"/><path fill="#ff1700" stroke="#ff1700" d="M15 5h1v1h-1zM16 6h1v1h-1z"/><path fill="#ac0000" stroke="#ac0000" d="M16 4h1v1h-1zM17 5h1v1h-1z"/><path fill="#8c0000" stroke="#8c0000" d="M20 0h2v1h-2zM19 1h3v1h-3zM18 2h3v1h-3zM17 3h3v1h-3zM17 4h2v1h-2zM16 5h1v1h-1zM15 6h1v1h-1zM14 7h1v1h-1zM13 8h1v1h-1zM12 9h1v1h-1zM11 10h1v1h-1zM10 11h1v1h-1zM9 12h1v1h-1zM8 13h1v1h-1zM7 14h1v1h-1zM6 15h1v1h-1zM5 16h1v1h-1zM4 17h1v1h-1zM3 18h1v1h-1zM2 19h1v1h-1zM1 20h1v1h-1zM0 21h1v1h-1z"/></g>
<g stroke-width=".14" transform="translate(193.9 151) scale(2.79545 2.77727)"><rect stroke="none" x="0.02" y="0.02" width="21.96" height="21.96" fill="#00c828"/><path fill="#0056ff" stroke="#0056ff" d="M0 0h2v1h-2z"/><path fill="#0066ff" stroke="#0066ff" d="M2 0h2v1h-2zM0 1h1v1h-1zM21 20h1v1h-1zM21 21h1v1h-1z"/><path fill="#0076ff" stroke="#0076ff" d="M4 0h1v1h-1zM1 1h2v1h-2zM0 2h1v1h-1zM21 17h1v1h-1zM21 18h1v1h-1zM21 19h1v1h-1zM20 20h1v1h-1zM20 21h1v1h-1z"/><path fill="#0086ff" stroke="#0086ff" d="M5 0h1v1h-1zM3 1h1v1h-1zM1 2h1v1h-1zM21 14h1v1h-1zM21 15h1v1h-1zM21 16h1v1h-1zM20 17h1v1h-1zM20 18h1v1h-1zM20 19h1v1h-1zM19 20h1v1h-1zM19 21h1v1h-1z"/><path fill="#0096ff" stroke="#0096ff" d="M6 0h1v1h-1zM4 1h1v1h-1zM2 2h1v1h-1zM0 3h1v1h-1zM21 13h1v1h-1zM20 15h1v1h-1zM20 16h1v1h-1zM19 18h1v1h-1zM19 19h1v1h-1zM18 21h1v1h-1z"/><path fill="#00aaff" stroke="#00aaff" d="M7 0h1v1h-1zM5 1h1v1h-1zM3 2h1v1h-1zM1 3h2v1h-2zM21 11h1v1h-1zM21 12h1v1h-1zM20 14h1v1h-1zM19 16h1v1h-1zM19 17h1v1h-1zM18 19h1v1h-1zM18 20h1v1h-1z"/><path fill="#00bfff" stroke="#00bfff" d="M8 0h1v1h-1zM6 1h1v1h-1zM4 2h1v1h-1zM3 3h1v1h-1zM0 4h2v1h-2zM21 10h1v1h-1zM20 12h1v1h-1zM20 13h1v1h-1zM19 15h1v1h-1zM18 17h1v1h-1zM18 18h1v1h-1zM17 20h1v1h-1zM17 21h1v1h-1z"/><path fill="#00d4ff" stroke="#00d4ff" d="M7 1h1v1h-1zM5 2h1v1h-1zM4 3h1v1h-1zM2 4h1v1h-1zM0 5h1v1h-1zM21 9h1v1h-1zM20 11h1v1h-1zM19 13h1v1h-1zM19 14h1v1h-1zM18 16h1v1h-1zM17 18h1v1h-1zM17 19h1v1h-1zM16 21h1v1h-1z"/><path fill="#00eaff" stroke="#00eaff" d="M9 0h2v1h-2zM8 1h1v1h-1zM6 2h1v1h-1zM5 3h1v1h-1zM3 4h1v1h-1zM1 5h2v1h-2zM0 6h1v1h-1zM21 8h1v1h-1zM20 10h1v1h-1zM19 12h1v1h-1zM18 14h1v1h-1zM18 15h1v1h-1zM17 17h1v1h-1zM16 19h1v1h-1zM16 20h1v1h-1z"/><path fill="#00ffff" stroke="#00ffff" d="M11 0h1v1h-1zM9 1h1v1h-1zM7 2h2v1h-2zM6 3h1v1h-1zM4 4h1v1h-1zM3 5h1v1h-1zM1 6h1v1h-1zM0 7h1v1h-1zM21 7h1v1h-1zM20 9h1v1h-1zM19 11h1v1h-1zM18 13h1v1h-1zM17 16h1v1h-1zM16 18h1v1h-1zM15 20h1v1h-1zM15 21h1v1h-1z"/><path fill="#00ffec" stroke="#00ffec" d="M12 0h2v1h-2zM10 1h2v1h-2zM9 2h1v1h-1zM7 3h1v1h-1zM5 4h2v1h-2zM4 5h1v1h-1zM2 6h1v1h-1zM1 7h1v1h-1zM20 8h1v1h-1zM19 10h1v1h-1zM18 12h1v1h-1zM17 14h1v1h-1zM17 15h1v1h-1zM16 17h1v1h-1zM15 19h1v1h-1zM14 21h1v1h-1z"/><path fill="#00ffda" stroke="#00ffda" d="M12 1h1v1h-1zM10 2h1v1h-1zM8 3h1v1h-1zM7 4h1v1h-1zM5 5h1v1h-1zM3 6h1v1h-1zM2 7h1v1h-1zM0 8h1v1h-1zM19 9h1v1h-1zM18 11h1v1h-1zM17 13h1v1h-1zM16 15h1v1h-1zM16 16h1v1h-1zM15 18h1v1h-1zM14 20h1v1h-1z"/><path fill="#00ffc7" stroke="#00ffc7" d="M14 0h1v1h-1zM11 2h1v1h-1zM9 3h1v1h-1zM8 4h1v1h-1zM6 5h1v1h-1zM4 6h1v1h-1zM21 6h1v1h-1zM3 7h1v1h-1zM1 8h1v1h-1zM0 9h1v1h-1zM18 10h1v1h-1zM17 12h1v1h-1zM16 14h1v1h-1zM15 16h1v1h-1zM15 17h1v1h-1zM14 19h1v1h-1zM13 21h1v1h-1z"/><path fill="#00ffb5" stroke="#00ffb5" d="M13 1h1v1h-1zM10 3h1v1h-1zM9 4h1v1h-1zM7 5h1v1h-1zM5 6h1v1h-1zM4 7h1v1h-1zM20 7h1v1h-1zM2 8h1v1h-1zM19 8h1v1h-1zM1 9h1v1h-1zM17 11h1v1h-1zM16 13h1v1h-1zM15 15h1v1h-1zM14 17h1v1h-1zM14 18h1v1h-1zM13 20h1v1h-1z"/><path fill="#00ffa2" stroke="#00ffa2" d="M15 0h1v1h-1zM12 2h1v1h-1zM11 3h1v1h-1zM8 5h1v1h-1zM21 5h1v1h-1zM6 6h1v1h-1zM5 7h1v1h-1zM3 8h1v1h-1zM2 9h1v1h-1zM18 9h1v1h-1zM0 10h1v1h-1zM16 12h1v1h-1zM15 14h1v1h-1zM14 16h1v1h-1zM13 18h1v1h-1zM13 19h1v1h-1zM12 21h1v1h-1z"/><path fill="#00ff8e" stroke="#00ff8e" d="M14 1h1v1h-1zM13 2h1v1h-1zM10 4h1v1h-1zM7 6h1v1h-1zM20 6h1v1h-1zM6 7h1v1h-1zM19 7h1v1h-1zM4 8h1v1h-1zM1 10h1v1h-1zM17 10h1v1h-1zM15 13h1v1h-1zM14 15h1v1h-1zM13 17h1v1h-1zM12 20h1v1h-1z"/><path fill="#00ff7a" stroke="#00ff7a" d="M16 0h1v1h-1zM15 1h1v1h-1zM12 3h1v1h-1zM9 5h1v1h-1zM8 6h1v1h-1zM5 8h1v1h-1zM18 8h1v1h-1zM3 9h1v1h-1zM2 10h1v1h-1zM0 11h1v1h-1zM16 11h1v1h-1zM14 14h1v1h-1zM13 16h1v1h-1zM12 18h1v1h-1zM12 19h1v1h-1zM11 21h1v1h-1z"/><path fill="#00ff66" stroke="#00ff66" d="M14 2h1v1h-1zM11 4h1v1h-1zM10 5h1v1h-1zM7 7h1v1h-1zM4 9h1v1h-1zM17 9h1v1h-1zM3 10h1v1h-1zM1 11h1v1h-1zM15 12h1v1h-1zM13 15h1v1h-1zM12 17h1v1h-1zM11 20h1v1h-1z"/><path fill="#00ff52" stroke="#00ff52" d="M13 3h1v1h-1zM12 4h1v1h-1zM21 4h1v1h-1zM20 5h1v1h-1zM9 6h1v1h-1zM6 8h1v1h-1zM5 9h1v1h-1zM16 10h1v1h-1zM2 11h1v1h-1zM0 12h1v1h-1zM14 13h1v1h-1zM12 16h1v1h-1zM11 18h1v1h-1zM11 19h1v1h-1zM10 21h1v1h-1z"/><path fill="#00ff3d" stroke="#00ff3d" d="M11 5h1v1h-1zM19 6h1v1h-1zM8 7h1v1h-1zM7 8h1v1h-1zM4 10h1v1h-1zM15 11h1v1h-1zM1 12h1v1h-1zM13 14h1v1h-1zM11 17h1v1h-1zM10 19h1v1h-1zM10 20h1v1h-1z"/><path fill="#00ff28" stroke="#00ff28" d="M17 0h1v1h-1zM16 1h1v1h-1zM10 6h1v1h-1zM9 7h1v1h-1zM18 7h1v1h-1zM6 9h1v1h-1zM3 11h1v1h-1zM2 12h1v1h-1zM14 12h1v1h-1zM0 13h1v1h-1zM12 15h1v1h-1zM10 18h1v1h-1zM9 20h1v1h-1zM9 21h1v1h-1z"/><path fill="#00ff14" stroke="#00ff14" d="M15 2h1v1h-1zM8 8h1v1h-1zM17 8h1v1h-1zM16 9h1v1h-1zM5 10h1v1h-1zM4 11h1v1h-1zM1 13h1v1h-1zM13 13h1v1h-1zM11 16h1v1h-1zM9 19h1v1h-1zM8 21h1v1h-1z"/><path fill="#00ff00" stroke="#00ff00" d="M14 3h1v1h-1zM13 4h1v1h-1zM7 9h1v1h-1zM6 10h1v1h-1zM15 10h1v1h-1zM3 12h1v1h-1zM0 14h1v1h-1zM12 14h1v1h-1zM10 17h1v1h-1zM8 20h1v1h-1z"/><path fill="#04ff00" stroke="#04ff00" d="M18 0h1v1h-1zM21 3h1v1h-1zM12 5h1v1h-1zM11 6h1v1h-1zM5 11h1v1h-1zM14 11h1v1h-1zM2 13h1v1h-1zM1 14h1v1h-1zM11 15h1v1h-1zM10 16h1v1h-1zM9 18h1v1h-1zM8 19h1v1h-1zM7 21h1v1h-1z"/><path fill="#07ff00" stroke="#07ff00" d="M17 1h1v1h-1zM20 4h1v1h-1zM19 5h1v1h-1zM10 7h1v1h-1zM4 12h1v1h-1zM13 12h1v1h-1zM3 13h1v1h-1zM12 13h1v1h-1zM0 15h1v1h-1zM9 17h1v1h-1zM7 20h1v1h-1z"/><path fill="#0bff00" stroke="#0bff00" d="M16 2h1v1h-1zM15 3h1v1h-1zM18 6h1v1h-1zM9 8h1v1h-1zM8 9h1v1h-1zM2 14h1v1h-1zM11 14h1v1h-1zM8 18h1v1h-1zM6 21h1v1h-1z"/><path fill="#0eff00" stroke="#0eff00" d="M14 4h1v1h-1zM17 7h1v1h-1zM16 8h1v1h-1zM7 10h1v1h-1zM1 15h1v1h-1zM10 15h1v1h-1zM0 16h1v1h-1zM7 19h1v1h-1z"/><path fill="#12ff00" stroke="#12ff00" d="M13 5h1v1h-1zM12 6h1v1h-1zM15 9h1v1h-1zM14 10h1v1h-1zM6 11h1v1h-1zM5 12h1v1h-1zM9 16h1v1h-1zM8 17h1v1h-1zM6 20h1v1h-1z"/><path fill="#15ff00" stroke="#15ff00" d="M11 7h1v1h-1zM13 11h1v1h-1zM12 12h1v1h-1zM4 13h1v1h-1zM7 18h1v1h-1zM5 21h1v1h-1z"/><path fill="#19ff00" stroke="#19ff00" d="M10 8h1v1h-1zM9 9h1v1h-1zM11 13h1v1h-1zM3 14h1v1h-1zM10 14h1v1h-1zM2 15h1v1h-1zM6 19h1v1h-1z"/><path fill="#22ff00" stroke="#22ff00" d="M8 10h1v1h-1zM7 11h1v1h-1zM9 15h1v1h-1zM1 16h1v1h-1zM8 16h1v1h-1zM5 20h1v1h-1zM4 21h1v1h-1z"/><path fill="#2cff00" stroke="#2cff00" d="M6 12h1v1h-1zM0 17h1v1h-1zM7 17h1v1h-1zM6 18h1v1h-1z"/><path fill="#36ff00" stroke="#36ff00" d="M5 13h1v1h-1zM4 14h1v1h-1zM5 19h1v1h-1zM4 20h1v1h-1z"/><path fill="#40ff00" stroke="#40ff00" d="M19 0h1v1h-1zM21 2h1v1h-1zM3 15h1v1h-1zM3 21h1v1h-1z"/><path fill="#4bff00" stroke="#4bff00" d="M18 1h1v1h-1zM20 3h1v1h-1zM2 16h1v1h-1zM1 17h1v1h-1z"/><path fill="#56ff00" stroke="#56ff00" d="M17 2h1v1h-1zM16 3h1v1h-1zM19 4h1v1h-1zM18 5h1v1h-1zM0 18h1v1h-1z"/><path fill="#61ff00" stroke="#61ff00" d="M15 4h1v1h-1zM17 6h1v1h-1z"/><path fill="#6cff00" stroke="#6cff00" d="M12 7h1v1h-1zM15 8h1v1h-1zM14 9h1v1h-1zM13 10h1v1h-1z"/><path fill="#77ff00" stroke="#77ff00" d="M14 5h1v1h-1zM13 6h1v1h-1zM16 7h1v1h-1zM11 8h1v1h-1zM10 9h1v1h-1zM12 11h1v1h-1zM11 12h1v1h-1z"/><path fill="#82ff00" stroke="#82ff00" d="M9 10h1v1h-1zM10 13h1v1h-1zM9 14h1v1h-1z"/><path fill="#8eff00" stroke="#8eff00" d="M8 11h1v1h-1zM7 12h1v1h-1zM8 15h1v1h-1zM7 16h1v1h-1z"/><path fill="#9bff00" stroke="#9bff00" d="M6 13h1v1h-1zM5 14h1v1h-1zM6 17h1v1h-1zM5 18h1v1h-1z"/><path fill="#a7ff00" stroke="#a7ff00" d="M4 15h1v1h-1zM4 19h1v1h-1zM3 20h1v1h-1z"/><path fill="#b3ff00" stroke="#b3ff00" d="M3 16h1v1h-1zM2 17h1v1h-1zM2 21h1v1h-1z"/><path fill="#bfff00" stroke="#bfff00" d="M1 18h1v1h-1z"/><path fill="#caff00" stroke="#caff00" d="M0 19h1v1h-1z"/><path fill="#ebff00" stroke="#ebff00" d="M19 1h1v1h-1zM20 2h1v1h-1z"/><path fill="#fffc00" stroke="#fffc00" d="M12 8h1v1h-1zM11 9h1v1h-1zM13 9h1v1h-1zM10 10h1v1h-1zM12 10h1v1h-1zM11 11h1v1h-1z"/><path fill="#ffee00" stroke="#ffee00" d="M9 11h1v1h-1zM8 12h1v1h-1zM10 12h1v1h-1zM7 13h1v1h-1zM9 13h1v1h-1zM8 14h1v1h-1z"/><path fill="#ffe000" stroke="#ffe000" d="M16 4h1v1h-1zM17 5h1v1h-1zM6 14h1v1h-1zM5 15h1v1h-1zM7 15h1v1h-1zM6 16h1v1h-1z"/><path fill="#ffd200" stroke="#ffd200" d="M20 0h1v1h-1zM21 1h1v1h-1zM13 7h1v1h-1zM14 8h1v1h-1zM4 16h1v1h-1zM3 17h1v1h-1zM5 17h1v1h-1zM2 18h1v1h-1zM4 18h1v1h-1zM3 19h1v1h-1z"/><path fill="#ffc400" stroke="#ffc400" d="M18 2h1v1h-1zM17 3h1v1h-1zM19 3h1v1h-1zM18 4h1v1h-1zM1 19h1v1h-1zM0 20h1v1h-1zM2 20h1v1h-1zM1 21h1v1h-1z"/><path fill="#ff5c00" stroke="#ff5c00" d="M15 5h1v1h-1zM16 6h1v1h-1z"/><path fill="#ff5000" stroke="#ff5000" d="M14 6h1v1h-1zM15 7h1v1h-1z"/><path fill="#8c0000" stroke="#8c0000" d="M21 0h1v1h-1zM20 1h1v1h-1zM19 2h1v1h-1zM18 3h1v1h-1zM17 4h1v1h-1zM16 5h1v1h-1zM15 6h1v1h-1zM14 7h1v1h-1zM13 8h1v1h-1zM12 9h1v1h-1zM11 10h1v1h-1zM10 11h1v1h-1zM9 12h1v1h-1zM8 13h1v1h-1zM7 14h1v1h-1zM6 15h1v1h-1zM5 16h1v1h-1zM4 17h1v1h-1zM3 18h1v1h-1zM2 19h1v1h-1zM1 20h1v1h-1zM0 21h1v1h-1z"/></g>
<g stroke-width=".14" transform="translate(261 151) scale(2.79545 2.77727)"><rect stroke="none" x="0.02" y="0.02" width="21.96" height="21.96" fill="#07c814"/><path fill="#00ffff" stroke="#00ffff" d="M0 0h4v1h-4zM0 1h1v1h-1zM21 21h1v1h-1z"/><path fill="#00ffec" stroke="#00ffec" d="M4 0h4v1h-4zM1 1h3v1h-3zM0 2h1v1h-1zM21 19h1v1h-1zM21 20h1v1h-1z"/><path fill="#00ffda" stroke="#00ffda" d="M4 1h3v1h-3zM1 2h3v1h-3zM0 3h1v1h-1zM21 17h1v1h-1zM21 18h1v1h-1zM20 20h1v1h-1zM20 21h1v1h-1z"/><path fill="#00ffc7" stroke="#00ffc7" d="M8 0h1v1h-1zM7 1h1v1h-1zM4 2h2v1h-2zM1 3h2v1h-2zM21 15h1v1h-1zM21 16h1v1h-1zM20 18h1v1h-1zM20 19h1v1h-1zM19 21h1v1h-1z"/><path fill="#00ffb5" stroke="#00ffb5" d="M9 0h1v1h-1zM8 1h1v1h-1zM6 2h1v1h-1zM3 3h2v1h-2zM0 4h3v1h-3zM21 14h1v1h-1zM20 16h1v1h-1zM20 17h1v1h-1zM19 19h1v1h-1zM19 20h1v1h-1z"/><path fill="#00ffa2" stroke="#00ffa2" d="M10 0h1v1h-1zM9 1h1v1h-1zM7 2h1v1h-1zM5 3h1v1h-1zM3 4h1v1h-1zM0 5h2v1h-2zM21 13h1v1h-1zM20 15h1v1h-1zM19 17h1v1h-1zM19 18h1v1h-1zM18 20h1v1h-1zM18 21h1v1h-1z"/><path fill="#00ff8e" stroke="#00ff8e" d="M11 0h1v1h-1zM10 1h1v1h-1zM8 2h1v1h-1zM6 3h1v1h-1zM4 4h2v1h-2zM2 5h2v1h-2zM0 6h1v1h-1zM21 12h1v1h-1zM20 14h1v1h-1zM19 16h1v1h-1zM18 18h1v1h-1zM18 19h1v1h-1zM17 21h1v1h-1z"/><path fill="#00ff7a" stroke="#00ff7a" d="M12 0h1v1h-1zM9 2h1v1h-1zM7 3h1v1h-1zM6 4h1v1h-1zM4 5h1v1h-1zM1 6h2v1h-2zM0 7h1v1h-1zM21 11h1v1h-1zM20 12h1v1h-1zM20 13h1v1h-1zM19 14h1v1h-1zM19 15h1v1h-1zM18 16h1v1h-1zM18 17h1v1h-1zM17 19h1v1h-1zM17 20h1v1h-1z"/><path fill="#00ff66" stroke="#00ff66" d="M11 1h1v1h-1zM10 2h1v1h-1zM8 3h1v1h-1zM7 4h1v1h-1zM5 5h1v1h-1zM3 6h1v1h-1zM1 7h1v1h-1zM21 10h1v1h-1zM20 11h1v1h-1zM19 13h1v1h-1zM18 15h1v1h-1zM17 17h1v1h-1zM17 18h1v1h-1zM16 21h1v1h-1z"/><path fill="#00ff52" stroke="#00ff52" d="M13 0h1v1h-1zM12 1h1v1h-1zM9 3h1v1h-1zM8 4h1v1h-1zM6 5h1v1h-1zM4 6h1v1h-1zM2 7h2v1h-2zM0 8h2v1h-2zM21 9h1v1h-1zM20 10h1v1h-1zM19 12h1v1h-1zM18 13h1v1h-1zM18 14h1v1h-1zM17 15h1v1h-1zM17 16h1v1h-1zM16 18h1v1h-1zM16 19h1v1h-1zM16 20h1v1h-1z"/><path fill="#00ff3d" stroke="#00ff3d" d="M14 0h1v1h-1zM13 1h1v1h-1zM11 2h1v1h-1zM10 3h1v1h-1zM9 4h1v1h-1zM7 5h1v1h-1zM5 6h2v1h-2zM4 7h1v1h-1zM2 8h1v1h-1zM21 8h1v1h-1zM0 9h1v1h-1zM20 9h1v1h-1zM19 11h1v1h-1zM18 12h1v1h-1zM17 14h1v1h-1zM16 16h1v1h-1zM16 17h1v1h-1zM15 19h1v1h-1zM15 20h1v1h-1zM15 21h1v1h-1z"/><path fill="#00ff28" stroke="#00ff28" d="M12 2h1v1h-1zM11 3h1v1h-1zM10 4h1v1h-1zM8 5h1v1h-1zM7 6h1v1h-1zM5 7h1v1h-1zM21 7h1v1h-1zM3 8h2v1h-2zM1 9h1v1h-1zM19 10h1v1h-1zM18 11h1v1h-1zM17 13h1v1h-1zM16 14h1v1h-1zM16 15h1v1h-1zM15 16h1v1h-1zM15 17h1v1h-1zM14 18h2v1h-2zM14 19h1v1h-1zM14 20h1v1h-1zM14 21h1v1h-1z"/><path fill="#00ff14" stroke="#00ff14" d="M15 0h1v1h-1zM14 1h1v1h-1zM13 2h1v1h-1zM12 3h1v1h-1zM9 5h1v1h-1zM8 6h1v1h-1zM21 6h1v1h-1zM6 7h1v1h-1zM5 8h1v1h-1zM20 8h1v1h-1zM2 9h2v1h-2zM19 9h1v1h-1zM0 10h2v1h-2zM18 10h1v1h-1zM17 12h1v1h-1zM16 13h1v1h-1zM15 14h1v1h-1zM15 15h1v1h-1zM14 16h1v1h-1zM14 17h1v1h-1zM13 18h1v1h-1zM13 19h1v1h-1zM13 20h1v1h-1zM13 21h1v1h-1z"/><path fill="#00ff00" stroke="#00ff00" d="M16 0h1v1h-1zM11 4h1v1h-1zM10 5h1v1h-1zM9 6h1v1h-1zM7 7h2v1h-2zM20 7h1v1h-1zM6 8h1v1h-1zM19 8h1v1h-1zM4 9h2v1h-2zM18 9h1v1h-1zM2 10h2v1h-2zM0 11h3v1h-3zM17 11h1v1h-1zM16 12h1v1h-1zM15 13h1v1h-1zM14 15h1v1h-1zM13 16h1v1h-1zM13 17h1v1h-1zM12 18h1v1h-1zM12 19h1v1h-1zM11 20h2v1h-2zM12 21h1v1h-1z"/><path fill="#04ff00" stroke="#04ff00" d="M15 1h1v1h-1zM14 2h1v1h-1zM13 3h1v1h-1zM12 4h1v1h-1zM11 5h1v1h-1zM21 5h1v1h-1zM20 6h1v1h-1zM7 8h1v1h-1zM6 9h1v1h-1zM4 10h2v1h-2zM17 10h1v1h-1zM3 11h1v1h-1zM16 11h1v1h-1zM0 12h3v1h-3zM15 12h1v1h-1zM0 13h1v1h-1zM14 13h1v1h-1zM14 14h1v1h-1zM13 15h1v1h-1zM12 16h1v1h-1zM11 17h2v1h-2zM11 18h1v1h-1zM10 19h2v1h-2zM10 20h1v1h-1zM10 21h2v1h-2z"/><path fill="#07ff00" stroke="#07ff00" d="M17 0h1v1h-1zM10 6h1v1h-1zM9 7h1v1h-1zM19 7h1v1h-1zM8 8h1v1h-1zM18 8h1v1h-1zM7 9h1v1h-1zM17 9h1v1h-1zM6 10h1v1h-1zM16 10h1v1h-1zM4 11h2v1h-2zM3 12h1v1h-1zM1 13h2v1h-2zM0 14h2v1h-2zM13 14h1v1h-1zM12 15h1v1h-1zM11 16h1v1h-1zM10 17h1v1h-1zM10 18h1v1h-1zM9 19h1v1h-1zM8 20h2v1h-2zM8 21h2v1h-2z"/><path fill="#0bff00" stroke="#0bff00" d="M16 1h1v1h-1zM15 2h1v1h-1zM14 3h1v1h-1zM13 4h1v1h-1zM21 4h1v1h-1zM12 5h1v1h-1zM20 5h1v1h-1zM19 6h1v1h-1zM15 11h1v1h-1zM4 12h1v1h-1zM14 12h1v1h-1zM3 13h1v1h-1zM13 13h1v1h-1zM2 14h1v1h-1zM12 14h1v1h-1zM0 15h2v1h-2zM0 16h1v1h-1zM9 18h1v1h-1zM8 19h1v1h-1zM7 20h1v1h-1zM6 21h2v1h-2z"/><path fill="#0eff00" stroke="#0eff00" d="M11 6h1v1h-1zM10 7h1v1h-1zM18 7h1v1h-1zM9 8h1v1h-1zM17 8h1v1h-1zM8 9h1v1h-1zM16 9h1v1h-1zM7 10h1v1h-1zM15 10h1v1h-1zM11 15h1v1h-1zM10 16h1v1h-1zM9 17h1v1h-1zM8 18h1v1h-1z"/><path fill="#12ff00" stroke="#12ff00" d="M18 0h1v1h-1zM17 1h1v1h-1zM21 3h1v1h-1zM20 4h1v1h-1zM6 11h1v1h-1zM14 11h1v1h-1zM5 12h1v1h-1zM13 12h1v1h-1zM4 13h1v1h-1zM12 13h1v1h-1zM3 14h1v1h-1zM11 14h1v1h-1zM2 15h1v1h-1zM7 19h1v1h-1zM6 20h1v1h-1zM5 21h1v1h-1z"/><path fill="#15ff00" stroke="#15ff00" d="M16 2h1v1h-1zM15 3h1v1h-1zM14 4h1v1h-1zM13 5h1v1h-1zM19 5h1v1h-1zM12 6h1v1h-1zM18 6h1v1h-1zM11 7h1v1h-1zM17 7h1v1h-1zM10 8h1v1h-1zM16 8h1v1h-1zM9 9h1v1h-1zM15 9h1v1h-1zM8 10h1v1h-1zM14 10h1v1h-1zM13 11h1v1h-1zM10 15h1v1h-1zM1 16h1v1h-1zM9 16h1v1h-1zM0 17h1v1h-1zM8 17h1v1h-1zM7 18h1v1h-1z"/><path fill="#19ff00" stroke="#19ff00" d="M7 11h1v1h-1zM6 12h1v1h-1zM12 12h1v1h-1zM5 13h1v1h-1zM11 13h1v1h-1zM4 14h1v1h-1zM10 14h1v1h-1zM3 15h1v1h-1zM9 15h1v1h-1zM6 19h1v1h-1zM5 20h1v1h-1zM4 21h1v1h-1z"/><path fill="#22ff00" stroke="#22ff00" d="M2 16h1v1h-1zM8 16h1v1h-1zM1 17h1v1h-1zM7 17h1v1h-1zM0 18h1v1h-1zM6 18h1v1h-1z"/><path fill="#2cff00" stroke="#2cff00" d="M5 19h1v1h-1zM4 20h1v1h-1zM3 21h1v1h-1z"/><path fill="#6cff00" stroke="#6cff00" d="M11 8h1v1h-1zM10 9h1v1h-1zM9 10h1v1h-1zM8 11h1v1h-1zM7 12h1v1h-1z"/><path fill="#77ff00" stroke="#77ff00" d="M19 0h1v1h-1zM21 2h1v1h-1zM13 10h1v1h-1zM12 11h1v1h-1zM11 12h1v1h-1zM6 13h1v1h-1zM10 13h1v1h-1zM5 14h1v1h-1zM4 15h1v1h-1zM3 16h1v1h-1zM2 17h1v1h-1z"/><path fill="#82ff00" stroke="#82ff00" d="M12 7h1v1h-1zM14 9h1v1h-1zM9 14h1v1h-1zM8 15h1v1h-1zM7 16h1v1h-1zM6 17h1v1h-1zM1 18h1v1h-1zM0 19h1v1h-1z"/><path fill="#8eff00" stroke="#8eff00" d="M18 1h1v1h-1zM20 3h1v1h-1zM5 18h1v1h-1zM4 19h1v1h-1zM3 20h1v1h-1z"/><path fill="#9bff00" stroke="#9bff00" d="M13 6h1v1h-1zM15 8h1v1h-1zM2 21h1v1h-1z"/><path fill="#a7ff00" stroke="#a7ff00" d="M17 2h1v1h-1zM19 4h1v1h-1z"/><path fill="#b3ff00" stroke="#b3ff00" d="M14 5h1v1h-1zM16 7h1v1h-1z"/><path fill="#bfff00" stroke="#bfff00" d="M16 3h1v1h-1zM15 4h1v1h-1z"/><path fill="#caff00" stroke="#caff00" d="M18 5h1v1h-1zM17 6h1v1h-1zM10 10h1v1h-1zM9 11h1v1h-1zM11 11h1v1h-1zM8 12h1v1h-1zM10 12h1v1h-1zM7 13h1v1h-1zM9 13h1v1h-1zM6 14h1v1h-1zM8 14h1v1h-1zM5 15h1v1h-1zM7 15h1v1h-1zM6 16h1v1h-1z"/><path fill="#d5ff00" stroke="#d5ff00" d="M11 9h1v1h-1zM12 10h1v1h-1zM4 16h1v1h-1zM3 17h1v1h-1zM5 17h1v1h-1zM2 18h1v1h-1zM4 18h1v1h-1zM3 19h1v1h-1z"/><path fill="#ebff00" stroke="#ebff00" d="M1 19h1v1h-1zM2 20h1v1h-1z"/><path fill="#fffc00" stroke="#fffc00" d="M12 8h1v1h-1zM13 9h1v1h-1z"/><path fill="#ffee00" stroke="#ffee00" d="M0 20h1v1h-1zM1 21h1v1h-1z"/><path fill="#ffc400" stroke="#ffc400" d="M20 0h1v1h-1zM21 1h1v1h-1z"/><path fill="#ffa800" stroke="#ffa800" d="M19 1h1v1h-1zM20 2h1v1h-1zM13 7h1v1h-1zM14 8h1v1h-1z"/><path fill="#ff3900" stroke="#ff3900" d="M18 2h1v1h-1zM19 3h1v1h-1zM14 6h1v1h-1zM15 7h1v1h-1z"/><path fill="#e00000" stroke="#e00000" d="M17 3h1v1h-1zM18 4h1v1h-1z"/><path fill="#d60000" stroke="#d60000" d="M15 5h1v1h-1zM16 6h1v1h-1z"/><path fill="#b70000" stroke="#b70000" d="M16 4h1v1h-1zM17 5h1v1h-1z"/><path fill="#8c0000" stroke="#8c0000" d="M21 0h1v1h-1zM20 1h1v1h-1zM19 2h1v1h-1zM18 3h1v1h-1zM17 4h1v1h-1zM16 5h1v1h-1zM15 6h1v1h-1zM14 7h1v1h-1zM13 8h1v1h-1zM12 9h1v1h-1zM11 10h1v1h-1zM10 11h1v1h-1zM9 12h1v1h-1zM8 13h1v1h-1zM7 14h1v1h-1zM6 15h1v1h-1zM5 16h1v1h-1zM4 17h1v1h-1zM3 18h1v1h-1zM2 19h1v1h-1zM1 20h1v1h-1zM0 21h1v1h-1z"/></g>
<g stroke-width=".14" transform="translate(59.7 245.6) scale(2.79545 2.77727)"><rect stroke="none" x="0.02" y="0.02" width="21.96" height="21.96" fill="#00b6d2"/><path fill="#0016ff" stroke="#0016ff" d="M21 19h1v1h-1zM21 20h1v1h-1zM21 21h1v1h-1z"/><path fill="#0026ff" stroke="#0026ff" d="M0 0h2v1h-2zM21 16h1v1h-1zM20 17h2v1h-2zM20 18h2v1h-2zM20 19h1v1h-1zM19 20h2v1h-2zM18 21h3v1h-3z"/><path fill="#0036ff" stroke="#0036ff" d="M2 0h3v1h-3zM0 1h3v1h-3zM0 2h1v1h-1zM21 14h1v1h-1zM21 15h1v1h-1zM20 16h1v1h-1zM19 17h1v1h-1zM19 18h1v1h-1zM18 19h2v1h-2zM18 20h1v1h-1zM17 21h1v1h-1z"/><path fill="#0046ff" stroke="#0046ff" d="M5 0h2v1h-2zM3 1h2v1h-2zM1 2h2v1h-2zM0 3h1v1h-1zM21 12h1v1h-1zM21 13h1v1h-1zM20 14h1v1h-1zM20 15h1v1h-1zM19 16h1v1h-1zM18 17h1v1h-1zM18 18h1v1h-1zM17 19h1v1h-1zM17 20h1v1h-1zM16 21h1v1h-1z"/><path fill="#0056ff" stroke="#0056ff" d="M7 0h2v1h-2zM5 1h2v1h-2zM3 2h2v1h-2zM1 3h2v1h-2zM0 4h2v1h-2zM21 11h1v1h-1zM20 13h1v1h-1zM19 14h1v1h-1zM19 15h1v1h-1zM18 16h1v1h-1zM17 17h1v1h-1zM17 18h1v1h-1zM16 19h1v1h-1zM16 20h1v1h-1zM15 21h1v1h-1z"/><path fill="#0066ff" stroke="#0066ff" d="M9 0h1v1h-1zM7 1h2v1h-2zM5 2h2v1h-2zM3 3h3v1h-3zM2 4h2v1h-2zM0 5h2v1h-2zM20 12h1v1h-1zM19 13h1v1h-1zM18 15h1v1h-1zM17 16h1v1h-1zM16 17h1v1h-1zM16 18h1v1h-1zM15 19h1v1h-1zM15 20h1v1h-1zM14 21h1v1h-1z"/><path fill="#0076ff" stroke="#0076ff" d="M10 0h1v1h-1zM9 1h1v1h-1zM7 2h2v1h-2zM6 3h1v1h-1zM4 4h2v1h-2zM2 5h2v1h-2zM0 6h2v1h-2zM21 10h1v1h-1zM20 11h1v1h-1zM19 12h1v1h-1zM18 14h1v1h-1zM17 15h1v1h-1zM16 16h1v1h-1zM15 18h1v1h-1zM14 19h1v1h-1zM14 20h1v1h-1zM13 21h1v1h-1z"/><path fill="#0086ff" stroke="#0086ff" d="M11 0h2v1h-2zM10 1h1v1h-1zM9 2h1v1h-1zM7 3h1v1h-1zM6 4h1v1h-1zM4 5h2v1h-2zM2 6h2v1h-2zM0 7h3v1h-3zM0 8h1v1h-1zM21 9h1v1h-1zM20 10h1v1h-1zM19 11h1v1h-1zM18 13h1v1h-1zM17 14h1v1h-1zM16 15h1v1h-1zM15 17h1v1h-1zM14 18h1v1h-1zM13 19h1v1h-1zM13 20h1v1h-1zM12 21h1v1h-1z"/><path fill="#0096ff" stroke="#0096ff" d="M13 0h1v1h-1zM11 1h2v1h-2zM10 2h1v1h-1zM8 3h2v1h-2zM7 4h1v1h-1zM6 5h1v1h-1zM4 6h2v1h-2zM3 7h1v1h-1zM1 8h2v1h-2zM21 8h1v1h-1zM0 9h1v1h-1zM20 9h1v1h-1zM19 10h1v1h-1zM18 12h1v1h-1zM17 13h1v1h-1zM16 14h1v1h-1zM15 16h1v1h-1zM14 17h1v1h-1zM13 18h1v1h-1zM12 20h1v1h-1zM11 21h1v1h-1z"/><path fill="#00aaff" stroke="#00aaff" d="M14 0h1v1h-1zM11 2h1v1h-1zM10 3h1v1h-1zM8 4h2v1h-2zM7 5h1v1h-1zM6 6h1v1h-1zM4 7h1v1h-1zM21 7h1v1h-1zM3 8h1v1h-1zM20 8h1v1h-1zM1 9h2v1h-2zM0 10h1v1h-1zM18 11h1v1h-1zM17 12h1v1h-1zM16 13h1v1h-1zM15 14h1v1h-1zM15 15h1v1h-1zM14 16h1v1h-1zM13 17h1v1h-1zM12 18h1v1h-1zM12 19h1v1h-1zM11 20h1v1h-1zM10 21h1v1h-1z"/><path fill="#00bfff" stroke="#00bfff" d="M13 1h1v1h-1zM12 2h1v1h-1zM11 3h1v1h-1zM10 4h1v1h-1zM8 5h1v1h-1zM7 6h1v1h-1zM21 6h1v1h-1zM5 7h2v1h-2zM4 8h1v1h-1zM3 9h1v1h-1zM19 9h1v1h-1zM1 10h2v1h-2zM18 10h1v1h-1zM0 11h1v1h-1zM17 11h1v1h-1zM16 12h1v1h-1zM14 15h1v1h-1zM13 16h1v1h-1zM12 17h1v1h-1zM11 19h1v1h-1zM10 20h1v1h-1zM9 21h1v1h-1z"/><path fill="#00d4ff" stroke="#00d4ff" d="M15 0h1v1h-1zM14 1h1v1h-1zM13 2h1v1h-1zM12 3h1v1h-1zM9 5h1v1h-1zM8 6h1v1h-1zM7 7h1v1h-1zM20 7h1v1h-1zM5 8h2v1h-2zM19 8h1v1h-1zM4 9h1v1h-1zM18 9h1v1h-1zM3 10h1v1h-1zM17 10h1v1h-1zM1 11h2v1h-2zM16 11h1v1h-1zM0 12h1v1h-1zM15 13h1v1h-1zM14 14h1v1h-1zM13 15h1v1h-1zM12 16h1v1h-1zM11 18h1v1h-1zM10 19h1v1h-1zM9 20h1v1h-1zM8 21h1v1h-1z"/><path fill="#00eaff" stroke="#00eaff" d="M16 0h1v1h-1zM15 1h1v1h-1zM14 2h1v1h-1zM13 3h1v1h-1zM11 4h1v1h-1zM10 5h1v1h-1zM21 5h1v1h-1zM9 6h1v1h-1zM20 6h1v1h-1zM8 7h1v1h-1zM19 7h1v1h-1zM7 8h1v1h-1zM18 8h1v1h-1zM5 9h2v1h-2zM17 9h1v1h-1zM4 10h1v1h-1zM3 11h1v1h-1zM1 12h2v1h-2zM15 12h1v1h-1zM0 13h1v1h-1zM14 13h1v1h-1zM13 14h1v1h-1zM12 15h1v1h-1zM11 17h1v1h-1zM10 18h1v1h-1zM9 19h1v1h-1zM8 20h1v1h-1z"/><path fill="#00ffff" stroke="#00ffff" d="M17 0h1v1h-1zM12 4h1v1h-1zM21 4h1v1h-1zM11 5h1v1h-1zM20 5h1v1h-1zM10 6h1v1h-1zM19 6h1v1h-1zM9 7h1v1h-1zM8 8h1v1h-1zM7 9h1v1h-1zM5 10h1v1h-1zM16 10h1v1h-1zM4 11h1v1h-1zM15 11h1v1h-1zM3 12h1v1h-1zM14 12h1v1h-1zM1 13h2v1h-2zM13 13h1v1h-1zM0 14h2v1h-2zM12 14h1v1h-1zM11 16h1v1h-1zM10 17h1v1h-1zM9 18h1v1h-1zM8 19h1v1h-1zM7 20h1v1h-1zM7 21h1v1h-1z"/><path fill="#00ffec" stroke="#00ffec" d="M16 1h1v1h-1zM15 2h1v1h-1zM14 3h1v1h-1zM21 3h1v1h-1zM13 4h1v1h-1zM12 5h1v1h-1zM11 6h1v1h-1zM18 7h1v1h-1zM17 8h1v1h-1zM16 9h1v1h-1zM6 10h1v1h-1zM15 10h1v1h-1zM5 11h1v1h-1zM14 11h1v1h-1zM4 12h1v1h-1zM13 12h1v1h-1zM3 13h1v1h-1zM2 14h1v1h-1zM0 15h2v1h-2zM11 15h1v1h-1zM0 16h1v1h-1zM10 16h1v1h-1zM9 17h1v1h-1zM8 18h1v1h-1zM7 19h1v1h-1zM6 21h1v1h-1z"/><path fill="#00ffda" stroke="#00ffda" d="M18 0h1v1h-1zM17 1h1v1h-1zM16 2h1v1h-1zM15 3h1v1h-1zM20 4h1v1h-1zM19 5h1v1h-1zM18 6h1v1h-1zM10 7h1v1h-1zM17 7h1v1h-1zM9 8h1v1h-1zM8 9h1v1h-1zM7 10h1v1h-1zM6 11h1v1h-1zM5 12h1v1h-1zM4 13h1v1h-1zM12 13h1v1h-1zM11 14h1v1h-1zM10 15h1v1h-1zM9 16h1v1h-1zM8 17h1v1h-1zM7 18h1v1h-1zM6 20h1v1h-1zM5 21h1v1h-1z"/><path fill="#00ffc7" stroke="#00ffc7" d="M14 4h1v1h-1zM13 5h1v1h-1zM12 6h1v1h-1zM11 7h1v1h-1zM10 8h1v1h-1zM16 8h1v1h-1zM9 9h1v1h-1zM15 9h1v1h-1zM14 10h1v1h-1zM13 11h1v1h-1zM12 12h1v1h-1zM3 14h1v1h-1zM2 15h1v1h-1zM1 16h1v1h-1zM0 17h1v1h-1zM6 19h1v1h-1zM5 20h1v1h-1zM4 21h1v1h-1z"/><path fill="#00ffb5" stroke="#00ffb5" d="M8 10h1v1h-1zM7 11h1v1h-1zM6 12h1v1h-1zM5 13h1v1h-1zM11 13h1v1h-1zM4 14h1v1h-1zM10 14h1v1h-1zM3 15h1v1h-1zM9 15h1v1h-1zM2 16h1v1h-1zM8 16h1v1h-1zM7 17h1v1h-1z"/><path fill="#00ffa2" stroke="#00ffa2" d="M21 2h1v1h-1zM20 3h1v1h-1zM19 4h1v1h-1zM18 5h1v1h-1zM17 6h1v1h-1zM1 17h1v1h-1zM0 18h1v1h-1zM6 18h1v1h-1zM5 19h1v1h-1zM4 20h1v1h-1zM3 21h1v1h-1z"/><path fill="#00ff8e" stroke="#00ff8e" d="M19 0h1v1h-1zM18 1h1v1h-1zM17 2h1v1h-1zM16 3h1v1h-1zM15 4h1v1h-1zM14 5h1v1h-1zM13 6h1v1h-1zM12 7h1v1h-1zM16 7h1v1h-1zM15 8h1v1h-1zM14 9h1v1h-1zM13 10h1v1h-1zM12 11h1v1h-1zM11 12h1v1h-1zM10 13h1v1h-1z"/><path fill="#00ff7a" stroke="#00ff7a" d="M11 8h1v1h-1zM10 9h1v1h-1zM9 10h1v1h-1zM8 11h1v1h-1zM7 12h1v1h-1zM6 13h1v1h-1zM5 14h1v1h-1zM9 14h1v1h-1zM4 15h1v1h-1zM8 15h1v1h-1zM3 16h1v1h-1zM7 16h1v1h-1zM2 17h1v1h-1zM6 17h1v1h-1zM5 18h1v1h-1zM4 19h1v1h-1z"/><path fill="#00ff66" stroke="#00ff66" d="M1 18h1v1h-1zM0 19h1v1h-1zM3 20h1v1h-1zM2 21h1v1h-1z"/><path fill="#00ff14" stroke="#00ff14" d="M20 0h1v1h-1zM21 1h1v1h-1z"/><path fill="#00ff00" stroke="#00ff00" d="M19 1h1v1h-1zM18 2h1v1h-1zM20 2h1v1h-1zM17 3h1v1h-1zM19 3h1v1h-1zM16 4h1v1h-1zM18 4h1v1h-1zM15 5h1v1h-1zM17 5h1v1h-1zM14 6h1v1h-1zM16 6h1v1h-1zM13 7h1v1h-1zM15 7h1v1h-1zM12 8h1v1h-1zM14 8h1v1h-1zM11 9h1v1h-1zM13 9h1v1h-1zM10 10h1v1h-1zM12 10h1v1h-1zM11 11h1v1h-1z"/><path fill="#04ff00" stroke="#04ff00" d="M9 11h1v1h-1zM8 12h1v1h-1zM10 12h1v1h-1zM7 13h1v1h-1zM9 13h1v1h-1zM6 14h1v1h-1zM8 14h1v1h-1zM5 15h1v1h-1zM7 15h1v1h-1zM4 16h1v1h-1zM6 16h1v1h-1zM3 17h1v1h-1zM5 17h1v1h-1zM2 18h1v1h-1zM4 18h1v1h-1zM1 19h1v1h-1zM3 19h1v1h-1zM0 20h1v1h-1zM2 20h1v1h-1zM1 21h1v1h-1z"/><path fill="#8c0000" stroke="#8c0000" d="M21 0h1v1h-1zM20 1h1v1h-1zM19 2h1v1h-1zM18 3h1v1h-1zM17 4h1v1h-1zM16 5h1v1h-1zM15 6h1v1h-1zM14 7h1v1h-1zM13 8h1v1h-1zM12 9h1v1h-1zM11 10h1v1h-1zM10 11h1v1h-1zM9 12h1v1h-1zM8 13h1v1h-1zM7 14h1v1h-1zM6 15h1v1h-1zM5 16h1v1h-1zM4 17h1v1h-1zM3 18h1v1h-1zM2 19h1v1h-1zM1 20h1v1h-1zM0 21h1v1h-1z"/></g>
<g stroke-width=".14" transform="translate(126.8 245.6) scale(2.79545 2.77727)"><rect stroke="none" x="0.02" y="0.02" width="21.96" height="21.96" fill="#00c86d"/><path fill="#0066ff" stroke="#0066ff" d="M0 0h2v1h-2zM21 19h1v1h-1zM21 20h1v1h-1zM21 21h1v1h-1z"/><path fill="#0076ff" stroke="#0076ff" d="M2 0h3v1h-3zM0 1h2v1h-2zM21 16h1v1h-1zM21 17h1v1h-1zM21 18h1v1h-1zM20 19h1v1h-1zM20 20h1v1h-1zM19 21h2v1h-2z"/><path fill="#0086ff" stroke="#0086ff" d="M5 0h1v1h-1zM2 1h3v1h-3zM0 2h2v1h-2zM21 13h1v1h-1zM21 14h1v1h-1zM21 15h1v1h-1zM20 17h1v1h-1zM20 18h1v1h-1zM19 19h1v1h-1zM19 20h1v1h-1zM18 21h1v1h-1z"/><path fill="#0096ff" stroke="#0096ff" d="M6 0h2v1h-2zM5 1h1v1h-1zM2 2h2v1h-2zM0 3h2v1h-2zM21 12h1v1h-1zM20 14h1v1h-1zM20 15h1v1h-1zM20 16h1v1h-1zM19 17h1v1h-1zM19 18h1v1h-1zM18 20h1v1h-1z"/><path fill="#00aaff" stroke="#00aaff" d="M8 0h1v1h-1zM6 1h1v1h-1zM4 2h1v1h-1zM2 3h1v1h-1zM0 4h1v1h-1zM21 11h1v1h-1zM20 12h1v1h-1zM20 13h1v1h-1zM19 14h1v1h-1zM19 15h1v1h-1zM19 16h1v1h-1zM18 18h1v1h-1zM18 19h1v1h-1zM17 20h1v1h-1zM17 21h1v1h-1z"/><path fill="#00bfff" stroke="#00bfff" d="M9 0h1v1h-1zM7 1h1v1h-1zM5 2h2v1h-2zM3 3h2v1h-2zM1 4h2v1h-2zM0 5h1v1h-1zM21 10h1v1h-1zM20 11h1v1h-1zM19 13h1v1h-1zM18 15h1v1h-1zM18 16h1v1h-1zM18 17h1v1h-1zM17 18h1v1h-1zM17 19h1v1h-1zM16 21h1v1h-1z"/><path fill="#00d4ff" stroke="#00d4ff" d="M10 0h1v1h-1zM8 1h2v1h-2zM7 2h1v1h-1zM5 3h1v1h-1zM3 4h1v1h-1zM1 5h1v1h-1zM21 9h1v1h-1zM20 10h1v1h-1zM19 12h1v1h-1zM18 14h1v1h-1zM17 16h1v1h-1zM17 17h1v1h-1zM16 19h1v1h-1zM16 20h1v1h-1z"/><path fill="#00eaff" stroke="#00eaff" d="M11 0h2v1h-2zM10 1h1v1h-1zM8 2h1v1h-1zM6 3h2v1h-2zM4 4h2v1h-2zM2 5h2v1h-2zM0 6h2v1h-2zM21 8h1v1h-1zM20 9h1v1h-1zM19 11h1v1h-1zM18 13h1v1h-1zM17 15h1v1h-1zM16 17h1v1h-1zM16 18h1v1h-1zM15 19h1v1h-1zM15 20h1v1h-1zM15 21h1v1h-1z"/><path fill="#00ffff" stroke="#00ffff" d="M13 0h1v1h-1zM11 1h1v1h-1zM9 2h2v1h-2zM8 3h1v1h-1zM6 4h1v1h-1zM4 5h1v1h-1zM2 6h1v1h-1zM21 6h1v1h-1zM0 7h1v1h-1zM21 7h1v1h-1zM20 8h1v1h-1zM19 10h1v1h-1zM18 12h1v1h-1zM17 14h1v1h-1zM16 16h1v1h-1zM15 18h1v1h-1zM14 20h1v1h-1zM14 21h1v1h-1z"/><path fill="#00ffec" stroke="#00ffec" d="M14 0h1v1h-1zM12 1h1v1h-1zM11 2h1v1h-1zM9 3h1v1h-1zM7 4h1v1h-1zM5 5h2v1h-2zM21 5h1v1h-1zM3 6h2v1h-2zM1 7h2v1h-2zM20 7h1v1h-1zM0 8h1v1h-1zM19 9h1v1h-1zM18 11h1v1h-1zM17 13h1v1h-1zM16 14h1v1h-1zM16 15h1v1h-1zM15 16h1v1h-1zM15 17h1v1h-1zM14 18h1v1h-1zM14 19h1v1h-1zM13 21h1v1h-1z"/><path fill="#00ffda" stroke="#00ffda" d="M13 1h1v1h-1zM12 2h1v1h-1zM10 3h1v1h-1zM8 4h2v1h-2zM7 5h1v1h-1zM5 6h1v1h-1zM20 6h1v1h-1zM3 7h1v1h-1zM1 8h2v1h-2zM19 8h1v1h-1zM0 9h1v1h-1zM18 10h1v1h-1zM17 11h1v1h-1zM17 12h1v1h-1zM16 13h1v1h-1zM15 15h1v1h-1zM14 17h1v1h-1zM13 19h1v1h-1zM13 20h1v1h-1zM12 21h1v1h-1z"/><path fill="#00ffc7" stroke="#00ffc7" d="M15 0h1v1h-1zM14 1h1v1h-1zM11 3h1v1h-1zM10 4h1v1h-1zM8 5h1v1h-1zM6 6h1v1h-1zM4 7h2v1h-2zM19 7h1v1h-1zM3 8h1v1h-1zM1 9h1v1h-1zM18 9h1v1h-1zM0 10h1v1h-1zM17 10h1v1h-1zM16 12h1v1h-1zM15 14h1v1h-1zM14 16h1v1h-1zM13 18h1v1h-1zM12 20h1v1h-1z"/><path fill="#00ffb5" stroke="#00ffb5" d="M16 0h1v1h-1zM15 1h1v1h-1zM13 2h1v1h-1zM12 3h1v1h-1zM21 4h1v1h-1zM9 5h1v1h-1zM7 6h1v1h-1zM6 7h1v1h-1zM4 8h1v1h-1zM18 8h1v1h-1zM2 9h2v1h-2zM17 9h1v1h-1zM1 10h1v1h-1zM16 11h1v1h-1zM15 13h1v1h-1zM14 15h1v1h-1zM13 17h1v1h-1zM12 18h1v1h-1zM12 19h1v1h-1zM11 20h1v1h-1zM11 21h1v1h-1z"/><path fill="#00ffa2" stroke="#00ffa2" d="M14 2h1v1h-1zM13 3h1v1h-1zM11 4h1v1h-1zM10 5h1v1h-1zM20 5h1v1h-1zM8 6h1v1h-1zM19 6h1v1h-1zM7 7h1v1h-1zM5 8h1v1h-1zM4 9h1v1h-1zM2 10h1v1h-1zM16 10h1v1h-1zM0 11h1v1h-1zM15 12h1v1h-1zM14 14h1v1h-1zM13 15h1v1h-1zM13 16h1v1h-1zM12 17h1v1h-1zM11 19h1v1h-1zM10 21h1v1h-1z"/><path fill="#00ff8e" stroke="#00ff8e" d="M17 0h1v1h-1zM12 4h1v1h-1zM11 5h1v1h-1zM9 6h1v1h-1zM8 7h1v1h-1zM18 7h1v1h-1zM6 8h1v1h-1zM5 9h1v1h-1zM3 10h1v1h-1zM1 11h2v1h-2zM15 11h1v1h-1zM0 12h1v1h-1zM14 13h1v1h-1zM13 14h1v1h-1zM12 16h1v1h-1zM11 18h1v1h-1zM10 20h1v1h-1z"/><path fill="#00ff7a" stroke="#00ff7a" d="M16 1h1v1h-1zM15 2h1v1h-1zM21 3h1v1h-1zM20 4h1v1h-1zM10 6h1v1h-1zM9 7h1v1h-1zM7 8h1v1h-1zM17 8h1v1h-1zM6 9h1v1h-1zM16 9h1v1h-1zM4 10h1v1h-1zM3 11h1v1h-1zM1 12h1v1h-1zM14 12h1v1h-1zM13 13h1v1h-1zM12 15h1v1h-1zM11 17h1v1h-1zM10 19h1v1h-1zM9 21h1v1h-1z"/><path fill="#00ff66" stroke="#00ff66" d="M14 3h1v1h-1zM13 4h1v1h-1zM19 5h1v1h-1zM18 6h1v1h-1zM8 8h1v1h-1zM7 9h1v1h-1zM5 10h1v1h-1zM15 10h1v1h-1zM4 11h1v1h-1zM2 12h1v1h-1zM0 13h2v1h-2zM12 14h1v1h-1zM11 16h1v1h-1zM10 18h1v1h-1zM9 19h1v1h-1zM9 20h1v1h-1zM8 21h1v1h-1z"/><path fill="#00ff52" stroke="#00ff52" d="M18 0h1v1h-1zM17 1h1v1h-1zM12 5h1v1h-1zM11 6h1v1h-1zM17 7h1v1h-1zM6 10h1v1h-1zM5 11h1v1h-1zM14 11h1v1h-1zM3 12h1v1h-1zM13 12h1v1h-1zM2 13h1v1h-1zM0 14h1v1h-1zM11 15h1v1h-1zM10 17h1v1h-1zM9 18h1v1h-1zM8 20h1v1h-1z"/><path fill="#00ff3d" stroke="#00ff3d" d="M16 2h1v1h-1zM15 3h1v1h-1zM10 7h1v1h-1zM9 8h1v1h-1zM16 8h1v1h-1zM15 9h1v1h-1zM4 12h1v1h-1zM3 13h1v1h-1zM12 13h1v1h-1zM1 14h1v1h-1zM0 15h1v1h-1zM10 16h1v1h-1zM9 17h1v1h-1zM8 19h1v1h-1zM7 21h1v1h-1z"/><path fill="#00ff28" stroke="#00ff28" d="M14 4h1v1h-1zM13 5h1v1h-1zM8 9h1v1h-1zM7 10h1v1h-1zM14 10h1v1h-1zM13 11h1v1h-1zM2 14h1v1h-1zM11 14h1v1h-1zM1 15h1v1h-1zM10 15h1v1h-1zM8 18h1v1h-1zM7 20h1v1h-1z"/><path fill="#00ff14" stroke="#00ff14" d="M12 6h1v1h-1zM11 7h1v1h-1zM6 11h1v1h-1zM5 12h1v1h-1zM12 12h1v1h-1zM4 13h1v1h-1zM0 16h1v1h-1zM9 16h1v1h-1zM7 19h1v1h-1zM6 21h1v1h-1z"/><path fill="#00ff00" stroke="#00ff00" d="M10 8h1v1h-1zM9 9h1v1h-1zM8 10h1v1h-1zM11 13h1v1h-1zM3 14h1v1h-1zM10 14h1v1h-1zM2 15h1v1h-1zM8 17h1v1h-1zM7 18h1v1h-1zM6 20h1v1h-1zM5 21h1v1h-1z"/><path fill="#04ff00" stroke="#04ff00" d="M19 0h1v1h-1zM21 2h1v1h-1zM7 11h1v1h-1zM6 12h1v1h-1zM9 15h1v1h-1zM1 16h1v1h-1zM8 16h1v1h-1zM0 17h1v1h-1zM6 19h1v1h-1z"/><path fill="#07ff00" stroke="#07ff00" d="M18 1h1v1h-1zM17 2h1v1h-1zM20 3h1v1h-1zM19 4h1v1h-1zM5 13h1v1h-1zM4 14h1v1h-1zM7 17h1v1h-1zM5 20h1v1h-1zM4 21h1v1h-1z"/><path fill="#0bff00" stroke="#0bff00" d="M16 3h1v1h-1zM15 4h1v1h-1zM18 5h1v1h-1zM17 6h1v1h-1zM3 15h1v1h-1zM2 16h1v1h-1zM6 18h1v1h-1zM5 19h1v1h-1z"/><path fill="#0eff00" stroke="#0eff00" d="M14 5h1v1h-1zM13 6h1v1h-1zM16 7h1v1h-1zM15 8h1v1h-1zM1 17h1v1h-1zM0 18h1v1h-1zM4 20h1v1h-1zM3 21h1v1h-1z"/><path fill="#12ff00" stroke="#12ff00" d="M12 7h1v1h-1zM14 9h1v1h-1z"/><path fill="#15ff00" stroke="#15ff00" d="M11 8h1v1h-1zM13 10h1v1h-1z"/><path fill="#19ff00" stroke="#19ff00" d="M9 10h1v1h-1zM8 11h1v1h-1zM7 12h1v1h-1zM11 12h1v1h-1zM10 13h1v1h-1zM9 14h1v1h-1z"/><path fill="#22ff00" stroke="#22ff00" d="M10 9h1v1h-1zM12 11h1v1h-1zM6 13h1v1h-1zM5 14h1v1h-1zM8 15h1v1h-1zM7 16h1v1h-1z"/><path fill="#2cff00" stroke="#2cff00" d="M4 15h1v1h-1zM3 16h1v1h-1zM6 17h1v1h-1zM5 18h1v1h-1z"/><path fill="#36ff00" stroke="#36ff00" d="M2 17h1v1h-1zM1 18h1v1h-1zM4 19h1v1h-1zM3 20h1v1h-1z"/><path fill="#40ff00" stroke="#40ff00" d="M20 0h1v1h-1zM19 1h1v1h-1zM21 1h1v1h-1zM20 2h1v1h-1zM0 19h1v1h-1zM2 21h1v1h-1z"/><path fill="#4bff00" stroke="#4bff00" d="M18 2h1v1h-1zM17 3h1v1h-1zM19 3h1v1h-1zM18 4h1v1h-1z"/><path fill="#56ff00" stroke="#56ff00" d="M16 4h1v1h-1zM15 5h1v1h-1zM17 5h1v1h-1zM16 6h1v1h-1z"/><path fill="#61ff00" stroke="#61ff00" d="M14 6h1v1h-1zM15 7h1v1h-1z"/><path fill="#6cff00" stroke="#6cff00" d="M13 7h1v1h-1zM14 8h1v1h-1z"/><path fill="#82ff00" stroke="#82ff00" d="M8 12h1v1h-1zM7 13h1v1h-1zM9 13h1v1h-1zM8 14h1v1h-1z"/><path fill="#8eff00" stroke="#8eff00" d="M6 14h1v1h-1zM5 15h1v1h-1zM7 15h1v1h-1zM6 16h1v1h-1z"/><path fill="#9bff00" stroke="#9bff00" d="M12 8h1v1h-1zM13 9h1v1h-1zM4 16h1v1h-1zM3 17h1v1h-1zM5 17h1v1h-1zM4 18h1v1h-1z"/><path fill="#a7ff00" stroke="#a7ff00" d="M9 11h1v1h-1zM10 12h1v1h-1zM2 18h1v1h-1zM1 19h1v1h-1zM3 19h1v1h-1zM2 20h1v1h-1z"/><path fill="#b3ff00" stroke="#b3ff00" d="M0 20h1v1h-1zM1 21h1v1h-1z"/><path fill="#fffc00" stroke="#fffc00" d="M11 9h1v1h-1zM10 10h1v1h-1zM12 10h1v1h-1zM11 11h1v1h-1z"/><path fill="#8c0000" stroke="#8c0000" d="M21 0h1v1h-1zM20 1h1v1h-1zM19 2h1v1h-1zM18 3h1v1h-1zM17 4h1v1h-1zM16 5h1v1h-1zM15 6h1v1h-1zM14 7h1v1h-1zM13 8h1v1h-1zM12 9h1v1h-1zM11 10h1v1h-1zM10 11h1v1h-1zM9 12h1v1h-1zM8 13h1v1h-1zM7 14h1v1h-1zM6 15h1v1h-1zM5 16h1v1h-1zM4 17h1v1h-1zM3 18h1v1h-1zM2 19h1v1h-1zM1 20h1v1h-1zM0 21h1v1h-1z"/></g>
<g stroke-width=".14" transform="translate(351.5 55.8) scale(2.79545 2.77727)"><rect stroke="none" x="0.02" y="0.02" width="21.96" height="21.96" fill="#008fd2"/><path fill="#0006ff" stroke="#0006ff" d="M21 15h1v1h-1zM21 16h1v1h-1zM20 17h2v1h-2zM20 18h2v1h-2zM19 19h3v1h-3zM19 20h3v1h-3zM18 21h4v1h-4z"/><path fill="#0016ff" stroke="#0016ff" d="M0 0h5v1h-5zM0 1h3v1h-3zM0 2h1v1h-1zM21 11h1v1h-1zM20 12h2v1h-2zM20 13h2v1h-2zM20 14h2v1h-2zM19 15h2v1h-2zM19 16h2v1h-2zM18 17h2v1h-2zM18 18h2v1h-2zM17 19h2v1h-2zM17 20h2v1h-2zM16 21h2v1h-2z"/><path fill="#0026ff" stroke="#0026ff" d="M5 0h5v1h-5zM3 1h5v1h-5zM1 2h5v1h-5zM0 3h4v1h-4zM0 4h2v1h-2zM0 5h1v1h-1zM21 10h1v1h-1zM20 11h1v1h-1zM19 13h1v1h-1zM18 14h2v1h-2zM18 15h1v1h-1zM17 16h2v1h-2zM17 17h1v1h-1zM16 18h2v1h-2zM16 19h1v1h-1zM15 20h2v1h-2zM15 21h1v1h-1z"/><path fill="#0036ff" stroke="#0036ff" d="M10 0h1v1h-1zM8 1h2v1h-2zM6 2h3v1h-3zM4 3h3v1h-3zM2 4h4v1h-4zM1 5h3v1h-3zM0 6h2v1h-2zM0 7h1v1h-1zM21 8h1v1h-1zM21 9h1v1h-1zM20 10h1v1h-1zM19 11h1v1h-1zM19 12h1v1h-1zM18 13h1v1h-1zM17 14h1v1h-1zM17 15h1v1h-1zM16 16h1v1h-1zM16 17h1v1h-1zM15 18h1v1h-1zM15 19h1v1h-1zM14 20h1v1h-1zM13 21h2v1h-2z"/><path fill="#0046ff" stroke="#0046ff" d="M11 0h2v1h-2zM10 1h2v1h-2zM9 2h1v1h-1zM7 3h2v1h-2zM6 4h2v1h-2zM4 5h2v1h-2zM2 6h3v1h-3zM1 7h2v1h-2zM0 8h2v1h-2zM0 9h1v1h-1zM20 9h1v1h-1zM19 10h1v1h-1zM18 11h1v1h-1zM18 12h1v1h-1zM17 13h1v1h-1zM16 14h1v1h-1zM16 15h1v1h-1zM15 16h1v1h-1zM15 17h1v1h-1zM14 18h1v1h-1zM13 19h2v1h-2zM13 20h1v1h-1zM12 21h1v1h-1z"/><path fill="#0056ff" stroke="#0056ff" d="M13 0h1v1h-1zM12 1h1v1h-1zM10 2h2v1h-2zM9 3h2v1h-2zM8 4h1v1h-1zM6 5h2v1h-2zM5 6h2v1h-2zM3 7h2v1h-2zM21 7h1v1h-1zM2 8h2v1h-2zM20 8h1v1h-1zM1 9h2v1h-2zM19 9h1v1h-1zM0 10h1v1h-1zM17 12h1v1h-1zM16 13h1v1h-1zM15 14h1v1h-1zM15 15h1v1h-1zM14 16h1v1h-1zM14 17h1v1h-1zM13 18h1v1h-1zM12 20h1v1h-1zM11 21h1v1h-1z"/><path fill="#0066ff" stroke="#0066ff" d="M14 0h1v1h-1zM13 1h1v1h-1zM12 2h1v1h-1zM11 3h1v1h-1zM9 4h1v1h-1zM8 5h1v1h-1zM7 6h1v1h-1zM21 6h1v1h-1zM5 7h2v1h-2zM4 8h2v1h-2zM3 9h1v1h-1zM1 10h2v1h-2zM18 10h1v1h-1zM0 11h2v1h-2zM17 11h1v1h-1zM16 12h1v1h-1zM15 13h1v1h-1zM14 15h1v1h-1zM13 16h1v1h-1zM12 17h2v1h-2zM12 18h1v1h-1zM11 19h2v1h-2zM11 20h1v1h-1zM10 21h1v1h-1z"/><path fill="#0076ff" stroke="#0076ff" d="M15 0h1v1h-1zM14 1h1v1h-1zM13 2h1v1h-1zM10 4h1v1h-1zM9 5h1v1h-1zM8 6h1v1h-1zM7 7h1v1h-1zM20 7h1v1h-1zM6 8h1v1h-1zM19 8h1v1h-1zM4 9h2v1h-2zM18 9h1v1h-1zM3 10h1v1h-1zM17 10h1v1h-1zM2 11h1v1h-1zM16 11h1v1h-1zM0 12h2v1h-2zM0 13h1v1h-1zM14 14h1v1h-1zM13 15h1v1h-1zM12 16h1v1h-1zM11 17h1v1h-1zM11 18h1v1h-1zM10 19h1v1h-1zM9 20h2v1h-2zM9 21h1v1h-1z"/><path fill="#0086ff" stroke="#0086ff" d="M16 0h1v1h-1zM15 1h1v1h-1zM14 2h1v1h-1zM12 3h1v1h-1zM11 4h1v1h-1zM10 5h1v1h-1zM21 5h1v1h-1zM9 6h1v1h-1zM20 6h1v1h-1zM8 7h1v1h-1zM19 7h1v1h-1zM7 8h1v1h-1zM18 8h1v1h-1zM6 9h1v1h-1zM17 9h1v1h-1zM4 10h1v1h-1zM3 11h1v1h-1zM2 12h1v1h-1zM15 12h1v1h-1zM1 13h1v1h-1zM14 13h1v1h-1zM0 14h1v1h-1zM13 14h1v1h-1zM12 15h1v1h-1zM11 16h1v1h-1zM10 18h1v1h-1zM9 19h1v1h-1zM8 20h1v1h-1zM7 21h2v1h-2z"/><path fill="#0096ff" stroke="#0096ff" d="M13 3h1v1h-1zM12 4h1v1h-1zM11 5h1v1h-1zM10 6h1v1h-1zM9 7h1v1h-1zM8 8h1v1h-1zM7 9h1v1h-1zM5 10h2v1h-2zM16 10h1v1h-1zM4 11h1v1h-1zM15 11h1v1h-1zM3 12h1v1h-1zM14 12h1v1h-1zM2 13h1v1h-1zM13 13h1v1h-1zM1 14h1v1h-1zM12 14h1v1h-1zM0 15h1v1h-1zM11 15h1v1h-1zM10 17h1v1h-1zM9 18h1v1h-1zM8 19h1v1h-1zM7 20h1v1h-1zM6 21h1v1h-1z"/><path fill="#00aaff" stroke="#00aaff" d="M5 11h1v1h-1zM4 12h1v1h-1zM3 13h1v1h-1zM2 14h1v1h-1zM1 15h1v1h-1zM0 16h1v1h-1zM10 16h1v1h-1zM9 17h1v1h-1zM8 18h1v1h-1zM7 19h1v1h-1zM6 20h1v1h-1zM5 21h1v1h-1z"/><path fill="#00bfff" stroke="#00bfff" d="M21 4h1v1h-1zM20 5h1v1h-1zM19 6h1v1h-1zM18 7h1v1h-1zM17 8h1v1h-1zM16 9h1v1h-1zM15 10h1v1h-1zM14 11h1v1h-1zM13 12h1v1h-1zM12 13h1v1h-1zM11 14h1v1h-1z"/><path fill="#00d4ff" stroke="#00d4ff" d="M17 0h1v1h-1zM16 1h1v1h-1zM15 2h1v1h-1zM14 3h1v1h-1zM13 4h1v1h-1zM12 5h1v1h-1zM11 6h1v1h-1zM10 7h1v1h-1zM9 8h1v1h-1zM8 9h1v1h-1zM7 10h1v1h-1zM6 11h1v1h-1zM5 12h1v1h-1zM4 13h1v1h-1zM3 14h1v1h-1zM2 15h1v1h-1zM10 15h1v1h-1zM1 16h1v1h-1zM9 16h1v1h-1zM0 17h1v1h-1zM8 17h1v1h-1zM7 18h1v1h-1zM6 19h1v1h-1zM5 20h1v1h-1zM4 21h1v1h-1z"/><path fill="#00eaff" stroke="#00eaff" d="M7 11h1v1h-1zM6 12h1v1h-1zM5 13h1v1h-1zM4 14h1v1h-1zM3 15h1v1h-1zM2 16h1v1h-1zM1 17h1v1h-1zM0 18h1v1h-1z"/><path fill="#00ffff" stroke="#00ffff" d="M12 6h1v1h-1zM11 7h1v1h-1zM10 8h1v1h-1zM9 9h1v1h-1zM8 10h1v1h-1zM13 11h1v1h-1zM12 12h1v1h-1zM11 13h1v1h-1zM10 14h1v1h-1zM9 15h1v1h-1zM8 16h1v1h-1zM7 17h1v1h-1zM6 18h1v1h-1zM5 19h1v1h-1zM4 20h1v1h-1zM3 21h1v1h-1z"/><path fill="#00ffec" stroke="#00ffec" d="M17 1h1v1h-1zM16 2h1v1h-1zM15 3h1v1h-1zM14 4h1v1h-1zM13 5h1v1h-1zM18 6h1v1h-1zM17 7h1v1h-1zM16 8h1v1h-1zM15 9h1v1h-1zM14 10h1v1h-1z"/><path fill="#00ffda" stroke="#00ffda" d="M18 0h1v1h-1zM21 3h1v1h-1zM20 4h1v1h-1zM19 5h1v1h-1z"/><path fill="#00ffc7" stroke="#00ffc7" d="M8 11h1v1h-1zM7 12h1v1h-1zM6 13h1v1h-1zM10 13h1v1h-1zM5 14h1v1h-1zM9 14h1v1h-1zM4 15h1v1h-1zM8 15h1v1h-1zM3 16h1v1h-1zM7 16h1v1h-1zM2 17h1v1h-1zM6 17h1v1h-1zM1 18h1v1h-1zM5 18h1v1h-1zM0 19h1v1h-1zM4 19h1v1h-1zM3 20h1v1h-1zM2 21h1v1h-1z"/><path fill="#00ffb5" stroke="#00ffb5" d="M10 9h1v1h-1zM9 10h1v1h-1zM12 11h1v1h-1zM11 12h1v1h-1z"/><path fill="#00ffa2" stroke="#00ffa2" d="M9 13h1v1h-1z"/><path fill="#00ff8e" stroke="#00ff8e" d="M11 8h1v1h-1zM13 10h1v1h-1zM10 12h1v1h-1zM8 14h1v1h-1z"/><path fill="#00ff7a" stroke="#00ff7a" d="M12 7h1v1h-1zM14 9h1v1h-1zM9 11h1v1h-1zM11 11h1v1h-1zM8 12h1v1h-1zM7 13h1v1h-1zM7 15h1v1h-1z"/><path fill="#00ff66" stroke="#00ff66" d="M10 10h1v1h-1z"/><path fill="#00ff52" stroke="#00ff52" d="M6 14h1v1h-1zM6 16h1v1h-1z"/><path fill="#00ff3d" stroke="#00ff3d" d="M13 6h1v1h-1zM15 8h1v1h-1zM12 10h1v1h-1zM5 15h1v1h-1zM5 17h1v1h-1zM1 21h1v1h-1z"/><path fill="#00ff28" stroke="#00ff28" d="M11 9h1v1h-1zM4 18h1v1h-1zM3 19h1v1h-1zM2 20h1v1h-1z"/><path fill="#00ff14" stroke="#00ff14" d="M4 16h1v1h-1zM3 17h1v1h-1zM0 20h1v1h-1z"/><path fill="#00ff00" stroke="#00ff00" d="M14 5h1v1h-1zM16 7h1v1h-1zM2 18h1v1h-1zM1 19h1v1h-1z"/><path fill="#07ff00" stroke="#07ff00" d="M13 9h1v1h-1z"/><path fill="#0bff00" stroke="#0bff00" d="M15 4h1v1h-1zM17 6h1v1h-1zM12 8h1v1h-1z"/><path fill="#0eff00" stroke="#0eff00" d="M18 1h1v1h-1zM20 3h1v1h-1z"/><path fill="#12ff00" stroke="#12ff00" d="M17 2h1v1h-1zM16 3h1v1h-1zM19 4h1v1h-1zM18 5h1v1h-1z"/><path fill="#15ff00" stroke="#15ff00" d="M19 0h1v1h-1zM21 2h1v1h-1z"/><path fill="#36ff00" stroke="#36ff00" d="M13 7h1v1h-1zM14 8h1v1h-1z"/><path fill="#a7ff00" stroke="#a7ff00" d="M15 7h1v1h-1z"/><path fill="#b3ff00" stroke="#b3ff00" d="M14 6h1v1h-1z"/><path fill="#ffb600" stroke="#ffb600" d="M16 6h1v1h-1z"/><path fill="#ffa800" stroke="#ffa800" d="M15 5h1v1h-1z"/><path fill="#ff5c00" stroke="#ff5c00" d="M19 1h1v1h-1zM20 2h1v1h-1z"/><path fill="#ff2e00" stroke="#ff2e00" d="M16 4h1v1h-1zM17 5h1v1h-1z"/><path fill="#ff1700" stroke="#ff1700" d="M18 2h1v1h-1zM19 3h1v1h-1z"/><path fill="#f40000" stroke="#f40000" d="M17 3h1v1h-1zM18 4h1v1h-1z"/><path fill="#d60000" stroke="#d60000" d="M20 0h1v1h-1zM21 1h1v1h-1z"/><path fill="#8c0000" stroke="#8c0000" d="M21 0h1v1h-1zM20 1h1v1h-1zM19 2h1v1h-1zM18 3h1v1h-1zM17 4h1v1h-1zM16 5h1v1h-1zM15 6h1v1h-1zM14 7h1v1h-1zM13 8h1v1h-1zM12 9h1v1h-1zM11 10h1v1h-1zM10 11h1v1h-1zM9 12h1v1h-1zM8 13h1v1h-1zM7 14h1v1h-1zM6 15h1v1h-1zM5 16h1v1h-1zM4 17h1v1h-1zM3 18h1v1h-1zM2 19h1v1h-1zM1 20h1v1h-1zM0 21h1v1h-1z"/></g>
<g stroke-width=".14" transform="translate(419 55.8) scale(2.79545 2.77727)"><rect stroke="none" x="0.02" y="0.02" width="21.96" height="21.96" fill="#00c8d1"/><path fill="#0006ff" stroke="#0006ff" d="M0 0h18v1h-18zM19 5h1v1h-1zM19 6h1v1h-1zM19 7h1v1h-1zM19 8h1v1h-1zM19 9h1v1h-1zM19 10h1v1h-1zM19 11h1v1h-1zM19 12h1v1h-1zM19 13h1v1h-1zM19 14h1v1h-1zM19 15h1v1h-1zM19 16h1v1h-1zM19 17h1v1h-1zM19 18h1v1h-1zM19 19h1v1h-1zM19 20h1v1h-1zM19 21h1v1h-1z"/><path fill="#0016ff" stroke="#0016ff" d="M21 1h1v1h-1z"/><path fill="#0036ff" stroke="#0036ff" d="M21 4h1v1h-1zM21 5h1v1h-1zM21 6h1v1h-1zM21 7h1v1h-1zM21 8h1v1h-1zM21 9h1v1h-1zM21 10h1v1h-1zM21 11h1v1h-1zM21 12h1v1h-1zM21 13h1v1h-1zM21 14h1v1h-1zM21 15h1v1h-1zM21 16h1v1h-1zM21 17h1v1h-1zM21 18h1v1h-1zM21 19h1v1h-1zM21 20h1v1h-1zM21 21h1v1h-1z"/><path fill="#0076ff" stroke="#0076ff" d="M0 1h1v1h-1zM20 5h1v1h-1zM20 6h1v1h-1zM20 7h1v1h-1zM20 8h1v1h-1zM20 9h1v1h-1zM20 10h1v1h-1zM20 11h1v1h-1zM20 12h1v1h-1zM20 13h1v1h-1zM20 14h1v1h-1zM20 15h1v1h-1zM20 16h1v1h-1zM20 17h1v1h-1zM20 18h1v1h-1zM20 19h1v1h-1zM20 20h1v1h-1zM20 21h1v1h-1z"/><path fill="#0086ff" stroke="#0086ff" d="M1 1h8v1h-8zM0 2h8v1h-8zM0 3h6v1h-6zM0 4h5v1h-5zM0 5h3v1h-3z"/><path fill="#0096ff" stroke="#0096ff" d="M9 1h4v1h-4zM8 2h3v1h-3zM6 3h3v1h-3zM21 3h1v1h-1zM5 4h3v1h-3zM19 4h1v1h-1zM3 5h3v1h-3zM0 6h5v1h-5zM0 7h3v1h-3zM0 8h2v1h-2zM18 17h1v1h-1zM18 18h1v1h-1zM17 19h2v1h-2zM17 20h2v1h-2zM16 21h3v1h-3z"/><path fill="#00aaff" stroke="#00aaff" d="M13 1h1v1h-1zM11 2h1v1h-1zM9 3h2v1h-2zM8 4h2v1h-2zM6 5h3v1h-3zM5 6h2v1h-2zM3 7h2v1h-2zM2 8h2v1h-2zM0 9h2v1h-2zM0 10h1v1h-1zM18 14h1v1h-1zM18 15h1v1h-1zM17 16h2v1h-2zM16 17h2v1h-2zM16 18h2v1h-2zM15 19h2v1h-2zM14 20h3v1h-3zM14 21h2v1h-2z"/><path fill="#00bfff" stroke="#00bfff" d="M14 1h1v1h-1zM12 2h2v1h-2zM11 3h1v1h-1zM10 4h1v1h-1zM9 5h1v1h-1zM7 6h1v1h-1zM5 7h2v1h-2zM4 8h2v1h-2zM2 9h2v1h-2zM1 10h2v1h-2zM0 11h1v1h-1zM18 12h1v1h-1zM18 13h1v1h-1zM17 14h1v1h-1zM16 15h2v1h-2zM16 16h1v1h-1zM15 17h1v1h-1zM14 18h2v1h-2zM13 19h2v1h-2zM13 20h1v1h-1zM12 21h2v1h-2z"/><path fill="#00d4ff" stroke="#00d4ff" d="M15 1h1v1h-1zM14 2h1v1h-1zM12 3h2v1h-2zM11 4h1v1h-1zM10 5h1v1h-1zM8 6h2v1h-2zM7 7h1v1h-1zM6 8h1v1h-1zM4 9h2v1h-2zM3 10h1v1h-1zM1 11h2v1h-2zM18 11h1v1h-1zM0 12h2v1h-2zM17 12h1v1h-1zM17 13h1v1h-1zM16 14h1v1h-1zM15 15h1v1h-1zM14 16h2v1h-2zM14 17h1v1h-1zM13 18h1v1h-1zM12 19h1v1h-1zM11 20h2v1h-2zM11 21h1v1h-1z"/><path fill="#00eaff" stroke="#00eaff" d="M21 2h1v1h-1zM12 4h1v1h-1zM20 4h1v1h-1zM11 5h1v1h-1zM10 6h1v1h-1zM8 7h2v1h-2zM7 8h1v1h-1zM6 9h1v1h-1zM18 9h1v1h-1zM4 10h2v1h-2zM18 10h1v1h-1zM3 11h1v1h-1zM17 11h1v1h-1zM2 12h1v1h-1zM16 12h1v1h-1zM0 13h2v1h-2zM16 13h1v1h-1zM15 14h1v1h-1zM14 15h1v1h-1zM13 16h1v1h-1zM13 17h1v1h-1zM12 18h1v1h-1zM11 19h1v1h-1zM10 20h1v1h-1zM10 21h1v1h-1z"/><path fill="#00ffff" stroke="#00ffff" d="M16 1h1v1h-1zM15 2h1v1h-1zM14 3h1v1h-1zM13 4h1v1h-1zM8 8h1v1h-1zM18 8h1v1h-1zM7 9h1v1h-1zM6 10h1v1h-1zM17 10h1v1h-1zM4 11h1v1h-1zM16 11h1v1h-1zM3 12h1v1h-1zM15 12h1v1h-1zM2 13h1v1h-1zM15 13h1v1h-1zM0 14h1v1h-1zM14 14h1v1h-1zM13 15h1v1h-1zM12 16h1v1h-1zM12 17h1v1h-1zM11 18h1v1h-1zM10 19h1v1h-1zM9 20h1v1h-1zM9 21h1v1h-1z"/><path fill="#00ffec" stroke="#00ffec" d="M20 0h1v1h-1zM17 1h1v1h-1zM16 2h1v1h-1zM12 5h1v1h-1zM11 6h1v1h-1zM10 7h1v1h-1zM18 7h1v1h-1zM9 8h1v1h-1zM17 8h1v1h-1zM17 9h1v1h-1zM16 10h1v1h-1zM5 11h1v1h-1zM15 11h1v1h-1zM4 12h1v1h-1zM14 12h1v1h-1zM3 13h1v1h-1zM14 13h1v1h-1zM1 14h2v1h-2zM13 14h1v1h-1zM0 15h1v1h-1zM12 15h1v1h-1zM11 16h1v1h-1zM11 17h1v1h-1zM10 18h1v1h-1zM9 19h1v1h-1zM8 20h1v1h-1zM8 21h1v1h-1z"/><path fill="#00ffda" stroke="#00ffda" d="M15 3h1v1h-1zM20 3h1v1h-1zM14 4h1v1h-1zM13 5h1v1h-1zM18 6h1v1h-1zM17 7h1v1h-1zM8 9h1v1h-1zM16 9h1v1h-1zM7 10h1v1h-1zM15 10h1v1h-1zM6 11h1v1h-1zM14 11h1v1h-1zM13 13h1v1h-1zM12 14h1v1h-1zM1 15h1v1h-1zM11 15h1v1h-1zM0 16h1v1h-1zM10 17h1v1h-1zM9 18h1v1h-1zM8 19h1v1h-1zM7 21h1v1h-1z"/><path fill="#00ffc7" stroke="#00ffc7" d="M12 6h1v1h-1zM11 7h1v1h-1zM10 8h1v1h-1zM16 8h1v1h-1zM9 9h1v1h-1zM15 9h1v1h-1zM14 10h1v1h-1zM5 12h1v1h-1zM13 12h1v1h-1zM4 13h1v1h-1zM12 13h1v1h-1zM3 14h1v1h-1zM11 14h1v1h-1zM2 15h1v1h-1zM10 15h1v1h-1zM10 16h1v1h-1zM9 17h1v1h-1zM8 18h1v1h-1zM7 19h1v1h-1zM7 20h1v1h-1zM6 21h1v1h-1z"/><path fill="#00ffb5" stroke="#00ffb5" d="M8 10h1v1h-1zM7 11h1v1h-1zM13 11h1v1h-1zM12 12h1v1h-1zM1 16h1v1h-1zM9 16h1v1h-1zM0 17h1v1h-1zM8 17h1v1h-1zM7 18h1v1h-1zM6 20h1v1h-1zM5 21h1v1h-1z"/><path fill="#00ffa2" stroke="#00ffa2" d="M18 0h1v1h-1zM18 1h1v1h-1zM17 2h1v1h-1zM6 12h1v1h-1zM5 13h1v1h-1zM11 13h1v1h-1zM4 14h1v1h-1zM10 14h1v1h-1zM3 15h1v1h-1zM2 16h1v1h-1zM1 17h1v1h-1zM6 19h1v1h-1zM5 20h1v1h-1zM4 21h1v1h-1z"/><path fill="#00ff8e" stroke="#00ff8e" d="M16 3h1v1h-1zM15 4h1v1h-1zM14 5h1v1h-1zM18 5h1v1h-1zM17 6h1v1h-1zM16 7h1v1h-1zM9 15h1v1h-1zM8 16h1v1h-1zM7 17h1v1h-1zM0 18h1v1h-1zM6 18h1v1h-1z"/><path fill="#00ff7a" stroke="#00ff7a" d="M13 6h1v1h-1zM12 7h1v1h-1zM11 8h1v1h-1zM15 8h1v1h-1zM14 9h1v1h-1zM13 10h1v1h-1zM5 19h1v1h-1zM4 20h1v1h-1zM3 21h1v1h-1z"/><path fill="#00ff66" stroke="#00ff66" d="M10 9h1v1h-1zM9 10h1v1h-1zM12 11h1v1h-1zM11 12h1v1h-1z"/><path fill="#00ff52" stroke="#00ff52" d="M4 15h1v1h-1zM6 17h1v1h-1z"/><path fill="#00ff3d" stroke="#00ff3d" d="M8 11h1v1h-1zM10 13h1v1h-1zM5 14h1v1h-1zM3 16h1v1h-1zM7 16h1v1h-1zM2 17h1v1h-1zM1 18h1v1h-1zM5 18h1v1h-1zM4 19h1v1h-1zM3 20h1v1h-1z"/><path fill="#00ff28" stroke="#00ff28" d="M19 3h1v1h-1zM0 19h1v1h-1zM2 21h1v1h-1z"/><path fill="#04ff00" stroke="#04ff00" d="M19 0h1v1h-1z"/><path fill="#07ff00" stroke="#07ff00" d="M6 13h1v1h-1zM8 15h1v1h-1z"/><path fill="#0bff00" stroke="#0bff00" d="M19 1h1v1h-1zM20 2h1v1h-1z"/><path fill="#0eff00" stroke="#0eff00" d="M18 2h1v1h-1zM17 3h1v1h-1zM16 4h1v1h-1zM18 4h1v1h-1zM15 5h1v1h-1zM17 5h1v1h-1zM14 6h1v1h-1zM16 6h1v1h-1zM13 7h1v1h-1zM15 7h1v1h-1zM12 8h1v1h-1zM14 8h1v1h-1zM11 9h1v1h-1zM13 9h1v1h-1zM10 10h1v1h-1zM12 10h1v1h-1zM11 11h1v1h-1zM7 12h1v1h-1zM9 14h1v1h-1z"/><path fill="#12ff00" stroke="#12ff00" d="M5 15h1v1h-1zM4 16h1v1h-1zM6 16h1v1h-1zM3 17h1v1h-1zM5 17h1v1h-1zM2 18h1v1h-1zM4 18h1v1h-1zM1 19h1v1h-1zM3 19h1v1h-1zM0 20h1v1h-1zM2 20h1v1h-1zM1 21h1v1h-1z"/><path fill="#19ff00" stroke="#19ff00" d="M9 11h1v1h-1zM10 12h1v1h-1z"/><path fill="#82ff00" stroke="#82ff00" d="M6 14h1v1h-1zM7 15h1v1h-1z"/><path fill="#fffc00" stroke="#fffc00" d="M8 12h1v1h-1zM9 13h1v1h-1z"/><path fill="#ff4500" stroke="#ff4500" d="M21 0h1v1h-1z"/><path fill="#ff2e00" stroke="#ff2e00" d="M7 13h1v1h-1zM8 14h1v1h-1z"/><path fill="#f40000" stroke="#f40000" d="M19 2h1v1h-1z"/><path fill="#8c0000" stroke="#8c0000" d="M20 1h1v1h-1zM18 3h1v1h-1zM17 4h1v1h-1zM16 5h1v1h-1zM15 6h1v1h-1zM14 7h1v1h-1zM13 8h1v1h-1zM12 9h1v1h-1zM11 10h1v1h-1zM10 11h1v1h-1zM9 12h1v1h-1zM8 13h1v1h-1zM7 14h1v1h-1zM6 15h1v1h-1zM5 16h1v1h-1zM4 17h1v1h-1zM3 18h1v1h-1zM2 19h1v1h-1zM1 20h1v1h-1zM0 21h1v1h-1z"/></g>
<g stroke-width=".14" transform="translate(486.6 55.8) scale(2.79545 2.77727)"><rect stroke="none" x="0.02" y="0.02" width="21.96" height="21.96" fill="#00bbd2"/><path fill="#0006ff" stroke="#0006ff" d="M21 18h1v1h-1zM21 19h1v1h-1zM21 20h1v1h-1zM21 21h1v1h-1z"/><path fill="#0016ff" stroke="#0016ff" d="M0 0h3v1h-3zM21 14h1v1h-1zM21 15h1v1h-1zM20 16h2v1h-2zM20 17h2v1h-2zM20 18h1v1h-1zM20 19h1v1h-1zM19 20h2v1h-2zM19 21h2v1h-2z"/><path fill="#0026ff" stroke="#0026ff" d="M3 0h4v1h-4zM0 1h4v1h-4zM0 2h1v1h-1zM21 11h1v1h-1zM21 12h1v1h-1zM21 13h1v1h-1zM20 14h1v1h-1zM20 15h1v1h-1zM19 16h1v1h-1zM19 17h1v1h-1zM19 18h1v1h-1zM18 19h2v1h-2zM18 20h1v1h-1zM17 21h2v1h-2z"/><path fill="#0036ff" stroke="#0036ff" d="M7 0h2v1h-2zM4 1h2v1h-2zM1 2h3v1h-3zM0 3h1v1h-1zM21 10h1v1h-1zM20 12h1v1h-1zM20 13h1v1h-1zM19 14h1v1h-1zM19 15h1v1h-1zM18 16h1v1h-1zM18 17h1v1h-1zM18 18h1v1h-1zM17 19h1v1h-1zM17 20h1v1h-1zM16 21h1v1h-1z"/><path fill="#0046ff" stroke="#0046ff" d="M9 0h1v1h-1zM6 1h2v1h-2zM4 2h2v1h-2zM1 3h3v1h-3zM0 4h1v1h-1zM21 9h1v1h-1zM20 11h1v1h-1zM19 13h1v1h-1zM18 14h1v1h-1zM18 15h1v1h-1zM17 17h1v1h-1zM17 18h1v1h-1zM16 19h1v1h-1zM16 20h1v1h-1zM15 21h1v1h-1z"/><path fill="#0056ff" stroke="#0056ff" d="M10 0h2v1h-2zM8 1h2v1h-2zM6 2h2v1h-2zM4 3h2v1h-2zM1 4h3v1h-3zM0 5h1v1h-1zM21 8h1v1h-1zM20 10h1v1h-1zM19 11h1v1h-1zM19 12h1v1h-1zM18 13h1v1h-1zM17 15h1v1h-1zM17 16h1v1h-1zM16 17h1v1h-1zM16 18h1v1h-1zM15 19h1v1h-1zM15 20h1v1h-1z"/><path fill="#0066ff" stroke="#0066ff" d="M12 0h1v1h-1zM10 1h1v1h-1zM8 2h2v1h-2zM6 3h2v1h-2zM4 4h2v1h-2zM1 5h3v1h-3zM0 6h1v1h-1zM21 7h1v1h-1zM20 9h1v1h-1zM19 10h1v1h-1zM18 12h1v1h-1zM17 14h1v1h-1zM16 16h1v1h-1zM15 18h1v1h-1zM14 19h1v1h-1zM14 20h1v1h-1zM14 21h1v1h-1z"/><path fill="#0076ff" stroke="#0076ff" d="M13 0h1v1h-1zM11 1h2v1h-2zM10 2h1v1h-1zM8 3h1v1h-1zM6 4h1v1h-1zM4 5h1v1h-1zM1 6h3v1h-3zM21 6h1v1h-1zM0 7h1v1h-1zM20 8h1v1h-1zM19 9h1v1h-1zM18 11h1v1h-1zM17 12h1v1h-1zM17 13h1v1h-1zM16 14h1v1h-1zM16 15h1v1h-1zM15 16h1v1h-1zM15 17h1v1h-1zM14 18h1v1h-1zM13 20h1v1h-1zM13 21h1v1h-1z"/><path fill="#0086ff" stroke="#0086ff" d="M14 0h1v1h-1zM13 1h1v1h-1zM11 2h1v1h-1zM9 3h2v1h-2zM7 4h2v1h-2zM5 5h2v1h-2zM4 6h1v1h-1zM1 7h2v1h-2zM20 7h1v1h-1zM0 8h1v1h-1zM18 10h1v1h-1zM17 11h1v1h-1zM16 13h1v1h-1zM15 15h1v1h-1zM14 17h1v1h-1zM13 19h1v1h-1zM12 21h1v1h-1z"/><path fill="#0096ff" stroke="#0096ff" d="M15 0h1v1h-1zM12 2h1v1h-1zM11 3h1v1h-1zM9 4h1v1h-1zM7 5h1v1h-1zM21 5h1v1h-1zM5 6h2v1h-2zM20 6h1v1h-1zM3 7h2v1h-2zM1 8h2v1h-2zM19 8h1v1h-1zM0 9h1v1h-1zM18 9h1v1h-1zM16 12h1v1h-1zM15 14h1v1h-1zM14 15h1v1h-1zM14 16h1v1h-1zM13 17h1v1h-1zM13 18h1v1h-1zM12 19h1v1h-1zM12 20h1v1h-1zM11 21h1v1h-1z"/><path fill="#00aaff" stroke="#00aaff" d="M16 0h1v1h-1zM14 1h1v1h-1zM13 2h1v1h-1zM12 3h1v1h-1zM10 4h1v1h-1zM8 5h2v1h-2zM7 6h1v1h-1zM5 7h1v1h-1zM19 7h1v1h-1zM3 8h1v1h-1zM18 8h1v1h-1zM1 9h2v1h-2zM0 10h1v1h-1zM17 10h1v1h-1zM16 11h1v1h-1zM15 13h1v1h-1zM14 14h1v1h-1zM13 16h1v1h-1zM12 18h1v1h-1zM11 20h1v1h-1z"/><path fill="#00bfff" stroke="#00bfff" d="M15 1h1v1h-1zM14 2h1v1h-1zM11 4h1v1h-1zM21 4h1v1h-1zM10 5h1v1h-1zM8 6h1v1h-1zM6 7h1v1h-1zM4 8h2v1h-2zM3 9h1v1h-1zM17 9h1v1h-1zM1 10h1v1h-1zM16 10h1v1h-1zM15 12h1v1h-1zM14 13h1v1h-1zM13 15h1v1h-1zM12 16h1v1h-1zM12 17h1v1h-1zM11 18h1v1h-1zM11 19h1v1h-1zM10 20h1v1h-1zM10 21h1v1h-1z"/><path fill="#00d4ff" stroke="#00d4ff" d="M13 3h1v1h-1zM12 4h1v1h-1zM11 5h1v1h-1zM20 5h1v1h-1zM9 6h1v1h-1zM19 6h1v1h-1zM7 7h2v1h-2zM6 8h1v1h-1zM4 9h1v1h-1zM2 10h2v1h-2zM0 11h2v1h-2zM15 11h1v1h-1zM13 14h1v1h-1zM12 15h1v1h-1zM11 17h1v1h-1zM10 19h1v1h-1zM9 21h1v1h-1z"/><path fill="#00eaff" stroke="#00eaff" d="M17 0h1v1h-1zM16 1h1v1h-1zM15 2h1v1h-1zM10 6h1v1h-1zM9 7h1v1h-1zM18 7h1v1h-1zM7 8h1v1h-1zM17 8h1v1h-1zM5 9h2v1h-2zM4 10h1v1h-1zM2 11h1v1h-1zM0 12h2v1h-2zM14 12h1v1h-1zM13 13h1v1h-1zM11 16h1v1h-1zM10 17h1v1h-1zM10 18h1v1h-1zM9 19h1v1h-1zM9 20h1v1h-1zM8 21h1v1h-1z"/><path fill="#00ffff" stroke="#00ffff" d="M14 3h1v1h-1zM21 3h1v1h-1zM13 4h1v1h-1zM8 8h1v1h-1zM7 9h1v1h-1zM16 9h1v1h-1zM5 10h1v1h-1zM15 10h1v1h-1zM3 11h2v1h-2zM2 12h1v1h-1zM0 13h1v1h-1zM12 14h1v1h-1zM11 15h1v1h-1zM9 18h1v1h-1zM8 19h1v1h-1zM8 20h1v1h-1zM7 21h1v1h-1z"/><path fill="#00ffec" stroke="#00ffec" d="M18 0h1v1h-1zM17 1h1v1h-1zM20 4h1v1h-1zM12 5h1v1h-1zM19 5h1v1h-1zM11 6h1v1h-1zM6 10h1v1h-1zM5 11h1v1h-1zM14 11h1v1h-1zM3 12h1v1h-1zM13 12h1v1h-1zM1 13h2v1h-2zM0 14h1v1h-1zM10 16h1v1h-1zM9 17h1v1h-1zM7 20h1v1h-1zM6 21h1v1h-1z"/><path fill="#00ffda" stroke="#00ffda" d="M16 2h1v1h-1zM15 3h1v1h-1zM18 6h1v1h-1zM10 7h1v1h-1zM17 7h1v1h-1zM9 8h1v1h-1zM8 9h1v1h-1zM4 12h1v1h-1zM3 13h1v1h-1zM12 13h1v1h-1zM1 14h2v1h-2zM11 14h1v1h-1zM0 15h1v1h-1zM8 18h1v1h-1zM7 19h1v1h-1z"/><path fill="#00ffc7" stroke="#00ffc7" d="M14 4h1v1h-1zM13 5h1v1h-1zM16 8h1v1h-1zM15 9h1v1h-1zM7 10h1v1h-1zM6 11h1v1h-1zM1 15h1v1h-1zM10 15h1v1h-1zM0 16h1v1h-1zM9 16h1v1h-1zM6 20h1v1h-1z"/><path fill="#00ffb5" stroke="#00ffb5" d="M12 6h1v1h-1zM11 7h1v1h-1zM10 8h1v1h-1zM14 10h1v1h-1zM13 11h1v1h-1zM5 12h1v1h-1zM4 13h1v1h-1zM8 17h1v1h-1zM7 18h1v1h-1zM5 21h1v1h-1z"/><path fill="#00ffa2" stroke="#00ffa2" d="M20 3h1v1h-1zM9 9h1v1h-1zM8 10h1v1h-1zM12 12h1v1h-1zM11 13h1v1h-1zM3 14h1v1h-1zM2 15h1v1h-1zM6 19h1v1h-1zM5 20h1v1h-1z"/><path fill="#00ff8e" stroke="#00ff8e" d="M18 1h1v1h-1zM21 2h1v1h-1zM19 4h1v1h-1zM18 5h1v1h-1zM7 11h1v1h-1zM6 12h1v1h-1zM10 14h1v1h-1zM9 15h1v1h-1zM1 16h1v1h-1zM0 17h1v1h-1zM4 21h1v1h-1z"/><path fill="#00ff7a" stroke="#00ff7a" d="M19 0h1v1h-1zM17 2h1v1h-1zM16 3h1v1h-1zM15 4h1v1h-1zM17 6h1v1h-1zM16 7h1v1h-1zM5 13h1v1h-1zM4 14h1v1h-1zM3 15h1v1h-1zM8 16h1v1h-1zM7 17h1v1h-1z"/><path fill="#00ff66" stroke="#00ff66" d="M14 5h1v1h-1zM13 6h1v1h-1zM15 8h1v1h-1zM14 9h1v1h-1zM13 10h1v1h-1zM2 16h1v1h-1zM1 17h1v1h-1zM6 18h1v1h-1zM5 19h1v1h-1z"/><path fill="#00ff52" stroke="#00ff52" d="M12 7h1v1h-1zM11 8h1v1h-1zM12 11h1v1h-1zM0 18h1v1h-1zM4 20h1v1h-1zM3 21h1v1h-1z"/><path fill="#00ff3d" stroke="#00ff3d" d="M10 9h1v1h-1zM9 10h1v1h-1zM11 12h1v1h-1zM10 13h1v1h-1z"/><path fill="#00ff28" stroke="#00ff28" d="M8 11h1v1h-1zM7 12h1v1h-1zM9 14h1v1h-1zM8 15h1v1h-1z"/><path fill="#00ff14" stroke="#00ff14" d="M6 13h1v1h-1zM5 14h1v1h-1zM7 16h1v1h-1zM6 17h1v1h-1z"/><path fill="#00ff00" stroke="#00ff00" d="M4 15h1v1h-1zM3 16h1v1h-1zM2 17h1v1h-1zM5 18h1v1h-1zM4 19h1v1h-1z"/><path fill="#04ff00" stroke="#04ff00" d="M1 18h1v1h-1zM0 19h1v1h-1zM3 20h1v1h-1zM2 21h1v1h-1z"/><path fill="#12ff00" stroke="#12ff00" d="M14 6h1v1h-1zM13 7h1v1h-1zM15 7h1v1h-1zM12 8h1v1h-1zM14 8h1v1h-1zM11 9h1v1h-1zM13 9h1v1h-1zM10 10h1v1h-1zM12 10h1v1h-1zM11 11h1v1h-1z"/><path fill="#15ff00" stroke="#15ff00" d="M18 2h1v1h-1zM17 3h1v1h-1zM19 3h1v1h-1zM16 4h1v1h-1zM18 4h1v1h-1zM15 5h1v1h-1zM17 5h1v1h-1zM16 6h1v1h-1zM9 11h1v1h-1zM10 12h1v1h-1z"/><path fill="#19ff00" stroke="#19ff00" d="M8 12h1v1h-1zM7 13h1v1h-1zM9 13h1v1h-1zM8 14h1v1h-1z"/><path fill="#22ff00" stroke="#22ff00" d="M19 1h1v1h-1zM20 2h1v1h-1zM6 14h1v1h-1zM5 15h1v1h-1zM7 15h1v1h-1zM4 16h1v1h-1zM6 16h1v1h-1zM5 17h1v1h-1z"/><path fill="#2cff00" stroke="#2cff00" d="M3 17h1v1h-1zM2 18h1v1h-1zM4 18h1v1h-1zM1 19h1v1h-1zM3 19h1v1h-1zM0 20h1v1h-1zM2 20h1v1h-1zM1 21h1v1h-1z"/><path fill="#a7ff00" stroke="#a7ff00" d="M20 0h1v1h-1zM21 1h1v1h-1z"/><path fill="#8c0000" stroke="#8c0000" d="M21 0h1v1h-1zM20 1h1v1h-1zM19 2h1v1h-1zM18 3h1v1h-1zM17 4h1v1h-1zM16 5h1v1h-1zM15 6h1v1h-1zM14 7h1v1h-1zM13 8h1v1h-1zM12 9h1v1h-1zM11 10h1v1h-1zM10 11h1v1h-1zM9 12h1v1h-1zM8 13h1v1h-1zM7 14h1v1h-1zM6 15h1v1h-1zM5 16h1v1h-1zM4 17h1v1h-1zM3 18h1v1h-1zM2 19h1v1h-1zM1 20h1v1h-1zM0 21h1v1h-1z"/></g>
<g stroke-width=".14" transform="translate(554 55.8) scale(2.79545 2.77727)"><rect stroke="none" x="0.02" y="0.02" width="21.96" height="21.96" fill="#0090d2"/><path fill="#0016ff" stroke="#0016ff" d="M21 17h1v1h-1zM21 18h1v1h-1zM21 19h1v1h-1zM20 20h2v1h-2zM20 21h2v1h-2z"/><path fill="#0026ff" stroke="#0026ff" d="M0 0h3v1h-3zM0 1h1v1h-1zM21 11h1v1h-1zM21 12h1v1h-1zM20 13h2v1h-2zM20 14h2v1h-2zM20 15h2v1h-2zM19 16h3v1h-3zM19 17h2v1h-2zM18 18h3v1h-3zM18 19h3v1h-3zM17 20h3v1h-3zM17 21h3v1h-3z"/><path fill="#0036ff" stroke="#0036ff" d="M3 0h5v1h-5zM1 1h4v1h-4zM0 2h3v1h-3zM0 3h1v1h-1zM21 8h1v1h-1zM21 9h1v1h-1zM21 10h1v1h-1zM20 11h1v1h-1zM20 12h1v1h-1zM19 13h1v1h-1zM19 14h1v1h-1zM18 15h2v1h-2zM18 16h1v1h-1zM17 17h2v1h-2zM17 18h1v1h-1zM16 19h2v1h-2zM16 20h1v1h-1zM15 21h2v1h-2z"/><path fill="#0046ff" stroke="#0046ff" d="M8 0h3v1h-3zM5 1h4v1h-4zM3 2h3v1h-3zM1 3h3v1h-3zM0 4h2v1h-2zM0 5h1v1h-1zM21 7h1v1h-1zM20 9h1v1h-1zM19 10h2v1h-2zM19 11h1v1h-1zM18 12h2v1h-2zM18 13h1v1h-1zM18 14h1v1h-1zM17 15h1v1h-1zM17 16h1v1h-1zM16 17h1v1h-1zM16 18h1v1h-1zM15 19h1v1h-1zM15 20h1v1h-1zM14 21h1v1h-1z"/><path fill="#0056ff" stroke="#0056ff" d="M11 0h2v1h-2zM9 1h2v1h-2zM6 2h3v1h-3zM4 3h3v1h-3zM2 4h3v1h-3zM1 5h2v1h-2zM0 6h1v1h-1zM21 6h1v1h-1zM20 8h1v1h-1zM19 9h1v1h-1zM18 11h1v1h-1zM17 12h1v1h-1zM17 13h1v1h-1zM16 14h2v1h-2zM16 15h1v1h-1zM15 16h2v1h-2zM15 17h1v1h-1zM14 18h2v1h-2zM14 19h1v1h-1zM13 20h2v1h-2zM13 21h1v1h-1z"/><path fill="#0066ff" stroke="#0066ff" d="M13 0h1v1h-1zM11 1h2v1h-2zM9 2h2v1h-2zM7 3h2v1h-2zM5 4h2v1h-2zM3 5h3v1h-3zM21 5h1v1h-1zM1 6h3v1h-3zM0 7h1v1h-1zM20 7h1v1h-1zM19 8h1v1h-1zM18 10h1v1h-1zM17 11h1v1h-1zM16 13h1v1h-1zM15 14h1v1h-1zM15 15h1v1h-1zM14 16h1v1h-1zM14 17h1v1h-1zM13 18h1v1h-1zM13 19h1v1h-1zM12 20h1v1h-1zM12 21h1v1h-1z"/><path fill="#0076ff" stroke="#0076ff" d="M14 0h2v1h-2zM13 1h1v1h-1zM11 2h2v1h-2zM9 3h2v1h-2zM7 4h3v1h-3zM6 5h2v1h-2zM4 6h2v1h-2zM20 6h1v1h-1zM1 7h3v1h-3zM19 7h1v1h-1zM0 8h2v1h-2zM18 9h1v1h-1zM17 10h1v1h-1zM16 11h1v1h-1zM16 12h1v1h-1zM15 13h1v1h-1zM14 15h1v1h-1zM13 16h1v1h-1zM13 17h1v1h-1zM12 18h1v1h-1zM12 19h1v1h-1zM11 20h1v1h-1zM11 21h1v1h-1z"/><path fill="#0086ff" stroke="#0086ff" d="M16 0h1v1h-1zM14 1h1v1h-1zM13 2h1v1h-1zM11 3h1v1h-1zM10 4h1v1h-1zM21 4h1v1h-1zM8 5h1v1h-1zM6 6h2v1h-2zM4 7h2v1h-2zM2 8h2v1h-2zM18 8h1v1h-1zM0 9h2v1h-2zM17 9h1v1h-1zM16 10h1v1h-1zM15 12h1v1h-1zM14 13h1v1h-1zM14 14h1v1h-1zM13 15h1v1h-1zM12 16h1v1h-1zM12 17h1v1h-1zM11 18h1v1h-1zM11 19h1v1h-1zM10 20h1v1h-1zM10 21h1v1h-1z"/><path fill="#0096ff" stroke="#0096ff" d="M15 1h1v1h-1zM14 2h1v1h-1zM12 3h2v1h-2zM11 4h1v1h-1zM9 5h2v1h-2zM20 5h1v1h-1zM8 6h1v1h-1zM19 6h1v1h-1zM6 7h2v1h-2zM18 7h1v1h-1zM4 8h2v1h-2zM2 9h3v1h-3zM0 10h3v1h-3zM0 11h1v1h-1zM15 11h1v1h-1zM14 12h1v1h-1zM13 14h1v1h-1zM12 15h1v1h-1zM11 17h1v1h-1zM10 18h1v1h-1zM10 19h1v1h-1zM9 20h1v1h-1zM9 21h1v1h-1z"/><path fill="#00aaff" stroke="#00aaff" d="M17 0h1v1h-1zM16 1h1v1h-1zM21 3h1v1h-1zM12 4h1v1h-1zM11 5h1v1h-1zM9 6h2v1h-2zM8 7h1v1h-1zM6 8h2v1h-2zM17 8h1v1h-1zM5 9h1v1h-1zM16 9h1v1h-1zM3 10h1v1h-1zM1 11h2v1h-2zM0 12h1v1h-1zM13 13h1v1h-1zM12 14h1v1h-1zM11 16h1v1h-1zM10 17h1v1h-1zM9 18h1v1h-1zM9 19h1v1h-1zM8 20h1v1h-1zM8 21h1v1h-1z"/><path fill="#00bfff" stroke="#00bfff" d="M15 2h1v1h-1zM14 3h1v1h-1zM13 4h1v1h-1zM20 4h1v1h-1zM19 5h1v1h-1zM18 6h1v1h-1zM9 7h1v1h-1zM8 8h1v1h-1zM6 9h2v1h-2zM4 10h2v1h-2zM15 10h1v1h-1zM3 11h1v1h-1zM14 11h1v1h-1zM1 12h2v1h-2zM13 12h1v1h-1zM0 13h1v1h-1zM11 15h1v1h-1zM10 16h1v1h-1zM9 17h1v1h-1zM8 19h1v1h-1zM7 20h1v1h-1zM7 21h1v1h-1z"/><path fill="#00d4ff" stroke="#00d4ff" d="M18 0h1v1h-1zM17 1h1v1h-1zM16 2h1v1h-1zM12 5h1v1h-1zM11 6h1v1h-1zM10 7h1v1h-1zM17 7h1v1h-1zM16 8h1v1h-1zM6 10h1v1h-1zM4 11h2v1h-2zM3 12h1v1h-1zM1 13h2v1h-2zM12 13h1v1h-1zM0 14h1v1h-1zM11 14h1v1h-1zM10 15h1v1h-1zM8 18h1v1h-1zM7 19h1v1h-1zM6 21h1v1h-1z"/><path fill="#00eaff" stroke="#00eaff" d="M15 3h1v1h-1zM14 4h1v1h-1zM13 5h1v1h-1zM9 8h1v1h-1zM8 9h1v1h-1zM15 9h1v1h-1zM7 10h1v1h-1zM14 10h1v1h-1zM13 11h1v1h-1zM4 12h1v1h-1zM3 13h1v1h-1zM1 14h2v1h-2zM0 15h1v1h-1zM9 16h1v1h-1zM8 17h1v1h-1zM6 20h1v1h-1zM5 21h1v1h-1z"/><path fill="#00ffff" stroke="#00ffff" d="M21 2h1v1h-1zM20 3h1v1h-1zM12 6h1v1h-1zM11 7h1v1h-1zM10 8h1v1h-1zM6 11h1v1h-1zM5 12h1v1h-1zM12 12h1v1h-1zM11 13h1v1h-1zM1 15h1v1h-1zM0 16h1v1h-1zM7 18h1v1h-1zM6 19h1v1h-1zM5 20h1v1h-1z"/><path fill="#00ffec" stroke="#00ffec" d="M19 0h1v1h-1zM18 1h1v1h-1zM19 4h1v1h-1zM9 9h1v1h-1zM8 10h1v1h-1zM7 11h1v1h-1zM4 13h1v1h-1zM3 14h1v1h-1zM10 14h1v1h-1zM2 15h1v1h-1zM9 15h1v1h-1zM8 16h1v1h-1zM4 21h1v1h-1z"/><path fill="#00ffda" stroke="#00ffda" d="M17 2h1v1h-1zM18 5h1v1h-1zM6 12h1v1h-1zM5 13h1v1h-1zM4 14h1v1h-1zM1 16h1v1h-1zM0 17h1v1h-1zM7 17h1v1h-1zM6 18h1v1h-1z"/><path fill="#00ffc7" stroke="#00ffc7" d="M16 3h1v1h-1zM12 7h1v1h-1zM15 8h1v1h-1zM14 9h1v1h-1zM13 10h1v1h-1zM3 15h1v1h-1zM2 16h1v1h-1zM1 17h1v1h-1zM5 19h1v1h-1zM4 20h1v1h-1z"/><path fill="#00ffb5" stroke="#00ffb5" d="M13 6h1v1h-1zM11 8h1v1h-1zM10 9h1v1h-1zM9 10h1v1h-1zM12 11h1v1h-1zM11 12h1v1h-1zM10 13h1v1h-1zM0 18h1v1h-1zM3 21h1v1h-1z"/><path fill="#00ffa2" stroke="#00ffa2" d="M17 6h1v1h-1zM16 7h1v1h-1zM8 11h1v1h-1zM7 12h1v1h-1zM9 14h1v1h-1zM8 15h1v1h-1z"/><path fill="#00ff8e" stroke="#00ff8e" d="M15 4h1v1h-1zM14 5h1v1h-1zM6 13h1v1h-1zM5 14h1v1h-1zM4 15h1v1h-1zM7 16h1v1h-1zM6 17h1v1h-1zM5 18h1v1h-1z"/><path fill="#00ff7a" stroke="#00ff7a" d="M20 0h1v1h-1zM19 1h1v1h-1zM21 1h1v1h-1zM20 2h1v1h-1zM3 16h1v1h-1zM2 17h1v1h-1zM1 18h1v1h-1zM4 19h1v1h-1zM3 20h1v1h-1z"/><path fill="#00ff66" stroke="#00ff66" d="M18 2h1v1h-1zM19 3h1v1h-1zM0 19h1v1h-1zM2 21h1v1h-1z"/><path fill="#00ff52" stroke="#00ff52" d="M17 3h1v1h-1zM18 4h1v1h-1z"/><path fill="#00ff3d" stroke="#00ff3d" d="M12 8h1v1h-1zM11 9h1v1h-1zM13 9h1v1h-1zM12 10h1v1h-1z"/><path fill="#00ff28" stroke="#00ff28" d="M13 7h1v1h-1zM14 8h1v1h-1zM10 10h1v1h-1zM9 11h1v1h-1zM11 11h1v1h-1zM8 12h1v1h-1zM10 12h1v1h-1zM9 13h1v1h-1z"/><path fill="#00ff14" stroke="#00ff14" d="M7 13h1v1h-1zM6 14h1v1h-1zM8 14h1v1h-1zM5 15h1v1h-1zM7 15h1v1h-1zM6 16h1v1h-1z"/><path fill="#00ff00" stroke="#00ff00" d="M4 16h1v1h-1zM3 17h1v1h-1zM5 17h1v1h-1zM4 18h1v1h-1z"/><path fill="#04ff00" stroke="#04ff00" d="M2 18h1v1h-1zM1 19h1v1h-1zM3 19h1v1h-1zM0 20h1v1h-1zM2 20h1v1h-1zM1 21h1v1h-1z"/><path fill="#36ff00" stroke="#36ff00" d="M16 4h1v1h-1zM17 5h1v1h-1z"/><path fill="#40ff00" stroke="#40ff00" d="M14 6h1v1h-1zM15 7h1v1h-1z"/><path fill="#ffee00" stroke="#ffee00" d="M15 5h1v1h-1zM16 6h1v1h-1z"/><path fill="#8c0000" stroke="#8c0000" d="M21 0h1v1h-1zM20 1h1v1h-1zM19 2h1v1h-1zM18 3h1v1h-1zM17 4h1v1h-1zM16 5h1v1h-1zM15 6h1v1h-1zM14 7h1v1h-1zM13 8h1v1h-1zM12 9h1v1h-1zM11 10h1v1h-1zM10 11h1v1h-1zM9 12h1v1h-1zM8 13h1v1h-1zM7 14h1v1h-1zM6 15h1v1h-1zM5 16h1v1h-1zM4 17h1v1h-1zM3 18h1v1h-1zM2 19h1v1h-1zM1 20h1v1h-1zM0 21h1v1h-1z"/></g>
<g stroke-width=".14" transform="translate(622.6 55.8) scale(2.79545 2.77727)"><rect stroke="none" x="0.02" y="0.02" width="21.96" height="21.96" fill="#0fc814"/><path fill="#00eaff" stroke="#00eaff" d="M0 0h1v1h-1zM21 21h1v1h-1z"/><path fill="#00ffff" stroke="#00ffff" d="M1 0h1v1h-1zM0 1h1v1h-1zM21 20h1v1h-1zM20 21h1v1h-1z"/><path fill="#00ffec" stroke="#00ffec" d="M2 0h1v1h-1zM1 1h1v1h-1zM0 2h1v1h-1zM21 19h1v1h-1zM20 20h1v1h-1zM19 21h1v1h-1z"/><path fill="#00ffda" stroke="#00ffda" d="M3 0h1v1h-1zM2 1h1v1h-1zM1 2h1v1h-1zM0 3h1v1h-1zM21 18h1v1h-1z"/><path fill="#00ffc7" stroke="#00ffc7" d="M4 0h1v1h-1zM3 1h1v1h-1zM2 2h1v1h-1zM1 3h1v1h-1zM0 4h1v1h-1zM21 17h1v1h-1zM20 19h1v1h-1zM19 20h1v1h-1zM18 21h1v1h-1z"/><path fill="#00ffb5" stroke="#00ffb5" d="M5 0h1v1h-1zM4 1h1v1h-1zM3 2h1v1h-1zM2 3h1v1h-1zM1 4h1v1h-1zM0 5h1v1h-1zM20 18h1v1h-1zM19 19h1v1h-1zM18 20h1v1h-1zM17 21h1v1h-1z"/><path fill="#00ffa2" stroke="#00ffa2" d="M21 16h1v1h-1zM20 17h1v1h-1zM19 18h1v1h-1zM18 19h1v1h-1z"/><path fill="#00ff8e" stroke="#00ff8e" d="M6 0h1v1h-1zM5 1h1v1h-1zM4 2h1v1h-1zM3 3h1v1h-1zM2 4h1v1h-1zM1 5h1v1h-1zM0 6h1v1h-1zM21 15h1v1h-1zM20 16h1v1h-1zM19 17h1v1h-1zM18 18h1v1h-1zM17 20h1v1h-1zM16 21h1v1h-1z"/><path fill="#00ff7a" stroke="#00ff7a" d="M5 2h1v1h-1zM4 3h1v1h-1zM3 4h1v1h-1zM2 5h1v1h-1zM1 6h1v1h-1zM0 7h1v1h-1zM21 14h1v1h-1zM20 15h1v1h-1zM19 16h1v1h-1zM17 19h1v1h-1zM16 20h1v1h-1zM15 21h1v1h-1z"/><path fill="#00ff66" stroke="#00ff66" d="M7 0h1v1h-1zM6 1h1v1h-1zM1 7h1v1h-1zM0 8h1v1h-1zM21 13h1v1h-1zM20 14h1v1h-1zM18 17h1v1h-1zM17 18h1v1h-1zM16 19h1v1h-1zM15 20h1v1h-1z"/><path fill="#00ff52" stroke="#00ff52" d="M8 0h1v1h-1zM7 1h1v1h-1zM6 2h1v1h-1zM5 3h1v1h-1zM4 4h1v1h-1zM3 5h1v1h-1zM2 6h1v1h-1zM19 15h1v1h-1zM18 16h1v1h-1zM17 17h1v1h-1zM16 18h1v1h-1zM14 21h1v1h-1z"/><path fill="#00ff3d" stroke="#00ff3d" d="M5 4h1v1h-1zM4 5h1v1h-1zM3 6h1v1h-1zM2 7h1v1h-1zM1 8h1v1h-1zM0 9h1v1h-1zM21 12h1v1h-1zM20 13h1v1h-1zM19 14h1v1h-1zM18 15h1v1h-1zM17 16h1v1h-1zM15 19h1v1h-1zM14 20h1v1h-1zM13 21h1v1h-1z"/><path fill="#00ff28" stroke="#00ff28" d="M9 0h1v1h-1zM8 1h1v1h-1zM7 2h1v1h-1zM6 3h1v1h-1zM2 8h1v1h-1zM1 9h1v1h-1zM0 10h1v1h-1zM21 11h1v1h-1zM20 12h1v1h-1zM19 13h1v1h-1zM16 17h1v1h-1zM15 18h1v1h-1zM14 19h1v1h-1zM13 20h1v1h-1z"/><path fill="#00ff14" stroke="#00ff14" d="M7 3h1v1h-1zM6 4h1v1h-1zM5 5h1v1h-1zM4 6h1v1h-1zM3 7h1v1h-1zM2 9h1v1h-1zM1 10h1v1h-1zM21 10h1v1h-1zM0 11h1v1h-1zM18 14h1v1h-1zM17 15h1v1h-1zM16 16h1v1h-1zM15 17h1v1h-1zM14 18h1v1h-1zM12 21h1v1h-1z"/><path fill="#00ff00" stroke="#00ff00" d="M10 0h1v1h-1zM9 1h2v1h-2zM8 2h2v1h-2zM8 3h1v1h-1zM7 4h1v1h-1zM6 5h1v1h-1zM5 6h1v1h-1zM4 7h1v1h-1zM3 8h1v1h-1zM21 9h1v1h-1zM20 11h1v1h-1zM0 12h1v1h-1zM19 12h1v1h-1zM18 13h1v1h-1zM17 14h1v1h-1zM16 15h1v1h-1zM15 16h1v1h-1zM14 17h1v1h-1zM13 18h1v1h-1zM13 19h1v1h-1zM12 20h1v1h-1zM11 21h1v1h-1z"/><path fill="#04ff00" stroke="#04ff00" d="M11 0h2v1h-2zM11 1h1v1h-1zM10 2h1v1h-1zM9 3h1v1h-1zM8 4h1v1h-1zM7 5h1v1h-1zM6 6h1v1h-1zM5 7h1v1h-1zM4 8h1v1h-1zM21 8h1v1h-1zM3 9h1v1h-1zM20 9h1v1h-1zM2 10h1v1h-1zM20 10h1v1h-1zM1 11h2v1h-2zM19 11h1v1h-1zM1 12h1v1h-1zM18 12h1v1h-1zM0 13h1v1h-1zM17 13h1v1h-1zM16 14h1v1h-1zM15 15h1v1h-1zM14 16h1v1h-1zM13 17h1v1h-1zM12 18h1v1h-1zM11 19h2v1h-2zM11 20h1v1h-1zM10 21h1v1h-1z"/><path fill="#07ff00" stroke="#07ff00" d="M13 0h1v1h-1zM12 1h1v1h-1zM11 2h1v1h-1zM10 3h1v1h-1zM9 4h1v1h-1zM8 5h1v1h-1zM7 6h1v1h-1zM6 7h1v1h-1zM21 7h1v1h-1zM5 8h2v1h-2zM4 9h2v1h-2zM3 10h2v1h-2zM19 10h1v1h-1zM3 11h1v1h-1zM18 11h1v1h-1zM2 12h1v1h-1zM17 12h1v1h-1zM1 13h1v1h-1zM16 13h1v1h-1zM0 14h1v1h-1zM15 14h1v1h-1zM14 15h1v1h-1zM13 16h1v1h-1zM12 17h1v1h-1zM11 18h1v1h-1zM10 19h1v1h-1zM9 20h2v1h-2zM9 21h1v1h-1z"/><path fill="#0bff00" stroke="#0bff00" d="M14 0h1v1h-1zM13 1h1v1h-1zM12 2h1v1h-1zM11 3h1v1h-1zM10 4h1v1h-1zM9 5h1v1h-1zM8 6h2v1h-2zM7 7h2v1h-2zM7 8h1v1h-1zM20 8h1v1h-1zM6 9h1v1h-1zM19 9h1v1h-1zM5 10h1v1h-1zM18 10h1v1h-1zM4 11h1v1h-1zM17 11h1v1h-1zM3 12h1v1h-1zM16 12h1v1h-1zM2 13h1v1h-1zM15 13h1v1h-1zM1 14h1v1h-1zM14 14h1v1h-1zM0 15h1v1h-1zM13 15h1v1h-1zM12 16h1v1h-1zM11 17h1v1h-1zM10 18h1v1h-1zM9 19h1v1h-1zM8 20h1v1h-1zM7 21h2v1h-2z"/><path fill="#0eff00" stroke="#0eff00" d="M15 0h1v1h-1zM14 1h1v1h-1zM13 2h1v1h-1zM12 3h1v1h-1zM11 4h1v1h-1zM10 5h1v1h-1zM21 6h1v1h-1zM20 7h1v1h-1zM19 8h1v1h-1zM18 9h1v1h-1zM17 10h1v1h-1zM16 11h1v1h-1zM15 12h1v1h-1zM14 13h1v1h-1zM2 14h1v1h-1zM13 14h1v1h-1zM1 15h1v1h-1zM12 15h1v1h-1zM0 16h1v1h-1zM11 16h1v1h-1zM10 17h1v1h-1zM9 18h1v1h-1zM8 19h1v1h-1zM7 20h1v1h-1zM6 21h1v1h-1z"/><path fill="#12ff00" stroke="#12ff00" d="M9 7h1v1h-1zM8 8h1v1h-1zM7 9h1v1h-1zM6 10h1v1h-1zM5 11h1v1h-1zM4 12h1v1h-1zM3 13h1v1h-1z"/><path fill="#15ff00" stroke="#15ff00" d="M10 6h1v1h-1zM14 12h1v1h-1zM13 13h1v1h-1zM12 14h1v1h-1zM11 15h1v1h-1zM10 16h1v1h-1zM9 17h1v1h-1zM8 18h1v1h-1zM7 19h1v1h-1zM6 20h1v1h-1z"/><path fill="#19ff00" stroke="#19ff00" d="M11 5h1v1h-1zM16 10h1v1h-1zM15 11h1v1h-1zM5 21h1v1h-1z"/><path fill="#22ff00" stroke="#22ff00" d="M16 0h1v1h-1zM13 3h1v1h-1zM12 4h1v1h-1zM21 5h1v1h-1zM8 9h1v1h-1zM17 9h1v1h-1zM7 10h1v1h-1zM6 11h1v1h-1zM5 12h1v1h-1zM4 13h1v1h-1zM3 14h1v1h-1zM2 15h1v1h-1zM1 16h1v1h-1zM0 17h1v1h-1z"/><path fill="#2cff00" stroke="#2cff00" d="M15 1h1v1h-1zM14 2h1v1h-1zM20 6h1v1h-1zM19 7h1v1h-1zM9 8h1v1h-1zM18 8h1v1h-1zM13 12h1v1h-1zM12 13h1v1h-1zM11 14h1v1h-1zM10 15h1v1h-1zM9 16h1v1h-1zM8 17h1v1h-1zM7 18h1v1h-1zM6 19h1v1h-1zM5 20h1v1h-1zM4 21h1v1h-1z"/><path fill="#36ff00" stroke="#36ff00" d="M10 7h1v1h-1zM14 11h1v1h-1z"/><path fill="#40ff00" stroke="#40ff00" d="M4 14h1v1h-1zM3 15h1v1h-1zM2 16h1v1h-1zM1 17h1v1h-1zM7 17h1v1h-1zM0 18h1v1h-1zM6 18h1v1h-1zM5 19h1v1h-1zM4 20h1v1h-1zM3 21h1v1h-1z"/><path fill="#4bff00" stroke="#4bff00" d="M11 6h1v1h-1zM8 10h1v1h-1zM15 10h1v1h-1zM7 11h1v1h-1zM6 12h1v1h-1zM5 13h1v1h-1zM11 13h1v1h-1zM10 14h1v1h-1zM9 15h1v1h-1zM8 16h1v1h-1z"/><path fill="#56ff00" stroke="#56ff00" d="M9 9h1v1h-1zM12 12h1v1h-1z"/><path fill="#6cff00" stroke="#6cff00" d="M12 5h1v1h-1zM10 8h1v1h-1zM16 9h1v1h-1zM13 11h1v1h-1z"/><path fill="#77ff00" stroke="#77ff00" d="M17 0h1v1h-1zM21 4h1v1h-1z"/><path fill="#8eff00" stroke="#8eff00" d="M13 4h1v1h-1zM17 8h1v1h-1z"/><path fill="#9bff00" stroke="#9bff00" d="M16 1h1v1h-1zM20 5h1v1h-1z"/><path fill="#a7ff00" stroke="#a7ff00" d="M15 2h1v1h-1zM14 3h1v1h-1zM11 7h1v1h-1zM18 7h1v1h-1zM14 10h1v1h-1zM6 13h1v1h-1zM5 14h1v1h-1zM4 15h1v1h-1zM8 15h1v1h-1zM3 16h1v1h-1zM7 16h1v1h-1zM2 17h1v1h-1zM6 17h1v1h-1zM1 18h1v1h-1zM5 18h1v1h-1zM4 19h1v1h-1zM3 20h1v1h-1z"/><path fill="#b3ff00" stroke="#b3ff00" d="M19 6h1v1h-1zM8 11h1v1h-1zM7 12h1v1h-1zM10 13h1v1h-1zM9 14h1v1h-1zM0 19h1v1h-1zM2 21h1v1h-1z"/><path fill="#caff00" stroke="#caff00" d="M9 10h1v1h-1zM11 12h1v1h-1z"/><path fill="#e0ff00" stroke="#e0ff00" d="M10 9h1v1h-1zM12 11h1v1h-1z"/><path fill="#ebff00" stroke="#ebff00" d="M6 14h1v1h-1zM5 15h1v1h-1zM4 16h1v1h-1z"/><path fill="#f6ff00" stroke="#f6ff00" d="M12 6h1v1h-1zM15 9h1v1h-1zM7 15h1v1h-1zM6 16h1v1h-1z"/><path fill="#fffc00" stroke="#fffc00" d="M3 17h1v1h-1zM5 17h1v1h-1z"/><path fill="#ffee00" stroke="#ffee00" d="M18 0h1v1h-1zM21 3h1v1h-1zM7 13h1v1h-1zM2 18h1v1h-1zM4 18h1v1h-1z"/><path fill="#ffe000" stroke="#ffe000" d="M8 14h1v1h-1zM1 19h1v1h-1zM0 20h1v1h-1z"/><path fill="#ffd200" stroke="#ffd200" d="M3 19h1v1h-1z"/><path fill="#ffc400" stroke="#ffc400" d="M11 8h1v1h-1zM13 10h1v1h-1zM2 20h1v1h-1zM1 21h1v1h-1z"/><path fill="#ffa800" stroke="#ffa800" d="M8 12h1v1h-1z"/><path fill="#ff9a00" stroke="#ff9a00" d="M9 13h1v1h-1z"/><path fill="#ff8c00" stroke="#ff8c00" d="M13 5h1v1h-1zM16 8h1v1h-1z"/><path fill="#ff7300" stroke="#ff7300" d="M17 1h1v1h-1zM20 4h1v1h-1z"/><path fill="#ff5c00" stroke="#ff5c00" d="M9 11h1v1h-1z"/><path fill="#ff5000" stroke="#ff5000" d="M10 12h1v1h-1z"/><path fill="#ff3900" stroke="#ff3900" d="M12 7h1v1h-1zM14 9h1v1h-1zM10 10h1v1h-1z"/><path fill="#ff2e00" stroke="#ff2e00" d="M14 4h1v1h-1zM17 7h1v1h-1zM11 11h1v1h-1z"/><path fill="#ff1700" stroke="#ff1700" d="M19 0h1v1h-1zM16 2h1v1h-1zM21 2h1v1h-1zM19 5h1v1h-1z"/><path fill="#ff0b00" stroke="#ff0b00" d="M11 9h1v1h-1z"/><path fill="#ff0000" stroke="#ff0000" d="M15 3h1v1h-1zM18 6h1v1h-1zM12 10h1v1h-1z"/><path fill="#a20000" stroke="#a20000" d="M12 8h1v1h-1z"/><path fill="#970000" stroke="#970000" d="M13 9h1v1h-1z"/><path fill="#8c0000" stroke="#8c0000" d="M20 0h2v1h-2zM18 1h4v1h-4zM17 2h4v1h-4zM16 3h5v1h-5zM15 4h5v1h-5zM14 5h5v1h-5zM13 6h5v1h-5zM13 7h4v1h-4zM13 8h3v1h-3zM12 9h1v1h-1zM11 10h1v1h-1zM10 11h1v1h-1zM9 12h1v1h-1zM8 13h1v1h-1zM7 14h1v1h-1zM6 15h1v1h-1zM5 16h1v1h-1zM4 17h1v1h-1zM3 18h1v1h-1zM2 19h1v1h-1zM1 20h1v1h-1zM0 21h1v1h-1z"/></g>
<g stroke-width=".14" transform="translate(351.5 151) scale(2.79545 2.77727)"><rect stroke="none" x="0.02" y="0.02" width="21.96" height="21.96" fill="#00c844"/><path fill="#00bfff" stroke="#00bfff" d="M0 0h2v1h-2zM21 15h1v1h-1zM21 16h1v1h-1zM21 17h1v1h-1zM21 18h1v1h-1zM21 19h1v1h-1zM21 20h1v1h-1z"/><path fill="#00d4ff" stroke="#00d4ff" d="M2 0h3v1h-3zM0 1h3v1h-3zM0 2h1v1h-1zM21 14h1v1h-1zM20 16h1v1h-1zM20 17h1v1h-1zM19 18h2v1h-2zM20 19h1v1h-1zM20 20h1v1h-1zM20 21h2v1h-2z"/><path fill="#00eaff" stroke="#00eaff" d="M5 0h2v1h-2zM3 1h3v1h-3zM1 2h3v1h-3zM0 3h2v1h-2zM21 11h1v1h-1zM21 12h1v1h-1zM21 13h1v1h-1zM20 14h1v1h-1zM20 15h1v1h-1zM19 16h1v1h-1zM19 17h1v1h-1zM18 19h2v1h-2zM18 20h2v1h-2zM19 21h1v1h-1z"/><path fill="#00ffff" stroke="#00ffff" d="M7 0h3v1h-3zM6 1h2v1h-2zM4 2h2v1h-2zM2 3h2v1h-2zM0 4h3v1h-3zM0 5h1v1h-1zM21 8h1v1h-1zM21 9h1v1h-1zM21 10h1v1h-1zM20 11h1v1h-1zM20 12h1v1h-1zM20 13h1v1h-1zM19 14h1v1h-1zM19 15h1v1h-1zM18 17h1v1h-1zM18 18h1v1h-1zM17 19h1v1h-1zM17 20h1v1h-1zM17 21h2v1h-2z"/><path fill="#00ffec" stroke="#00ffec" d="M10 0h1v1h-1zM8 1h1v1h-1zM6 2h2v1h-2zM4 3h2v1h-2zM3 4h1v1h-1zM1 5h2v1h-2zM0 6h1v1h-1zM21 6h1v1h-1zM21 7h1v1h-1zM20 9h1v1h-1zM20 10h1v1h-1zM19 12h1v1h-1zM19 13h1v1h-1zM18 14h1v1h-1zM18 15h1v1h-1zM18 16h1v1h-1zM17 17h1v1h-1zM17 18h1v1h-1zM16 20h1v1h-1zM16 21h1v1h-1z"/><path fill="#00ffda" stroke="#00ffda" d="M11 0h2v1h-2zM9 1h2v1h-2zM8 2h1v1h-1zM6 3h2v1h-2zM4 4h2v1h-2zM3 5h1v1h-1zM21 5h1v1h-1zM1 6h2v1h-2zM0 7h1v1h-1zM20 7h1v1h-1zM20 8h1v1h-1zM19 10h1v1h-1zM19 11h1v1h-1zM18 12h1v1h-1zM18 13h1v1h-1zM17 15h1v1h-1zM17 16h1v1h-1zM16 17h1v1h-1zM16 18h1v1h-1zM16 19h1v1h-1zM15 20h1v1h-1zM15 21h1v1h-1z"/><path fill="#00ffc7" stroke="#00ffc7" d="M13 0h1v1h-1zM11 1h2v1h-2zM9 2h2v1h-2zM8 3h1v1h-1zM6 4h1v1h-1zM4 5h2v1h-2zM3 6h1v1h-1zM20 6h1v1h-1zM1 7h1v1h-1zM0 8h1v1h-1zM19 8h1v1h-1zM19 9h1v1h-1zM18 10h1v1h-1zM18 11h1v1h-1zM17 13h1v1h-1zM17 14h1v1h-1zM16 15h1v1h-1zM16 16h1v1h-1zM15 18h1v1h-1zM15 19h1v1h-1zM14 20h1v1h-1zM14 21h1v1h-1z"/><path fill="#00ffb5" stroke="#00ffb5" d="M14 0h1v1h-1zM13 1h1v1h-1zM11 2h1v1h-1zM9 3h1v1h-1zM7 4h1v1h-1zM21 4h1v1h-1zM6 5h1v1h-1zM4 6h1v1h-1zM2 7h2v1h-2zM19 7h1v1h-1zM1 8h1v1h-1zM18 8h1v1h-1zM0 9h1v1h-1zM18 9h1v1h-1zM17 11h1v1h-1zM17 12h1v1h-1zM16 13h1v1h-1zM16 14h1v1h-1zM15 16h1v1h-1zM15 17h1v1h-1zM14 18h1v1h-1zM14 19h1v1h-1zM13 21h1v1h-1z"/><path fill="#00ffa2" stroke="#00ffa2" d="M15 0h1v1h-1zM14 1h1v1h-1zM12 2h1v1h-1zM10 3h1v1h-1zM8 4h2v1h-2zM7 5h1v1h-1zM20 5h1v1h-1zM5 6h1v1h-1zM4 7h1v1h-1zM2 8h1v1h-1zM1 9h1v1h-1zM17 9h1v1h-1zM17 10h1v1h-1zM16 11h1v1h-1zM16 12h1v1h-1zM15 14h1v1h-1zM15 15h1v1h-1zM14 16h1v1h-1zM14 17h1v1h-1zM13 19h1v1h-1zM13 20h1v1h-1zM12 21h1v1h-1z"/><path fill="#00ff8e" stroke="#00ff8e" d="M16 0h1v1h-1zM15 1h1v1h-1zM13 2h1v1h-1zM11 3h1v1h-1zM10 4h1v1h-1zM8 5h1v1h-1zM6 6h2v1h-2zM19 6h1v1h-1zM5 7h1v1h-1zM18 7h1v1h-1zM3 8h1v1h-1zM2 9h1v1h-1zM0 10h1v1h-1zM16 10h1v1h-1zM15 12h1v1h-1zM15 13h1v1h-1zM14 14h1v1h-1zM14 15h1v1h-1zM13 17h1v1h-1zM13 18h1v1h-1zM12 19h1v1h-1zM12 20h1v1h-1z"/><path fill="#00ff7a" stroke="#00ff7a" d="M14 2h1v1h-1zM12 3h1v1h-1zM11 4h1v1h-1zM20 4h1v1h-1zM9 5h1v1h-1zM8 6h1v1h-1zM6 7h1v1h-1zM4 8h1v1h-1zM17 8h1v1h-1zM3 9h1v1h-1zM1 10h1v1h-1zM0 11h1v1h-1zM15 11h1v1h-1zM14 13h1v1h-1zM13 15h1v1h-1zM13 16h1v1h-1zM12 17h1v1h-1zM12 18h1v1h-1zM11 20h1v1h-1zM11 21h1v1h-1z"/><path fill="#00ff66" stroke="#00ff66" d="M17 0h1v1h-1zM13 3h1v1h-1zM21 3h1v1h-1zM12 4h1v1h-1zM10 5h1v1h-1zM19 5h1v1h-1zM9 6h1v1h-1zM18 6h1v1h-1zM7 7h1v1h-1zM5 8h1v1h-1zM4 9h1v1h-1zM16 9h1v1h-1zM2 10h1v1h-1zM15 10h1v1h-1zM1 11h1v1h-1zM14 12h1v1h-1zM13 13h1v1h-1zM13 14h1v1h-1zM12 16h1v1h-1zM11 18h1v1h-1zM11 19h1v1h-1zM10 20h1v1h-1zM10 21h1v1h-1z"/><path fill="#00ff52" stroke="#00ff52" d="M16 1h1v1h-1zM15 2h1v1h-1zM11 5h1v1h-1zM10 6h1v1h-1zM8 7h1v1h-1zM17 7h1v1h-1zM6 8h1v1h-1zM5 9h1v1h-1zM3 10h1v1h-1zM2 11h1v1h-1zM14 11h1v1h-1zM0 12h1v1h-1zM12 14h1v1h-1zM12 15h1v1h-1zM11 16h1v1h-1zM11 17h1v1h-1zM10 19h1v1h-1zM9 21h1v1h-1z"/><path fill="#00ff3d" stroke="#00ff3d" d="M14 3h1v1h-1zM13 4h1v1h-1zM9 7h1v1h-1zM7 8h1v1h-1zM16 8h1v1h-1zM6 9h1v1h-1zM15 9h1v1h-1zM4 10h1v1h-1zM3 11h1v1h-1zM1 12h1v1h-1zM13 12h1v1h-1zM11 15h1v1h-1zM10 17h1v1h-1zM10 18h1v1h-1zM9 19h1v1h-1zM9 20h1v1h-1z"/><path fill="#00ff28" stroke="#00ff28" d="M18 0h1v1h-1zM17 1h1v1h-1zM12 5h1v1h-1zM11 6h1v1h-1zM8 8h1v1h-1zM7 9h1v1h-1zM5 10h1v1h-1zM14 10h1v1h-1zM4 11h1v1h-1zM13 11h1v1h-1zM2 12h1v1h-1zM0 13h1v1h-1zM12 13h1v1h-1zM11 14h1v1h-1zM10 16h1v1h-1zM9 18h1v1h-1zM8 20h1v1h-1zM8 21h1v1h-1z"/><path fill="#00ff14" stroke="#00ff14" d="M16 2h1v1h-1zM15 3h1v1h-1zM14 4h1v1h-1zM10 7h1v1h-1zM9 8h1v1h-1zM6 10h1v1h-1zM5 11h1v1h-1zM3 12h1v1h-1zM12 12h1v1h-1zM1 13h1v1h-1zM0 14h1v1h-1zM10 15h1v1h-1zM9 17h1v1h-1zM8 18h1v1h-1zM8 19h1v1h-1zM7 21h1v1h-1z"/><path fill="#00ff00" stroke="#00ff00" d="M13 5h1v1h-1zM12 6h1v1h-1zM8 9h1v1h-1zM4 12h1v1h-1zM2 13h1v1h-1zM11 13h1v1h-1zM1 14h1v1h-1zM10 14h1v1h-1zM9 16h1v1h-1zM8 17h1v1h-1zM7 19h1v1h-1zM7 20h1v1h-1zM6 21h1v1h-1z"/><path fill="#04ff00" stroke="#04ff00" d="M11 7h1v1h-1zM10 8h1v1h-1zM7 10h1v1h-1zM6 11h1v1h-1zM3 13h1v1h-1zM2 14h1v1h-1zM0 15h1v1h-1zM9 15h1v1h-1zM8 16h1v1h-1zM7 18h1v1h-1zM6 20h1v1h-1z"/><path fill="#07ff00" stroke="#07ff00" d="M9 9h1v1h-1zM8 10h1v1h-1zM5 12h1v1h-1zM4 13h1v1h-1zM1 15h1v1h-1zM0 16h1v1h-1zM7 17h1v1h-1zM6 19h1v1h-1zM5 20h1v1h-1zM5 21h1v1h-1z"/><path fill="#0bff00" stroke="#0bff00" d="M7 11h1v1h-1zM6 12h1v1h-1zM3 14h1v1h-1zM2 15h1v1h-1zM6 18h1v1h-1zM5 19h1v1h-1zM4 21h1v1h-1z"/><path fill="#0eff00" stroke="#0eff00" d="M19 4h1v1h-1zM18 5h1v1h-1zM5 13h1v1h-1zM4 14h1v1h-1zM1 16h1v1h-1zM0 17h1v1h-1zM4 20h1v1h-1zM3 21h1v1h-1z"/><path fill="#12ff00" stroke="#12ff00" d="M17 6h1v1h-1zM16 7h1v1h-1zM15 8h1v1h-1zM14 9h1v1h-1zM13 10h1v1h-1zM3 15h1v1h-1zM2 16h1v1h-1z"/><path fill="#15ff00" stroke="#15ff00" d="M17 2h1v1h-1zM12 11h1v1h-1zM11 12h1v1h-1zM10 13h1v1h-1zM9 14h1v1h-1zM1 17h1v1h-1zM0 18h1v1h-1z"/><path fill="#19ff00" stroke="#19ff00" d="M16 3h1v1h-1zM20 3h1v1h-1zM15 4h1v1h-1zM14 5h1v1h-1zM13 6h1v1h-1zM8 15h1v1h-1zM7 16h1v1h-1zM6 17h1v1h-1zM5 18h1v1h-1z"/><path fill="#22ff00" stroke="#22ff00" d="M12 7h1v1h-1zM11 8h1v1h-1zM10 9h1v1h-1zM9 10h1v1h-1zM4 19h1v1h-1zM3 20h1v1h-1zM2 21h1v1h-1z"/><path fill="#2cff00" stroke="#2cff00" d="M18 1h1v1h-1zM8 11h1v1h-1zM7 12h1v1h-1zM6 13h1v1h-1zM5 14h1v1h-1z"/><path fill="#36ff00" stroke="#36ff00" d="M4 15h1v1h-1zM3 16h1v1h-1zM2 17h1v1h-1z"/><path fill="#40ff00" stroke="#40ff00" d="M1 18h1v1h-1zM0 19h1v1h-1z"/><path fill="#4bff00" stroke="#4bff00" d="M21 2h1v1h-1z"/><path fill="#61ff00" stroke="#61ff00" d="M19 0h1v1h-1z"/><path fill="#82ff00" stroke="#82ff00" d="M4 18h1v1h-1zM3 19h1v1h-1zM2 20h1v1h-1zM1 21h1v1h-1z"/><path fill="#8eff00" stroke="#8eff00" d="M9 13h1v1h-1zM8 14h1v1h-1zM7 15h1v1h-1zM6 16h1v1h-1zM5 17h1v1h-1z"/><path fill="#9bff00" stroke="#9bff00" d="M12 10h1v1h-1zM11 11h1v1h-1zM8 12h1v1h-1zM10 12h1v1h-1zM7 13h1v1h-1zM6 14h1v1h-1zM5 15h1v1h-1zM4 16h1v1h-1zM3 17h1v1h-1zM2 18h1v1h-1zM1 19h1v1h-1zM0 20h1v1h-1z"/><path fill="#a7ff00" stroke="#a7ff00" d="M11 9h1v1h-1zM13 9h1v1h-1zM10 10h1v1h-1zM9 11h1v1h-1z"/><path fill="#b3ff00" stroke="#b3ff00" d="M12 8h1v1h-1z"/><path fill="#bfff00" stroke="#bfff00" d="M13 7h1v1h-1zM14 8h1v1h-1z"/><path fill="#caff00" stroke="#caff00" d="M15 7h1v1h-1z"/><path fill="#d5ff00" stroke="#d5ff00" d="M17 3h1v1h-1zM18 4h1v1h-1zM14 6h1v1h-1z"/><path fill="#e0ff00" stroke="#e0ff00" d="M16 4h1v1h-1zM15 5h1v1h-1zM17 5h1v1h-1zM16 6h1v1h-1z"/><path fill="#f6ff00" stroke="#f6ff00" d="M18 2h1v1h-1zM19 3h1v1h-1z"/><path fill="#ff3900" stroke="#ff3900" d="M19 1h1v1h-1zM20 2h1v1h-1z"/><path fill="#f40000" stroke="#f40000" d="M20 0h1v1h-1zM21 1h1v1h-1z"/><path fill="#8c0000" stroke="#8c0000" d="M21 0h1v1h-1zM20 1h1v1h-1zM19 2h1v1h-1zM18 3h1v1h-1zM17 4h1v1h-1zM16 5h1v1h-1zM15 6h1v1h-1zM14 7h1v1h-1zM13 8h1v1h-1zM12 9h1v1h-1zM11 10h1v1h-1zM10 11h1v1h-1zM9 12h1v1h-1zM8 13h1v1h-1zM7 14h1v1h-1zM6 15h1v1h-1zM5 16h1v1h-1zM4 17h1v1h-1zM3 18h1v1h-1zM2 19h1v1h-1zM1 20h1v1h-1zM0 21h1v1h-1z"/></g>
<g stroke-width=".14" transform="translate(419 151) scale(2.79545 2.77727)"><rect stroke="none" x="0.02" y="0.02" width="21.96" height="21.96" fill="#00c1d2"/><path fill="#0016ff" stroke="#0016ff" d="M0 0h3v1h-3z"/><path fill="#0026ff" stroke="#0026ff" d="M3 0h3v1h-3zM0 1h4v1h-4zM0 2h1v1h-1zM21 15h1v1h-1zM21 16h1v1h-1zM21 17h1v1h-1zM21 18h1v1h-1zM20 19h2v1h-2zM20 20h2v1h-2zM20 21h2v1h-2z"/><path fill="#0036ff" stroke="#0036ff" d="M6 0h2v1h-2zM4 1h2v1h-2zM1 2h3v1h-3zM0 3h2v1h-2zM21 14h1v1h-1zM20 16h1v1h-1zM19 17h2v1h-2zM19 18h2v1h-2zM19 19h1v1h-1zM18 20h2v1h-2zM18 21h2v1h-2z"/><path fill="#0046ff" stroke="#0046ff" d="M8 0h2v1h-2zM6 1h2v1h-2zM4 2h2v1h-2zM2 3h2v1h-2zM0 4h2v1h-2zM21 12h1v1h-1zM21 13h1v1h-1zM20 14h1v1h-1zM20 15h1v1h-1zM19 16h1v1h-1zM18 17h1v1h-1zM18 18h1v1h-1zM17 19h2v1h-2zM17 20h1v1h-1zM16 21h2v1h-2z"/><path fill="#0056ff" stroke="#0056ff" d="M10 0h1v1h-1zM8 1h1v1h-1zM6 2h1v1h-1zM4 3h1v1h-1zM2 4h1v1h-1zM0 5h1v1h-1zM21 11h1v1h-1zM20 13h1v1h-1zM19 14h1v1h-1zM19 15h1v1h-1zM18 16h1v1h-1zM17 18h1v1h-1zM16 19h1v1h-1zM16 20h1v1h-1zM15 21h1v1h-1z"/><path fill="#0066ff" stroke="#0066ff" d="M11 0h1v1h-1zM9 1h2v1h-2zM7 2h2v1h-2zM5 3h2v1h-2zM3 4h2v1h-2zM1 5h2v1h-2zM0 6h1v1h-1zM20 12h1v1h-1zM19 13h1v1h-1zM18 15h1v1h-1zM17 16h1v1h-1zM17 17h1v1h-1zM16 18h1v1h-1zM15 19h1v1h-1zM15 20h1v1h-1zM14 21h1v1h-1z"/><path fill="#0076ff" stroke="#0076ff" d="M12 0h2v1h-2zM11 1h1v1h-1zM9 2h1v1h-1zM7 3h1v1h-1zM5 4h1v1h-1zM3 5h1v1h-1zM1 6h2v1h-2zM0 7h1v1h-1zM21 10h1v1h-1zM20 11h1v1h-1zM19 12h1v1h-1zM18 14h1v1h-1zM17 15h1v1h-1zM16 17h1v1h-1zM15 18h1v1h-1zM14 20h1v1h-1zM13 21h1v1h-1z"/><path fill="#0086ff" stroke="#0086ff" d="M12 1h1v1h-1zM10 2h2v1h-2zM8 3h2v1h-2zM6 4h2v1h-2zM4 5h2v1h-2zM3 6h1v1h-1zM1 7h1v1h-1zM21 9h1v1h-1zM20 10h1v1h-1zM18 13h1v1h-1zM17 14h1v1h-1zM16 16h1v1h-1zM15 17h1v1h-1zM14 19h1v1h-1zM13 20h1v1h-1z"/><path fill="#0096ff" stroke="#0096ff" d="M14 0h1v1h-1zM13 1h1v1h-1zM10 3h1v1h-1zM8 4h2v1h-2zM6 5h2v1h-2zM4 6h1v1h-1zM2 7h1v1h-1zM0 8h1v1h-1zM21 8h1v1h-1zM20 9h1v1h-1zM19 11h1v1h-1zM18 12h1v1h-1zM17 13h1v1h-1zM16 15h1v1h-1zM15 16h1v1h-1zM14 18h1v1h-1zM13 19h1v1h-1zM12 21h1v1h-1z"/><path fill="#00aaff" stroke="#00aaff" d="M15 0h1v1h-1zM14 1h1v1h-1zM12 2h1v1h-1zM11 3h1v1h-1zM10 4h1v1h-1zM8 5h1v1h-1zM5 6h2v1h-2zM3 7h2v1h-2zM21 7h1v1h-1zM1 8h2v1h-2zM0 9h1v1h-1zM19 10h1v1h-1zM18 11h1v1h-1zM17 12h1v1h-1zM16 14h1v1h-1zM15 15h1v1h-1zM14 17h1v1h-1zM13 18h1v1h-1zM12 20h1v1h-1zM11 21h1v1h-1z"/><path fill="#00bfff" stroke="#00bfff" d="M16 0h1v1h-1zM15 1h1v1h-1zM13 2h1v1h-1zM12 3h1v1h-1zM9 5h1v1h-1zM7 6h2v1h-2zM5 7h2v1h-2zM3 8h2v1h-2zM20 8h1v1h-1zM1 9h2v1h-2zM19 9h1v1h-1zM18 10h1v1h-1zM16 13h1v1h-1zM15 14h1v1h-1zM14 16h1v1h-1zM13 17h1v1h-1zM12 19h1v1h-1zM11 20h1v1h-1z"/><path fill="#00d4ff" stroke="#00d4ff" d="M14 2h1v1h-1zM13 3h1v1h-1zM11 4h1v1h-1zM10 5h1v1h-1zM9 6h1v1h-1zM21 6h1v1h-1zM7 7h1v1h-1zM20 7h1v1h-1zM5 8h2v1h-2zM19 8h1v1h-1zM3 9h2v1h-2zM0 10h3v1h-3zM17 11h1v1h-1zM16 12h1v1h-1zM15 13h1v1h-1zM14 15h1v1h-1zM13 16h1v1h-1zM12 17h1v1h-1zM12 18h1v1h-1zM11 19h1v1h-1zM10 20h1v1h-1zM10 21h1v1h-1z"/><path fill="#00eaff" stroke="#00eaff" d="M12 4h1v1h-1zM11 5h1v1h-1zM21 5h1v1h-1zM10 6h1v1h-1zM20 6h1v1h-1zM8 7h1v1h-1zM7 8h1v1h-1zM5 9h1v1h-1zM18 9h1v1h-1zM3 10h2v1h-2zM17 10h1v1h-1zM0 11h3v1h-3zM16 11h1v1h-1zM14 14h1v1h-1zM13 15h1v1h-1zM11 18h1v1h-1zM10 19h1v1h-1zM9 21h1v1h-1z"/><path fill="#00ffff" stroke="#00ffff" d="M17 0h1v1h-1zM16 1h1v1h-1zM15 2h1v1h-1zM14 3h1v1h-1zM21 4h1v1h-1zM9 7h1v1h-1zM19 7h1v1h-1zM8 8h1v1h-1zM18 8h1v1h-1zM6 9h2v1h-2zM17 9h1v1h-1zM5 10h1v1h-1zM16 10h1v1h-1zM3 11h2v1h-2zM0 12h3v1h-3zM15 12h1v1h-1zM0 13h1v1h-1zM14 13h1v1h-1zM13 14h1v1h-1zM12 16h1v1h-1zM11 17h1v1h-1zM10 18h1v1h-1zM9 20h1v1h-1zM8 21h1v1h-1z"/><path fill="#00ffec" stroke="#00ffec" d="M13 4h1v1h-1zM12 5h1v1h-1zM20 5h1v1h-1zM11 6h1v1h-1zM19 6h1v1h-1zM10 7h1v1h-1zM18 7h1v1h-1zM17 8h1v1h-1zM6 10h1v1h-1zM5 11h1v1h-1zM15 11h1v1h-1zM3 12h2v1h-2zM14 12h1v1h-1zM1 13h2v1h-2zM13 13h1v1h-1zM0 14h1v1h-1zM12 15h1v1h-1zM11 16h1v1h-1zM10 17h1v1h-1zM9 19h1v1h-1zM8 20h1v1h-1zM7 21h1v1h-1z"/><path fill="#00ffda" stroke="#00ffda" d="M18 0h1v1h-1zM17 1h1v1h-1zM16 2h1v1h-1zM21 3h1v1h-1zM20 4h1v1h-1zM9 8h1v1h-1zM8 9h1v1h-1zM16 9h1v1h-1zM7 10h1v1h-1zM15 10h1v1h-1zM14 11h1v1h-1zM3 13h1v1h-1zM1 14h2v1h-2zM12 14h1v1h-1zM0 15h1v1h-1zM11 15h1v1h-1zM10 16h1v1h-1zM9 18h1v1h-1zM8 19h1v1h-1zM7 20h1v1h-1z"/><path fill="#00ffc7" stroke="#00ffc7" d="M15 3h1v1h-1zM14 4h1v1h-1zM13 5h1v1h-1zM19 5h1v1h-1zM12 6h1v1h-1zM18 6h1v1h-1zM11 7h1v1h-1zM17 7h1v1h-1zM6 11h1v1h-1zM5 12h1v1h-1zM13 12h1v1h-1zM4 13h1v1h-1zM12 13h1v1h-1zM3 14h1v1h-1zM11 14h1v1h-1zM1 15h1v1h-1zM10 15h1v1h-1zM0 16h1v1h-1zM9 17h1v1h-1zM8 18h1v1h-1zM7 19h1v1h-1zM6 20h1v1h-1zM6 21h1v1h-1z"/><path fill="#00ffb5" stroke="#00ffb5" d="M10 8h1v1h-1zM16 8h1v1h-1zM9 9h1v1h-1zM15 9h1v1h-1zM8 10h1v1h-1zM14 10h1v1h-1zM7 11h1v1h-1zM13 11h1v1h-1zM6 12h1v1h-1zM2 15h1v1h-1zM1 16h1v1h-1zM9 16h1v1h-1zM0 17h1v1h-1zM8 17h1v1h-1zM7 18h1v1h-1zM6 19h1v1h-1zM5 21h1v1h-1z"/><path fill="#00ffa2" stroke="#00ffa2" d="M12 12h1v1h-1zM5 13h1v1h-1zM11 13h1v1h-1zM4 14h1v1h-1zM10 14h1v1h-1zM3 15h1v1h-1zM2 16h1v1h-1zM5 20h1v1h-1zM4 21h1v1h-1z"/><path fill="#00ff8e" stroke="#00ff8e" d="M19 0h1v1h-1zM18 1h1v1h-1zM17 2h1v1h-1zM21 2h1v1h-1zM20 3h1v1h-1zM19 4h1v1h-1zM9 15h1v1h-1zM8 16h1v1h-1zM1 17h1v1h-1zM7 17h1v1h-1zM0 18h1v1h-1z"/><path fill="#00ff7a" stroke="#00ff7a" d="M16 3h1v1h-1zM15 4h1v1h-1zM14 5h1v1h-1zM18 5h1v1h-1zM13 6h1v1h-1zM17 6h1v1h-1zM16 7h1v1h-1zM15 8h1v1h-1zM6 18h1v1h-1zM5 19h1v1h-1zM4 20h1v1h-1z"/><path fill="#00ff66" stroke="#00ff66" d="M12 7h1v1h-1zM11 8h1v1h-1zM10 9h1v1h-1zM14 9h1v1h-1zM9 10h1v1h-1zM13 10h1v1h-1zM12 11h1v1h-1zM11 12h1v1h-1zM3 21h1v1h-1z"/><path fill="#00ff52" stroke="#00ff52" d="M8 11h1v1h-1zM7 12h1v1h-1zM6 13h1v1h-1zM10 13h1v1h-1zM5 14h1v1h-1zM9 14h1v1h-1zM8 15h1v1h-1zM7 16h1v1h-1z"/><path fill="#00ff3d" stroke="#00ff3d" d="M4 15h1v1h-1zM3 16h1v1h-1zM2 17h1v1h-1zM6 17h1v1h-1zM1 18h1v1h-1zM5 18h1v1h-1zM4 19h1v1h-1zM3 20h1v1h-1z"/><path fill="#00ff28" stroke="#00ff28" d="M0 19h1v1h-1zM2 21h1v1h-1z"/><path fill="#04ff00" stroke="#04ff00" d="M20 0h1v1h-1zM21 1h1v1h-1z"/><path fill="#07ff00" stroke="#07ff00" d="M19 1h1v1h-1zM18 2h1v1h-1zM20 2h1v1h-1zM17 3h1v1h-1zM19 3h1v1h-1zM18 4h1v1h-1z"/><path fill="#0bff00" stroke="#0bff00" d="M16 4h1v1h-1zM15 5h1v1h-1zM17 5h1v1h-1zM14 6h1v1h-1zM16 6h1v1h-1zM13 7h1v1h-1zM15 7h1v1h-1zM14 8h1v1h-1z"/><path fill="#0eff00" stroke="#0eff00" d="M12 8h1v1h-1zM11 9h1v1h-1zM13 9h1v1h-1zM10 10h1v1h-1zM12 10h1v1h-1zM11 11h1v1h-1z"/><path fill="#12ff00" stroke="#12ff00" d="M9 11h1v1h-1zM8 12h1v1h-1zM10 12h1v1h-1zM7 13h1v1h-1zM9 13h1v1h-1zM6 14h1v1h-1zM8 14h1v1h-1zM7 15h1v1h-1z"/><path fill="#15ff00" stroke="#15ff00" d="M5 15h1v1h-1zM4 16h1v1h-1zM6 16h1v1h-1zM3 17h1v1h-1zM5 17h1v1h-1zM4 18h1v1h-1z"/><path fill="#19ff00" stroke="#19ff00" d="M2 18h1v1h-1zM1 19h1v1h-1zM3 19h1v1h-1zM0 20h1v1h-1zM2 20h1v1h-1zM1 21h1v1h-1z"/><path fill="#8c0000" stroke="#8c0000" d="M21 0h1v1h-1zM20 1h1v1h-1zM19 2h1v1h-1zM18 3h1v1h-1zM17 4h1v1h-1zM16 5h1v1h-1zM15 6h1v1h-1zM14 7h1v1h-1zM13 8h1v1h-1zM12 9h1v1h-1zM11 10h1v1h-1zM10 11h1v1h-1zM9 12h1v1h-1zM8 13h1v1h-1zM7 14h1v1h-1zM6 15h1v1h-1zM5 16h1v1h-1zM4 17h1v1h-1zM3 18h1v1h-1zM2 19h1v1h-1zM1 20h1v1h-1zM0 21h1v1h-1z"/></g>
<g stroke-width=".14" transform="translate(486.6 151) scale(2.79545 2.77727)"><rect stroke="none" x="0.02" y="0.02" width="21.96" height="21.96" fill="#00b5d2"/><path fill="#0026ff" stroke="#0026ff" d="M0 0h1v1h-1z"/><path fill="#0036ff" stroke="#0036ff" d="M1 0h3v1h-3zM0 1h3v1h-3zM0 2h1v1h-1zM21 21h1v1h-1z"/><path fill="#0046ff" stroke="#0046ff" d="M4 0h4v1h-4zM3 1h3v1h-3zM1 2h3v1h-3zM0 3h3v1h-3zM0 4h1v1h-1zM21 17h1v1h-1zM20 18h2v1h-2zM20 19h2v1h-2zM19 20h3v1h-3zM19 21h2v1h-2z"/><path fill="#0056ff" stroke="#0056ff" d="M8 0h2v1h-2zM6 1h3v1h-3zM4 2h3v1h-3zM3 3h2v1h-2zM1 4h2v1h-2zM0 5h1v1h-1zM21 12h1v1h-1zM21 13h1v1h-1zM20 14h2v1h-2zM20 15h2v1h-2zM19 16h3v1h-3zM19 17h2v1h-2zM18 18h2v1h-2zM18 19h2v1h-2zM17 20h2v1h-2zM16 21h3v1h-3z"/><path fill="#0066ff" stroke="#0066ff" d="M10 0h2v1h-2zM9 1h1v1h-1zM7 2h2v1h-2zM5 3h2v1h-2zM3 4h2v1h-2zM1 5h2v1h-2zM0 6h2v1h-2zM21 11h1v1h-1zM20 12h1v1h-1zM20 13h1v1h-1zM19 14h1v1h-1zM18 15h2v1h-2zM18 16h1v1h-1zM17 17h2v1h-2zM16 18h2v1h-2zM16 19h2v1h-2zM15 20h2v1h-2zM14 21h2v1h-2z"/><path fill="#0076ff" stroke="#0076ff" d="M12 0h1v1h-1zM10 1h2v1h-2zM9 2h1v1h-1zM7 3h1v1h-1zM5 4h2v1h-2zM3 5h2v1h-2zM2 6h2v1h-2zM0 7h2v1h-2zM21 9h1v1h-1zM21 10h1v1h-1zM20 11h1v1h-1zM19 12h1v1h-1zM19 13h1v1h-1zM18 14h1v1h-1zM17 15h1v1h-1zM17 16h1v1h-1zM16 17h1v1h-1zM15 18h1v1h-1zM15 19h1v1h-1zM14 20h1v1h-1zM13 21h1v1h-1z"/><path fill="#0086ff" stroke="#0086ff" d="M13 0h1v1h-1zM12 1h1v1h-1zM10 2h1v1h-1zM8 3h2v1h-2zM7 4h1v1h-1zM5 5h2v1h-2zM4 6h1v1h-1zM2 7h1v1h-1zM0 8h2v1h-2zM21 8h1v1h-1zM20 9h1v1h-1zM19 10h2v1h-2zM19 11h1v1h-1zM18 12h1v1h-1zM18 13h1v1h-1zM17 14h1v1h-1zM16 15h1v1h-1zM16 16h1v1h-1zM15 17h1v1h-1zM14 18h1v1h-1zM14 19h1v1h-1zM13 20h1v1h-1zM12 21h1v1h-1z"/><path fill="#0096ff" stroke="#0096ff" d="M14 0h1v1h-1zM13 1h1v1h-1zM11 2h1v1h-1zM10 3h1v1h-1zM8 4h2v1h-2zM7 5h1v1h-1zM5 6h1v1h-1zM3 7h2v1h-2zM21 7h1v1h-1zM2 8h1v1h-1zM20 8h1v1h-1zM0 9h2v1h-2zM19 9h1v1h-1zM18 11h1v1h-1zM17 12h1v1h-1zM17 13h1v1h-1zM16 14h1v1h-1zM15 15h1v1h-1zM15 16h1v1h-1zM14 17h1v1h-1zM13 18h1v1h-1zM13 19h1v1h-1zM12 20h1v1h-1zM11 21h1v1h-1z"/><path fill="#00aaff" stroke="#00aaff" d="M15 0h1v1h-1zM14 1h1v1h-1zM12 2h1v1h-1zM11 3h1v1h-1zM10 4h1v1h-1zM8 5h1v1h-1zM6 6h2v1h-2zM21 6h1v1h-1zM5 7h1v1h-1zM20 7h1v1h-1zM3 8h2v1h-2zM19 8h1v1h-1zM2 9h1v1h-1zM0 10h2v1h-2zM18 10h1v1h-1zM17 11h1v1h-1zM16 12h1v1h-1zM16 13h1v1h-1zM15 14h1v1h-1zM14 15h1v1h-1zM14 16h1v1h-1zM13 17h1v1h-1zM12 18h1v1h-1zM12 19h1v1h-1zM11 20h1v1h-1zM10 21h1v1h-1z"/><path fill="#00bfff" stroke="#00bfff" d="M16 0h1v1h-1zM15 1h1v1h-1zM13 2h1v1h-1zM12 3h1v1h-1zM11 4h1v1h-1zM9 5h1v1h-1zM21 5h1v1h-1zM8 6h1v1h-1zM20 6h1v1h-1zM6 7h2v1h-2zM19 7h1v1h-1zM5 8h1v1h-1zM3 9h2v1h-2zM18 9h1v1h-1zM2 10h1v1h-1zM17 10h1v1h-1zM0 11h1v1h-1zM16 11h1v1h-1zM15 13h1v1h-1zM14 14h1v1h-1zM13 15h1v1h-1zM13 16h1v1h-1zM12 17h1v1h-1zM11 18h1v1h-1zM11 19h1v1h-1zM10 20h1v1h-1zM9 21h1v1h-1z"/><path fill="#00d4ff" stroke="#00d4ff" d="M14 2h1v1h-1zM13 3h1v1h-1zM12 4h1v1h-1zM21 4h1v1h-1zM10 5h1v1h-1zM9 6h1v1h-1zM8 7h1v1h-1zM6 8h1v1h-1zM18 8h1v1h-1zM5 9h1v1h-1zM17 9h1v1h-1zM3 10h1v1h-1zM16 10h1v1h-1zM1 11h2v1h-2zM0 12h1v1h-1zM15 12h1v1h-1zM14 13h1v1h-1zM13 14h1v1h-1zM12 16h1v1h-1zM11 17h1v1h-1zM10 18h1v1h-1zM10 19h1v1h-1zM9 20h1v1h-1zM8 21h1v1h-1z"/><path fill="#00eaff" stroke="#00eaff" d="M17 0h1v1h-1zM16 1h1v1h-1zM15 2h1v1h-1zM11 5h1v1h-1zM20 5h1v1h-1zM10 6h1v1h-1zM19 6h1v1h-1zM9 7h1v1h-1zM18 7h1v1h-1zM7 8h1v1h-1zM17 8h1v1h-1zM6 9h1v1h-1zM4 10h2v1h-2zM3 11h1v1h-1zM15 11h1v1h-1zM1 12h2v1h-2zM14 12h1v1h-1zM0 13h1v1h-1zM13 13h1v1h-1zM12 15h1v1h-1zM11 16h1v1h-1zM10 17h1v1h-1zM9 19h1v1h-1zM8 20h1v1h-1z"/><path fill="#00ffff" stroke="#00ffff" d="M18 0h1v1h-1zM14 3h1v1h-1zM21 3h1v1h-1zM13 4h1v1h-1zM20 4h1v1h-1zM12 5h1v1h-1zM11 6h1v1h-1zM8 8h1v1h-1zM7 9h1v1h-1zM16 9h1v1h-1zM6 10h1v1h-1zM15 10h1v1h-1zM4 11h2v1h-2zM14 11h1v1h-1zM3 12h1v1h-1zM13 12h1v1h-1zM1 13h2v1h-2zM0 14h1v1h-1zM12 14h1v1h-1zM11 15h1v1h-1zM10 16h1v1h-1zM9 17h1v1h-1zM9 18h1v1h-1zM8 19h1v1h-1zM7 20h1v1h-1zM7 21h1v1h-1z"/><path fill="#00ffec" stroke="#00ffec" d="M17 1h1v1h-1zM16 2h1v1h-1zM15 3h1v1h-1zM14 4h1v1h-1zM19 5h1v1h-1zM18 6h1v1h-1zM10 7h1v1h-1zM17 7h1v1h-1zM9 8h1v1h-1zM8 9h1v1h-1zM7 10h1v1h-1zM4 12h1v1h-1zM3 13h1v1h-1zM12 13h1v1h-1zM1 14h2v1h-2zM11 14h1v1h-1zM0 15h1v1h-1zM10 15h1v1h-1zM8 18h1v1h-1zM7 19h1v1h-1zM6 20h1v1h-1zM6 21h1v1h-1z"/><path fill="#00ffda" stroke="#00ffda" d="M13 5h1v1h-1zM12 6h1v1h-1zM11 7h1v1h-1zM10 8h1v1h-1zM16 8h1v1h-1zM9 9h1v1h-1zM15 9h1v1h-1zM14 10h1v1h-1zM6 11h1v1h-1zM5 12h1v1h-1zM4 13h1v1h-1zM3 14h1v1h-1zM1 15h1v1h-1zM0 16h1v1h-1zM9 16h1v1h-1zM8 17h1v1h-1zM7 18h1v1h-1zM6 19h1v1h-1zM5 21h1v1h-1z"/><path fill="#00ffc7" stroke="#00ffc7" d="M21 2h1v1h-1zM20 3h1v1h-1zM19 4h1v1h-1zM8 10h1v1h-1zM7 11h1v1h-1zM13 11h1v1h-1zM6 12h1v1h-1zM12 12h1v1h-1zM5 13h1v1h-1zM11 13h1v1h-1zM4 14h1v1h-1zM2 15h1v1h-1zM1 16h1v1h-1zM0 17h1v1h-1zM5 20h1v1h-1zM4 21h1v1h-1z"/><path fill="#00ffb5" stroke="#00ffb5" d="M19 0h1v1h-1zM18 1h1v1h-1zM17 2h1v1h-1zM18 5h1v1h-1zM17 6h1v1h-1zM16 7h1v1h-1zM10 14h1v1h-1zM3 15h1v1h-1zM9 15h1v1h-1zM2 16h1v1h-1zM8 16h1v1h-1zM1 17h1v1h-1zM7 17h1v1h-1zM0 18h1v1h-1z"/><path fill="#00ffa2" stroke="#00ffa2" d="M16 3h1v1h-1zM15 4h1v1h-1zM14 5h1v1h-1zM13 6h1v1h-1zM15 8h1v1h-1zM14 9h1v1h-1zM13 10h1v1h-1zM6 18h1v1h-1zM5 19h1v1h-1zM4 20h1v1h-1z"/><path fill="#00ff8e" stroke="#00ff8e" d="M12 7h1v1h-1zM11 8h1v1h-1zM10 9h1v1h-1zM9 10h1v1h-1zM12 11h1v1h-1zM11 12h1v1h-1zM10 13h1v1h-1zM3 21h1v1h-1z"/><path fill="#00ff7a" stroke="#00ff7a" d="M8 11h1v1h-1zM7 12h1v1h-1zM6 13h1v1h-1zM5 14h1v1h-1zM9 14h1v1h-1zM8 15h1v1h-1zM7 16h1v1h-1zM6 17h1v1h-1z"/><path fill="#00ff66" stroke="#00ff66" d="M4 15h1v1h-1zM3 16h1v1h-1zM2 17h1v1h-1zM1 18h1v1h-1zM5 18h1v1h-1zM4 19h1v1h-1zM3 20h1v1h-1z"/><path fill="#00ff52" stroke="#00ff52" d="M0 19h1v1h-1zM2 21h1v1h-1z"/><path fill="#04ff00" stroke="#04ff00" d="M20 0h1v1h-1zM21 1h1v1h-1z"/><path fill="#07ff00" stroke="#07ff00" d="M19 1h1v1h-1zM18 2h1v1h-1zM20 2h1v1h-1zM17 3h1v1h-1zM19 3h1v1h-1zM16 4h1v1h-1zM18 4h1v1h-1zM15 5h1v1h-1zM17 5h1v1h-1zM16 6h1v1h-1z"/><path fill="#0bff00" stroke="#0bff00" d="M14 6h1v1h-1zM13 7h1v1h-1zM15 7h1v1h-1zM12 8h1v1h-1zM14 8h1v1h-1zM11 9h1v1h-1zM13 9h1v1h-1zM10 10h1v1h-1zM12 10h1v1h-1zM11 11h1v1h-1z"/><path fill="#0eff00" stroke="#0eff00" d="M9 11h1v1h-1zM8 12h1v1h-1zM10 12h1v1h-1zM7 13h1v1h-1zM9 13h1v1h-1zM6 14h1v1h-1zM8 14h1v1h-1zM5 15h1v1h-1zM7 15h1v1h-1zM4 16h1v1h-1zM6 16h1v1h-1zM5 17h1v1h-1z"/><path fill="#12ff00" stroke="#12ff00" d="M3 17h1v1h-1zM2 18h1v1h-1zM4 18h1v1h-1zM1 19h1v1h-1zM3 19h1v1h-1zM0 20h1v1h-1zM2 20h1v1h-1zM1 21h1v1h-1z"/><path fill="#8c0000" stroke="#8c0000" d="M21 0h1v1h-1zM20 1h1v1h-1zM19 2h1v1h-1zM18 3h1v1h-1zM17 4h1v1h-1zM16 5h1v1h-1zM15 6h1v1h-1zM14 7h1v1h-1zM13 8h1v1h-1zM12 9h1v1h-1zM11 10h1v1h-1zM10 11h1v1h-1zM9 12h1v1h-1zM8 13h1v1h-1zM7 14h1v1h-1zM6 15h1v1h-1zM5 16h1v1h-1zM4 17h1v1h-1zM3 18h1v1h-1zM2 19h1v1h-1zM1 20h1v1h-1zM0 21h1v1h-1z"/></g>
<g stroke-width=".14" transform="translate(554 151) scale(2.79545 2.77727)"><rect stroke="none" x="0.02" y="0.02" width="21.96" height="21.96" fill="#00c8ad"/><path fill="#0046ff" stroke="#0046ff" d="M0 0h1v1h-1z"/><path fill="#0056ff" stroke="#0056ff" d="M1 0h2v1h-2zM0 1h1v1h-1zM21 20h1v1h-1zM21 21h1v1h-1z"/><path fill="#0066ff" stroke="#0066ff" d="M3 0h3v1h-3zM1 1h2v1h-2zM0 2h1v1h-1zM21 18h1v1h-1zM21 19h1v1h-1zM20 20h1v1h-1zM19 21h2v1h-2z"/><path fill="#0076ff" stroke="#0076ff" d="M6 0h2v1h-2zM3 1h3v1h-3zM1 2h2v1h-2zM0 3h1v1h-1zM21 16h1v1h-1zM21 17h1v1h-1zM20 18h1v1h-1zM19 19h2v1h-2zM19 20h1v1h-1zM18 21h1v1h-1z"/><path fill="#0086ff" stroke="#0086ff" d="M8 0h2v1h-2zM6 1h2v1h-2zM3 2h3v1h-3zM1 3h2v1h-2zM0 4h1v1h-1zM21 14h1v1h-1zM21 15h1v1h-1zM20 16h1v1h-1zM19 17h2v1h-2zM19 18h1v1h-1zM18 19h1v1h-1zM17 20h2v1h-2zM17 21h1v1h-1z"/><path fill="#0096ff" stroke="#0096ff" d="M10 0h1v1h-1zM8 1h2v1h-2zM6 2h2v1h-2zM3 3h3v1h-3zM1 4h2v1h-2zM0 5h1v1h-1zM21 12h1v1h-1zM21 13h1v1h-1zM20 14h1v1h-1zM20 15h1v1h-1zM19 16h1v1h-1zM18 17h1v1h-1zM18 18h1v1h-1zM17 19h1v1h-1zM16 20h1v1h-1zM16 21h1v1h-1z"/><path fill="#00aaff" stroke="#00aaff" d="M11 0h2v1h-2zM10 1h1v1h-1zM8 2h1v1h-1zM6 3h2v1h-2zM3 4h3v1h-3zM1 5h3v1h-3zM0 6h1v1h-1zM21 11h1v1h-1zM20 12h1v1h-1zM20 13h1v1h-1zM19 14h1v1h-1zM19 15h1v1h-1zM18 16h1v1h-1zM17 17h1v1h-1zM17 18h1v1h-1zM16 19h1v1h-1zM15 21h1v1h-1z"/><path fill="#00bfff" stroke="#00bfff" d="M13 0h1v1h-1zM11 1h1v1h-1zM9 2h2v1h-2zM8 3h1v1h-1zM6 4h1v1h-1zM4 5h2v1h-2zM1 6h3v1h-3zM0 7h1v1h-1zM21 9h1v1h-1zM21 10h1v1h-1zM20 11h1v1h-1zM19 13h1v1h-1zM18 14h1v1h-1zM18 15h1v1h-1zM17 16h1v1h-1zM16 18h1v1h-1zM15 19h1v1h-1zM15 20h1v1h-1zM14 21h1v1h-1z"/><path fill="#00d4ff" stroke="#00d4ff" d="M14 0h1v1h-1zM12 1h1v1h-1zM11 2h1v1h-1zM9 3h2v1h-2zM7 4h2v1h-2zM6 5h1v1h-1zM4 6h1v1h-1zM1 7h3v1h-3zM0 8h1v1h-1zM21 8h1v1h-1zM20 10h1v1h-1zM19 11h1v1h-1zM19 12h1v1h-1zM18 13h1v1h-1zM17 14h1v1h-1zM17 15h1v1h-1zM16 16h1v1h-1zM16 17h1v1h-1zM15 18h1v1h-1zM14 19h1v1h-1zM14 20h1v1h-1zM13 21h1v1h-1z"/><path fill="#00eaff" stroke="#00eaff" d="M15 0h1v1h-1zM13 1h2v1h-2zM12 2h1v1h-1zM11 3h1v1h-1zM9 4h1v1h-1zM7 5h2v1h-2zM5 6h2v1h-2zM4 7h1v1h-1zM21 7h1v1h-1zM1 8h3v1h-3zM20 8h1v1h-1zM0 9h2v1h-2zM20 9h1v1h-1zM19 10h1v1h-1zM18 11h1v1h-1zM18 12h1v1h-1zM17 13h1v1h-1zM16 15h1v1h-1zM15 16h1v1h-1zM15 17h1v1h-1zM14 18h1v1h-1zM13 19h1v1h-1zM13 20h1v1h-1zM12 21h1v1h-1z"/><path fill="#00ffff" stroke="#00ffff" d="M16 0h1v1h-1zM15 1h1v1h-1zM13 2h1v1h-1zM12 3h1v1h-1zM10 4h1v1h-1zM9 5h1v1h-1zM21 5h1v1h-1zM7 6h1v1h-1zM21 6h1v1h-1zM5 7h2v1h-2zM20 7h1v1h-1zM4 8h1v1h-1zM19 8h1v1h-1zM2 9h2v1h-2zM19 9h1v1h-1zM0 10h2v1h-2zM18 10h1v1h-1zM17 12h1v1h-1zM16 13h1v1h-1zM16 14h1v1h-1zM15 15h1v1h-1zM14 16h1v1h-1zM14 17h1v1h-1zM13 18h1v1h-1zM12 20h1v1h-1zM11 21h1v1h-1z"/><path fill="#00ffec" stroke="#00ffec" d="M17 0h1v1h-1zM16 1h1v1h-1zM14 2h1v1h-1zM13 3h1v1h-1zM11 4h1v1h-1zM21 4h1v1h-1zM10 5h1v1h-1zM8 6h1v1h-1zM20 6h1v1h-1zM7 7h1v1h-1zM19 7h1v1h-1zM5 8h1v1h-1zM4 9h1v1h-1zM18 9h1v1h-1zM2 10h1v1h-1zM17 10h1v1h-1zM0 11h2v1h-2zM17 11h1v1h-1zM16 12h1v1h-1zM15 13h1v1h-1zM15 14h1v1h-1zM14 15h1v1h-1zM13 17h1v1h-1zM12 18h1v1h-1zM12 19h1v1h-1zM11 20h1v1h-1zM10 21h1v1h-1z"/><path fill="#00ffda" stroke="#00ffda" d="M18 0h1v1h-1zM17 1h1v1h-1zM15 2h1v1h-1zM14 3h1v1h-1zM21 3h1v1h-1zM12 4h1v1h-1zM11 5h1v1h-1zM20 5h1v1h-1zM9 6h1v1h-1zM19 6h1v1h-1zM8 7h1v1h-1zM6 8h2v1h-2zM18 8h1v1h-1zM5 9h1v1h-1zM17 9h1v1h-1zM3 10h2v1h-2zM2 11h1v1h-1zM16 11h1v1h-1zM0 12h2v1h-2zM15 12h1v1h-1zM14 14h1v1h-1zM13 15h1v1h-1zM13 16h1v1h-1zM12 17h1v1h-1zM11 18h1v1h-1zM11 19h1v1h-1zM10 20h1v1h-1z"/><path fill="#00ffc7" stroke="#00ffc7" d="M16 2h1v1h-1zM13 4h1v1h-1zM20 4h1v1h-1zM12 5h1v1h-1zM19 5h1v1h-1zM10 6h1v1h-1zM9 7h1v1h-1zM18 7h1v1h-1zM8 8h1v1h-1zM17 8h1v1h-1zM6 9h1v1h-1zM5 10h1v1h-1zM16 10h1v1h-1zM3 11h1v1h-1zM15 11h1v1h-1zM2 12h1v1h-1zM0 13h1v1h-1zM14 13h1v1h-1zM13 14h1v1h-1zM12 16h1v1h-1zM11 17h1v1h-1zM10 19h1v1h-1zM9 20h1v1h-1zM9 21h1v1h-1z"/><path fill="#00ffb5" stroke="#00ffb5" d="M15 3h1v1h-1zM14 4h1v1h-1zM11 6h1v1h-1zM18 6h1v1h-1zM10 7h1v1h-1zM17 7h1v1h-1zM7 9h1v1h-1zM16 9h1v1h-1zM6 10h1v1h-1zM15 10h1v1h-1zM4 11h1v1h-1zM3 12h1v1h-1zM14 12h1v1h-1zM1 13h1v1h-1zM13 13h1v1h-1zM0 14h1v1h-1zM12 15h1v1h-1zM11 16h1v1h-1zM10 18h1v1h-1zM9 19h1v1h-1zM8 20h1v1h-1zM8 21h1v1h-1z"/><path fill="#00ffa2" stroke="#00ffa2" d="M13 5h1v1h-1zM12 6h1v1h-1zM9 8h1v1h-1zM16 8h1v1h-1zM8 9h1v1h-1zM5 11h1v1h-1zM14 11h1v1h-1zM4 12h1v1h-1zM13 12h1v1h-1zM2 13h2v1h-2zM1 14h1v1h-1zM12 14h1v1h-1zM0 15h1v1h-1zM11 15h1v1h-1zM10 17h1v1h-1zM9 18h1v1h-1zM7 21h1v1h-1z"/><path fill="#00ff8e" stroke="#00ff8e" d="M19 0h1v1h-1zM18 1h1v1h-1zM21 2h1v1h-1zM20 3h1v1h-1zM11 7h1v1h-1zM10 8h1v1h-1zM15 9h1v1h-1zM7 10h1v1h-1zM14 10h1v1h-1zM6 11h1v1h-1zM12 13h1v1h-1zM2 14h1v1h-1zM11 14h1v1h-1zM1 15h1v1h-1zM10 16h1v1h-1zM9 17h1v1h-1zM8 19h1v1h-1zM7 20h1v1h-1z"/><path fill="#00ff7a" stroke="#00ff7a" d="M17 2h1v1h-1zM16 3h1v1h-1zM19 4h1v1h-1zM18 5h1v1h-1zM9 9h1v1h-1zM8 10h1v1h-1zM13 11h1v1h-1zM5 12h1v1h-1zM12 12h1v1h-1zM4 13h1v1h-1zM10 15h1v1h-1zM0 16h1v1h-1zM9 16h1v1h-1zM8 18h1v1h-1zM7 19h1v1h-1zM6 21h1v1h-1z"/><path fill="#00ff66" stroke="#00ff66" d="M15 4h1v1h-1zM14 5h1v1h-1zM17 6h1v1h-1zM16 7h1v1h-1zM7 11h1v1h-1zM6 12h1v1h-1zM11 13h1v1h-1zM3 14h1v1h-1zM2 15h1v1h-1zM8 17h1v1h-1zM7 18h1v1h-1zM6 20h1v1h-1zM5 21h1v1h-1z"/><path fill="#00ff52" stroke="#00ff52" d="M13 6h1v1h-1zM12 7h1v1h-1zM15 8h1v1h-1zM14 9h1v1h-1zM5 13h1v1h-1zM4 14h1v1h-1zM10 14h1v1h-1zM9 15h1v1h-1zM1 16h1v1h-1zM0 17h1v1h-1zM6 19h1v1h-1z"/><path fill="#00ff3d" stroke="#00ff3d" d="M11 8h1v1h-1zM10 9h1v1h-1zM13 10h1v1h-1zM12 11h1v1h-1zM3 15h1v1h-1zM2 16h1v1h-1zM8 16h1v1h-1zM7 17h1v1h-1zM5 20h1v1h-1zM4 21h1v1h-1z"/><path fill="#00ff28" stroke="#00ff28" d="M9 10h1v1h-1zM8 11h1v1h-1zM11 12h1v1h-1zM10 13h1v1h-1zM1 17h1v1h-1zM6 18h1v1h-1z"/><path fill="#00ff14" stroke="#00ff14" d="M7 12h1v1h-1zM6 13h1v1h-1zM9 14h1v1h-1zM8 15h1v1h-1zM0 18h1v1h-1zM5 19h1v1h-1zM4 20h1v1h-1z"/><path fill="#00ff00" stroke="#00ff00" d="M5 14h1v1h-1zM4 15h1v1h-1zM7 16h1v1h-1zM6 17h1v1h-1zM3 21h1v1h-1z"/><path fill="#04ff00" stroke="#04ff00" d="M20 0h1v1h-1zM21 1h1v1h-1zM3 16h1v1h-1zM2 17h1v1h-1zM5 18h1v1h-1zM4 19h1v1h-1z"/><path fill="#07ff00" stroke="#07ff00" d="M19 1h1v1h-1zM18 2h1v1h-1zM20 2h1v1h-1zM19 3h1v1h-1zM1 18h1v1h-1zM0 19h1v1h-1zM3 20h1v1h-1zM2 21h1v1h-1z"/><path fill="#0bff00" stroke="#0bff00" d="M17 3h1v1h-1zM16 4h1v1h-1zM18 4h1v1h-1zM15 5h1v1h-1zM17 5h1v1h-1zM16 6h1v1h-1z"/><path fill="#0eff00" stroke="#0eff00" d="M14 6h1v1h-1zM13 7h1v1h-1zM15 7h1v1h-1zM12 8h1v1h-1zM14 8h1v1h-1zM13 9h1v1h-1z"/><path fill="#12ff00" stroke="#12ff00" d="M11 9h1v1h-1zM10 10h1v1h-1zM12 10h1v1h-1zM11 11h1v1h-1z"/><path fill="#15ff00" stroke="#15ff00" d="M9 11h1v1h-1zM8 12h1v1h-1zM10 12h1v1h-1zM7 13h1v1h-1zM9 13h1v1h-1zM8 14h1v1h-1z"/><path fill="#19ff00" stroke="#19ff00" d="M6 14h1v1h-1zM5 15h1v1h-1zM7 15h1v1h-1zM6 16h1v1h-1z"/><path fill="#22ff00" stroke="#22ff00" d="M4 16h1v1h-1zM3 17h1v1h-1zM5 17h1v1h-1zM2 18h1v1h-1zM4 18h1v1h-1zM3 19h1v1h-1z"/><path fill="#2cff00" stroke="#2cff00" d="M1 19h1v1h-1zM0 20h1v1h-1zM2 20h1v1h-1zM1 21h1v1h-1z"/><path fill="#8c0000" stroke="#8c0000" d="M21 0h1v1h-1zM20 1h1v1h-1zM19 2h1v1h-1zM18 3h1v1h-1zM17 4h1v1h-1zM16 5h1v1h-1zM15 6h1v1h-1zM14 7h1v1h-1zM13 8h1v1h-1zM12 9h1v1h-1zM11 10h1v1h-1zM10 11h1v1h-1zM9 12h1v1h-1zM8 13h1v1h-1zM7 14h1v1h-1zM6 15h1v1h-1zM5 16h1v1h-1zM4 17h1v1h-1zM3 18h1v1h-1zM2 19h1v1h-1zM1 20h1v1h-1zM0 21h1v1h-1z"/></g>
<g stroke-width=".14" transform="translate(622.6 151) scale(2.79545 2.77727)"><rect stroke="none" x="0.02" y="0.02" width="21.96" height="21.96" fill="#0097d2"/><path fill="#0026ff" stroke="#0026ff" d="M0 0h5v1h-5zM0 1h2v1h-2zM21 21h1v1h-1z"/><path fill="#0036ff" stroke="#0036ff" d="M5 0h5v1h-5zM2 1h5v1h-5zM0 2h4v1h-4zM0 3h2v1h-2zM21 15h1v1h-1zM21 16h1v1h-1zM20 17h2v1h-2zM20 18h2v1h-2zM19 19h3v1h-3zM19 20h3v1h-3zM19 21h2v1h-2z"/><path fill="#0046ff" stroke="#0046ff" d="M10 0h2v1h-2zM7 1h3v1h-3zM4 2h4v1h-4zM2 3h3v1h-3zM0 4h3v1h-3zM0 5h1v1h-1zM21 11h1v1h-1zM21 12h1v1h-1zM20 13h2v1h-2zM20 14h2v1h-2zM19 15h2v1h-2zM18 16h3v1h-3zM18 17h2v1h-2zM17 18h3v1h-3zM17 19h2v1h-2zM16 20h3v1h-3zM16 21h3v1h-3z"/><path fill="#0056ff" stroke="#0056ff" d="M12 0h2v1h-2zM10 1h2v1h-2zM8 2h2v1h-2zM5 3h3v1h-3zM3 4h3v1h-3zM1 5h2v1h-2zM0 6h1v1h-1zM21 9h1v1h-1zM21 10h1v1h-1zM20 11h1v1h-1zM19 12h2v1h-2zM19 13h1v1h-1zM18 14h2v1h-2zM18 15h1v1h-1zM17 16h1v1h-1zM16 17h2v1h-2zM16 18h1v1h-1zM15 19h2v1h-2zM14 20h2v1h-2zM14 21h2v1h-2z"/><path fill="#0066ff" stroke="#0066ff" d="M14 0h1v1h-1zM12 1h1v1h-1zM10 2h2v1h-2zM8 3h2v1h-2zM6 4h2v1h-2zM3 5h3v1h-3zM1 6h3v1h-3zM0 7h2v1h-2zM21 8h1v1h-1zM20 9h1v1h-1zM20 10h1v1h-1zM19 11h1v1h-1zM18 12h1v1h-1zM18 13h1v1h-1zM17 14h1v1h-1zM16 15h2v1h-2zM16 16h1v1h-1zM15 17h1v1h-1zM14 18h2v1h-2zM14 19h1v1h-1zM13 20h1v1h-1zM13 21h1v1h-1z"/><path fill="#0076ff" stroke="#0076ff" d="M15 0h1v1h-1zM13 1h1v1h-1zM12 2h1v1h-1zM10 3h1v1h-1zM8 4h2v1h-2zM6 5h2v1h-2zM4 6h2v1h-2zM2 7h2v1h-2zM21 7h1v1h-1zM0 8h2v1h-2zM20 8h1v1h-1zM19 9h1v1h-1zM19 10h1v1h-1zM18 11h1v1h-1zM17 12h1v1h-1zM17 13h1v1h-1zM16 14h1v1h-1zM15 15h1v1h-1zM15 16h1v1h-1zM14 17h1v1h-1zM13 18h1v1h-1zM13 19h1v1h-1zM12 20h1v1h-1zM11 21h2v1h-2z"/><path fill="#0086ff" stroke="#0086ff" d="M16 0h1v1h-1zM14 1h1v1h-1zM13 2h1v1h-1zM11 3h2v1h-2zM10 4h1v1h-1zM8 5h2v1h-2zM6 6h2v1h-2zM21 6h1v1h-1zM4 7h3v1h-3zM20 7h1v1h-1zM2 8h3v1h-3zM19 8h1v1h-1zM0 9h2v1h-2zM18 10h1v1h-1zM17 11h1v1h-1zM16 13h1v1h-1zM15 14h1v1h-1zM14 15h1v1h-1zM14 16h1v1h-1zM13 17h1v1h-1zM12 18h1v1h-1zM12 19h1v1h-1zM11 20h1v1h-1zM10 21h1v1h-1z"/><path fill="#0096ff" stroke="#0096ff" d="M15 1h1v1h-1zM14 2h1v1h-1zM13 3h1v1h-1zM11 4h1v1h-1zM10 5h1v1h-1zM21 5h1v1h-1zM8 6h1v1h-1zM20 6h1v1h-1zM7 7h1v1h-1zM19 7h1v1h-1zM5 8h1v1h-1zM2 9h3v1h-3zM18 9h1v1h-1zM0 10h3v1h-3zM17 10h1v1h-1zM0 11h1v1h-1zM16 11h1v1h-1zM16 12h1v1h-1zM15 13h1v1h-1zM14 14h1v1h-1zM13 16h1v1h-1zM12 17h1v1h-1zM11 18h1v1h-1zM11 19h1v1h-1zM10 20h1v1h-1zM9 21h1v1h-1z"/><path fill="#00aaff" stroke="#00aaff" d="M17 0h1v1h-1zM16 1h1v1h-1zM12 4h1v1h-1zM21 4h1v1h-1zM11 5h1v1h-1zM20 5h1v1h-1zM9 6h1v1h-1zM8 7h1v1h-1zM6 8h1v1h-1zM18 8h1v1h-1zM5 9h1v1h-1zM17 9h1v1h-1zM3 10h1v1h-1zM16 10h1v1h-1zM1 11h2v1h-2zM0 12h1v1h-1zM15 12h1v1h-1zM14 13h1v1h-1zM13 14h1v1h-1zM13 15h1v1h-1zM12 16h1v1h-1zM11 17h1v1h-1zM10 19h1v1h-1zM9 20h1v1h-1zM8 21h1v1h-1z"/><path fill="#00bfff" stroke="#00bfff" d="M15 2h1v1h-1zM14 3h1v1h-1zM21 3h1v1h-1zM13 4h1v1h-1zM20 4h1v1h-1zM10 6h1v1h-1zM19 6h1v1h-1zM9 7h1v1h-1zM18 7h1v1h-1zM7 8h2v1h-2zM17 8h1v1h-1zM6 9h1v1h-1zM4 10h2v1h-2zM3 11h1v1h-1zM15 11h1v1h-1zM1 12h2v1h-2zM14 12h1v1h-1zM0 13h1v1h-1zM13 13h1v1h-1zM12 15h1v1h-1zM11 16h1v1h-1zM10 18h1v1h-1zM9 19h1v1h-1zM8 20h1v1h-1z"/><path fill="#00d4ff" stroke="#00d4ff" d="M18 0h1v1h-1zM17 1h1v1h-1zM16 2h1v1h-1zM12 5h1v1h-1zM19 5h1v1h-1zM11 6h1v1h-1zM18 6h1v1h-1zM10 7h1v1h-1zM7 9h1v1h-1zM16 9h1v1h-1zM6 10h1v1h-1zM15 10h1v1h-1zM4 11h1v1h-1zM14 11h1v1h-1zM3 12h1v1h-1zM1 13h1v1h-1zM0 14h1v1h-1zM12 14h1v1h-1zM11 15h1v1h-1zM10 16h1v1h-1zM10 17h1v1h-1zM9 18h1v1h-1zM8 19h1v1h-1zM7 21h1v1h-1z"/><path fill="#00eaff" stroke="#00eaff" d="M15 3h1v1h-1zM14 4h1v1h-1zM13 5h1v1h-1zM17 7h1v1h-1zM9 8h1v1h-1zM16 8h1v1h-1zM8 9h1v1h-1zM7 10h1v1h-1zM5 11h1v1h-1zM4 12h1v1h-1zM13 12h1v1h-1zM2 13h2v1h-2zM12 13h1v1h-1zM1 14h1v1h-1zM11 14h1v1h-1zM0 15h1v1h-1zM9 17h1v1h-1zM8 18h1v1h-1zM7 19h1v1h-1zM7 20h1v1h-1zM6 21h1v1h-1z"/><path fill="#00ffff" stroke="#00ffff" d="M12 6h1v1h-1zM11 7h1v1h-1zM10 8h1v1h-1zM15 9h1v1h-1zM14 10h1v1h-1zM6 11h1v1h-1zM5 12h1v1h-1zM4 13h1v1h-1zM2 14h1v1h-1zM1 15h1v1h-1zM10 15h1v1h-1zM0 16h1v1h-1zM9 16h1v1h-1zM8 17h1v1h-1zM7 18h1v1h-1zM6 20h1v1h-1zM5 21h1v1h-1z"/><path fill="#00ffec" stroke="#00ffec" d="M19 0h1v1h-1zM18 1h1v1h-1zM21 2h1v1h-1zM20 3h1v1h-1zM9 9h1v1h-1zM8 10h1v1h-1zM7 11h1v1h-1zM13 11h1v1h-1zM6 12h1v1h-1zM12 12h1v1h-1zM11 13h1v1h-1zM3 14h1v1h-1zM10 14h1v1h-1zM2 15h1v1h-1zM1 16h1v1h-1zM6 19h1v1h-1zM5 20h1v1h-1zM4 21h1v1h-1z"/><path fill="#00ffda" stroke="#00ffda" d="M17 2h1v1h-1zM16 3h1v1h-1zM15 4h1v1h-1zM19 4h1v1h-1zM18 5h1v1h-1zM17 6h1v1h-1zM5 13h1v1h-1zM4 14h1v1h-1zM3 15h1v1h-1zM9 15h1v1h-1zM2 16h1v1h-1zM8 16h1v1h-1zM0 17h1v1h-1zM7 17h1v1h-1z"/><path fill="#00ffc7" stroke="#00ffc7" d="M14 5h1v1h-1zM16 7h1v1h-1zM1 17h1v1h-1zM0 18h1v1h-1zM6 18h1v1h-1zM5 19h1v1h-1zM4 20h1v1h-1z"/><path fill="#00ffb5" stroke="#00ffb5" d="M13 6h1v1h-1zM15 8h1v1h-1zM3 21h1v1h-1z"/><path fill="#00ffa2" stroke="#00ffa2" d="M12 7h1v1h-1zM14 9h1v1h-1zM5 14h1v1h-1zM4 15h1v1h-1zM3 16h1v1h-1zM7 16h1v1h-1zM2 17h1v1h-1zM6 17h1v1h-1zM5 18h1v1h-1zM4 19h1v1h-1z"/><path fill="#00ff8e" stroke="#00ff8e" d="M11 8h1v1h-1zM13 10h1v1h-1zM7 12h1v1h-1zM6 13h1v1h-1zM9 14h1v1h-1zM8 15h1v1h-1zM1 18h1v1h-1zM0 19h1v1h-1zM3 20h1v1h-1zM2 21h1v1h-1z"/><path fill="#00ff7a" stroke="#00ff7a" d="M20 0h1v1h-1zM19 1h1v1h-1zM21 1h1v1h-1zM18 2h1v1h-1zM20 2h1v1h-1zM19 3h1v1h-1zM10 9h1v1h-1zM9 10h1v1h-1zM8 11h1v1h-1zM12 11h1v1h-1zM11 12h1v1h-1zM10 13h1v1h-1z"/><path fill="#00ff66" stroke="#00ff66" d="M17 3h1v1h-1zM16 4h1v1h-1zM18 4h1v1h-1zM17 5h1v1h-1z"/><path fill="#00ff52" stroke="#00ff52" d="M15 5h1v1h-1zM16 6h1v1h-1z"/><path fill="#00ff3d" stroke="#00ff3d" d="M4 16h1v1h-1zM3 17h1v1h-1zM5 17h1v1h-1zM2 18h1v1h-1zM4 18h1v1h-1zM1 19h1v1h-1zM3 19h1v1h-1zM2 20h1v1h-1z"/><path fill="#00ff28" stroke="#00ff28" d="M14 6h1v1h-1zM15 7h1v1h-1zM5 15h1v1h-1zM6 16h1v1h-1zM0 20h1v1h-1zM1 21h1v1h-1z"/><path fill="#00ff00" stroke="#00ff00" d="M6 14h1v1h-1zM7 15h1v1h-1z"/><path fill="#04ff00" stroke="#04ff00" d="M13 7h1v1h-1zM14 8h1v1h-1z"/><path fill="#07ff00" stroke="#07ff00" d="M7 13h1v1h-1zM8 14h1v1h-1z"/><path fill="#12ff00" stroke="#12ff00" d="M12 8h1v1h-1zM13 9h1v1h-1zM8 12h1v1h-1zM9 13h1v1h-1z"/><path fill="#19ff00" stroke="#19ff00" d="M11 9h1v1h-1zM12 10h1v1h-1z"/><path fill="#22ff00" stroke="#22ff00" d="M9 11h1v1h-1zM10 12h1v1h-1z"/><path fill="#2cff00" stroke="#2cff00" d="M10 10h1v1h-1zM11 11h1v1h-1z"/><path fill="#8c0000" stroke="#8c0000" d="M21 0h1v1h-1zM20 1h1v1h-1zM19 2h1v1h-1zM18 3h1v1h-1zM17 4h1v1h-1zM16 5h1v1h-1zM15 6h1v1h-1zM14 7h1v1h-1zM13 8h1v1h-1zM12 9h1v1h-1zM11 10h1v1h-1zM10 11h1v1h-1zM9 12h1v1h-1zM8 13h1v1h-1zM7 14h1v1h-1zM6 15h1v1h-1zM5 16h1v1h-1zM4 17h1v1h-1zM3 18h1v1h-1zM2 19h1v1h-1zM1 20h1v1h-1zM0 21h1v1h-1z"/></g>
<g stroke-width=".14" transform="translate(351.5 245.6) scale(2.79545 2.77727)"><rect stroke="none" x="0.02" y="0.02" width="21.96" height="21.96" fill="#00c8a0"/><path fill="#0026ff" stroke="#0026ff" d="M0 0h1v1h-1zM21 17h1v1h-1zM21 18h1v1h-1zM21 19h1v1h-1zM21 20h1v1h-1zM21 21h1v1h-1z"/><path fill="#0036ff" stroke="#0036ff" d="M1 0h3v1h-3zM0 1h1v1h-1zM21 12h1v1h-1zM21 13h1v1h-1zM21 14h1v1h-1zM21 15h1v1h-1zM20 16h2v1h-2zM20 17h1v1h-1zM20 18h1v1h-1zM20 19h1v1h-1zM19 20h2v1h-2zM19 21h2v1h-2z"/><path fill="#0046ff" stroke="#0046ff" d="M4 0h4v1h-4zM1 1h4v1h-4zM0 2h2v1h-2zM21 11h1v1h-1zM20 13h1v1h-1zM20 14h1v1h-1zM20 15h1v1h-1zM19 16h1v1h-1zM19 17h1v1h-1zM19 18h1v1h-1zM19 19h1v1h-1zM18 20h1v1h-1zM18 21h1v1h-1z"/><path fill="#0056ff" stroke="#0056ff" d="M8 0h2v1h-2zM5 1h4v1h-4zM2 2h4v1h-4zM0 3h3v1h-3zM21 9h1v1h-1zM21 10h1v1h-1zM20 11h1v1h-1zM20 12h1v1h-1zM19 14h1v1h-1zM19 15h1v1h-1zM18 16h1v1h-1zM18 17h1v1h-1zM18 18h1v1h-1zM17 19h2v1h-2zM17 20h1v1h-1zM17 21h1v1h-1z"/><path fill="#0066ff" stroke="#0066ff" d="M10 0h1v1h-1zM9 1h1v1h-1zM6 2h2v1h-2zM3 3h3v1h-3zM0 4h3v1h-3zM0 5h1v1h-1zM21 8h1v1h-1zM20 10h1v1h-1zM19 12h1v1h-1zM19 13h1v1h-1zM18 14h1v1h-1zM18 15h1v1h-1zM17 16h1v1h-1zM17 17h1v1h-1zM17 18h1v1h-1zM16 19h1v1h-1zM16 20h1v1h-1zM16 21h1v1h-1z"/><path fill="#0076ff" stroke="#0076ff" d="M11 0h2v1h-2zM10 1h1v1h-1zM8 2h1v1h-1zM6 3h2v1h-2zM3 4h3v1h-3zM1 5h3v1h-3zM0 6h1v1h-1zM21 7h1v1h-1zM20 9h1v1h-1zM19 10h1v1h-1zM19 11h1v1h-1zM18 12h1v1h-1zM18 13h1v1h-1zM17 15h1v1h-1zM16 17h1v1h-1zM16 18h1v1h-1zM15 20h1v1h-1zM15 21h1v1h-1z"/><path fill="#0086ff" stroke="#0086ff" d="M13 0h1v1h-1zM11 1h1v1h-1zM9 2h1v1h-1zM8 3h1v1h-1zM6 4h1v1h-1zM4 5h1v1h-1zM1 6h3v1h-3zM21 6h1v1h-1zM0 7h1v1h-1zM20 8h1v1h-1zM18 11h1v1h-1zM17 13h1v1h-1zM17 14h1v1h-1zM16 15h1v1h-1zM16 16h1v1h-1zM15 18h1v1h-1zM15 19h1v1h-1zM14 20h1v1h-1zM14 21h1v1h-1z"/><path fill="#0096ff" stroke="#0096ff" d="M12 1h1v1h-1zM10 2h2v1h-2zM9 3h1v1h-1zM7 4h1v1h-1zM5 5h1v1h-1zM4 6h1v1h-1zM1 7h2v1h-2zM20 7h1v1h-1zM0 8h1v1h-1zM19 9h1v1h-1zM18 10h1v1h-1zM17 12h1v1h-1zM16 13h1v1h-1zM16 14h1v1h-1zM15 16h1v1h-1zM15 17h1v1h-1zM14 18h1v1h-1zM14 19h1v1h-1zM13 21h1v1h-1z"/><path fill="#00aaff" stroke="#00aaff" d="M14 0h1v1h-1zM13 1h1v1h-1zM10 3h1v1h-1zM8 4h1v1h-1zM6 5h2v1h-2zM21 5h1v1h-1zM5 6h1v1h-1zM20 6h1v1h-1zM3 7h1v1h-1zM1 8h2v1h-2zM19 8h1v1h-1zM0 9h1v1h-1zM18 9h1v1h-1zM17 11h1v1h-1zM15 14h1v1h-1zM15 15h1v1h-1zM14 16h1v1h-1zM14 17h1v1h-1zM13 19h1v1h-1zM13 20h1v1h-1zM12 21h1v1h-1z"/><path fill="#00bfff" stroke="#00bfff" d="M15 0h1v1h-1zM12 2h1v1h-1zM11 3h1v1h-1zM9 4h1v1h-1zM8 5h1v1h-1zM6 6h1v1h-1zM4 7h1v1h-1zM19 7h1v1h-1zM3 8h1v1h-1zM1 9h1v1h-1zM17 10h1v1h-1zM16 12h1v1h-1zM15 13h1v1h-1zM14 15h1v1h-1zM13 16h1v1h-1zM13 17h1v1h-1zM13 18h1v1h-1zM12 19h1v1h-1zM12 20h1v1h-1z"/><path fill="#00d4ff" stroke="#00d4ff" d="M14 1h1v1h-1zM13 2h1v1h-1zM10 4h1v1h-1zM9 5h1v1h-1zM7 6h1v1h-1zM5 7h2v1h-2zM4 8h1v1h-1zM18 8h1v1h-1zM2 9h1v1h-1zM17 9h1v1h-1zM0 10h2v1h-2zM16 11h1v1h-1zM14 14h1v1h-1zM12 17h1v1h-1zM12 18h1v1h-1zM11 19h1v1h-1zM11 20h1v1h-1zM11 21h1v1h-1z"/><path fill="#00eaff" stroke="#00eaff" d="M16 0h1v1h-1zM15 1h1v1h-1zM12 3h1v1h-1zM11 4h1v1h-1zM21 4h1v1h-1zM8 6h1v1h-1zM7 7h1v1h-1zM5 8h1v1h-1zM3 9h2v1h-2zM2 10h1v1h-1zM16 10h1v1h-1zM0 11h1v1h-1zM15 12h1v1h-1zM14 13h1v1h-1zM13 15h1v1h-1zM12 16h1v1h-1zM11 18h1v1h-1zM10 20h1v1h-1zM10 21h1v1h-1z"/><path fill="#00ffff" stroke="#00ffff" d="M14 2h1v1h-1zM13 3h1v1h-1zM10 5h1v1h-1zM20 5h1v1h-1zM9 6h1v1h-1zM8 7h1v1h-1zM6 8h1v1h-1zM5 9h1v1h-1zM3 10h1v1h-1zM1 11h1v1h-1zM15 11h1v1h-1zM0 12h1v1h-1zM13 14h1v1h-1zM11 17h1v1h-1zM10 19h1v1h-1zM9 20h1v1h-1zM9 21h1v1h-1z"/><path fill="#00ffec" stroke="#00ffec" d="M12 4h1v1h-1zM11 5h1v1h-1zM19 6h1v1h-1zM18 7h1v1h-1zM7 8h1v1h-1zM6 9h1v1h-1zM4 10h1v1h-1zM2 11h2v1h-2zM1 12h1v1h-1zM14 12h1v1h-1zM13 13h1v1h-1zM12 15h1v1h-1zM11 16h1v1h-1zM10 18h1v1h-1zM9 19h1v1h-1zM8 21h1v1h-1z"/><path fill="#00ffda" stroke="#00ffda" d="M17 0h1v1h-1zM10 6h1v1h-1zM9 7h1v1h-1zM17 8h1v1h-1zM5 10h1v1h-1zM4 11h1v1h-1zM2 12h1v1h-1zM0 13h1v1h-1zM12 14h1v1h-1zM10 17h1v1h-1zM8 20h1v1h-1z"/><path fill="#00ffc7" stroke="#00ffc7" d="M16 1h1v1h-1zM15 2h1v1h-1zM14 3h1v1h-1zM21 3h1v1h-1zM8 8h1v1h-1zM7 9h1v1h-1zM16 9h1v1h-1zM15 10h1v1h-1zM3 12h1v1h-1zM1 13h2v1h-2zM0 14h1v1h-1zM11 15h1v1h-1zM10 16h1v1h-1zM9 18h1v1h-1zM8 19h1v1h-1zM7 21h1v1h-1z"/><path fill="#00ffb5" stroke="#00ffb5" d="M13 4h1v1h-1zM20 4h1v1h-1zM12 5h1v1h-1zM11 6h1v1h-1zM6 10h1v1h-1zM5 11h1v1h-1zM14 11h1v1h-1zM4 12h1v1h-1zM1 14h1v1h-1zM0 15h1v1h-1zM9 17h1v1h-1zM7 20h1v1h-1z"/><path fill="#00ffa2" stroke="#00ffa2" d="M19 5h1v1h-1zM18 6h1v1h-1zM10 7h1v1h-1zM9 8h1v1h-1zM13 12h1v1h-1zM3 13h1v1h-1zM12 13h1v1h-1zM2 14h1v1h-1zM8 18h1v1h-1zM7 19h1v1h-1zM6 21h1v1h-1z"/><path fill="#00ff8e" stroke="#00ff8e" d="M18 0h1v1h-1zM17 7h1v1h-1zM16 8h1v1h-1zM8 9h1v1h-1zM7 10h1v1h-1zM6 11h1v1h-1zM11 14h1v1h-1zM1 15h1v1h-1zM0 16h1v1h-1zM6 20h1v1h-1z"/><path fill="#00ff7a" stroke="#00ff7a" d="M17 1h1v1h-1zM16 2h1v1h-1zM15 3h1v1h-1zM15 9h1v1h-1zM14 10h1v1h-1zM5 12h1v1h-1zM4 13h1v1h-1zM3 14h1v1h-1zM10 15h1v1h-1zM9 16h1v1h-1zM5 21h1v1h-1z"/><path fill="#00ff66" stroke="#00ff66" d="M14 4h1v1h-1zM13 5h1v1h-1zM13 11h1v1h-1zM2 15h1v1h-1zM1 16h1v1h-1zM8 17h1v1h-1z"/><path fill="#00ff52" stroke="#00ff52" d="M12 6h1v1h-1zM11 7h1v1h-1zM12 12h1v1h-1zM11 13h1v1h-1zM0 17h1v1h-1zM7 18h1v1h-1zM6 19h1v1h-1z"/><path fill="#00ff3d" stroke="#00ff3d" d="M10 8h1v1h-1zM9 9h1v1h-1zM10 14h1v1h-1zM5 20h1v1h-1z"/><path fill="#00ff28" stroke="#00ff28" d="M8 10h1v1h-1zM7 11h1v1h-1zM9 15h1v1h-1zM8 16h1v1h-1zM4 21h1v1h-1z"/><path fill="#00ff14" stroke="#00ff14" d="M6 12h1v1h-1zM5 13h1v1h-1zM4 14h1v1h-1zM7 17h1v1h-1zM6 18h1v1h-1z"/><path fill="#00ff00" stroke="#00ff00" d="M3 15h1v1h-1zM2 16h1v1h-1zM5 19h1v1h-1z"/><path fill="#04ff00" stroke="#04ff00" d="M1 17h1v1h-1zM0 18h1v1h-1zM4 20h1v1h-1zM3 21h1v1h-1z"/><path fill="#12ff00" stroke="#12ff00" d="M21 2h1v1h-1zM16 7h1v1h-1zM15 8h1v1h-1zM14 9h1v1h-1zM13 10h1v1h-1z"/><path fill="#15ff00" stroke="#15ff00" d="M14 5h1v1h-1zM13 6h1v1h-1zM17 6h1v1h-1zM12 7h1v1h-1zM12 11h1v1h-1zM11 12h1v1h-1z"/><path fill="#19ff00" stroke="#19ff00" d="M19 0h1v1h-1zM20 3h1v1h-1zM15 4h1v1h-1zM11 8h1v1h-1zM10 9h1v1h-1zM9 10h1v1h-1zM10 13h1v1h-1zM9 14h1v1h-1z"/><path fill="#22ff00" stroke="#22ff00" d="M18 5h1v1h-1zM8 11h1v1h-1zM7 12h1v1h-1zM8 15h1v1h-1zM7 16h1v1h-1z"/><path fill="#2cff00" stroke="#2cff00" d="M18 1h1v1h-1zM16 3h1v1h-1zM19 4h1v1h-1zM6 13h1v1h-1zM5 14h1v1h-1zM4 15h1v1h-1zM6 17h1v1h-1zM5 18h1v1h-1z"/><path fill="#36ff00" stroke="#36ff00" d="M17 2h1v1h-1zM3 16h1v1h-1zM2 17h1v1h-1zM4 19h1v1h-1zM3 20h1v1h-1z"/><path fill="#40ff00" stroke="#40ff00" d="M1 18h1v1h-1zM0 19h1v1h-1zM2 21h1v1h-1z"/><path fill="#d5ff00" stroke="#d5ff00" d="M13 7h1v1h-1zM12 8h1v1h-1zM14 8h1v1h-1zM13 9h1v1h-1z"/><path fill="#e0ff00" stroke="#e0ff00" d="M14 6h1v1h-1zM15 7h1v1h-1zM11 9h1v1h-1zM10 10h1v1h-1zM12 10h1v1h-1zM11 11h1v1h-1z"/><path fill="#ebff00" stroke="#ebff00" d="M9 11h1v1h-1zM8 12h1v1h-1zM10 12h1v1h-1zM9 13h1v1h-1z"/><path fill="#f6ff00" stroke="#f6ff00" d="M7 13h1v1h-1zM6 14h1v1h-1zM8 14h1v1h-1zM7 15h1v1h-1z"/><path fill="#fffc00" stroke="#fffc00" d="M5 15h1v1h-1zM4 16h1v1h-1zM6 16h1v1h-1zM5 17h1v1h-1z"/><path fill="#ffee00" stroke="#ffee00" d="M15 5h1v1h-1zM16 6h1v1h-1zM3 17h1v1h-1zM2 18h1v1h-1zM4 18h1v1h-1zM3 19h1v1h-1z"/><path fill="#ffe000" stroke="#ffe000" d="M1 19h1v1h-1zM0 20h1v1h-1zM2 20h1v1h-1zM1 21h1v1h-1z"/><path fill="#ff7300" stroke="#ff7300" d="M16 4h1v1h-1zM17 5h1v1h-1z"/><path fill="#ff5000" stroke="#ff5000" d="M19 1h1v1h-1zM20 2h1v1h-1z"/><path fill="#ff0000" stroke="#ff0000" d="M17 3h1v1h-1zM18 4h1v1h-1z"/><path fill="#ea0000" stroke="#ea0000" d="M18 2h1v1h-1zM19 3h1v1h-1z"/><path fill="#8c0000" stroke="#8c0000" d="M20 0h2v1h-2zM20 1h2v1h-2zM19 2h1v1h-1zM18 3h1v1h-1zM17 4h1v1h-1zM16 5h1v1h-1zM15 6h1v1h-1zM14 7h1v1h-1zM13 8h1v1h-1zM12 9h1v1h-1zM11 10h1v1h-1zM10 11h1v1h-1zM9 12h1v1h-1zM8 13h1v1h-1zM7 14h1v1h-1zM6 15h1v1h-1zM5 16h1v1h-1zM4 17h1v1h-1zM3 18h1v1h-1zM2 19h1v1h-1zM1 20h1v1h-1zM0 21h1v1h-1z"/></g>
<g stroke-width=".14" transform="translate(419 245.6) scale(2.79545 2.77727)"><rect stroke="none" x="0.02" y="0.02" width="21.96" height="21.96" fill="#beb914"/><path fill="#56ff00" stroke="#56ff00" d="M0 0h1v1h-1z"/><path fill="#61ff00" stroke="#61ff00" d="M1 0h2v1h-2zM0 1h1v1h-1z"/><path fill="#6cff00" stroke="#6cff00" d="M3 0h1v1h-1zM1 1h1v1h-1zM21 21h1v1h-1z"/><path fill="#77ff00" stroke="#77ff00" d="M4 0h1v1h-1zM2 1h1v1h-1zM0 2h2v1h-2zM21 19h1v1h-1zM21 20h1v1h-1zM20 21h1v1h-1z"/><path fill="#82ff00" stroke="#82ff00" d="M5 0h1v1h-1zM3 1h2v1h-2zM2 2h1v1h-1zM0 3h1v1h-1zM21 18h1v1h-1zM20 19h1v1h-1zM20 20h1v1h-1zM19 21h1v1h-1z"/><path fill="#8eff00" stroke="#8eff00" d="M6 0h1v1h-1zM5 1h1v1h-1zM3 2h1v1h-1zM1 3h2v1h-2zM0 4h1v1h-1zM21 17h1v1h-1zM20 18h1v1h-1zM19 20h1v1h-1zM18 21h1v1h-1z"/><path fill="#9bff00" stroke="#9bff00" d="M7 0h1v1h-1zM6 1h1v1h-1zM4 2h1v1h-1zM3 3h1v1h-1zM1 4h1v1h-1zM21 15h1v1h-1zM21 16h1v1h-1zM20 17h1v1h-1zM19 18h1v1h-1zM19 19h1v1h-1zM18 20h1v1h-1zM17 21h1v1h-1z"/><path fill="#a7ff00" stroke="#a7ff00" d="M8 0h1v1h-1zM7 1h1v1h-1zM5 2h1v1h-1zM4 3h1v1h-1zM2 4h1v1h-1zM0 5h1v1h-1zM21 14h1v1h-1zM20 16h1v1h-1zM19 17h1v1h-1zM18 19h1v1h-1zM17 20h1v1h-1z"/><path fill="#b3ff00" stroke="#b3ff00" d="M9 0h1v1h-1zM8 1h1v1h-1zM6 2h1v1h-1zM5 3h1v1h-1zM3 4h1v1h-1zM1 5h2v1h-2zM0 6h1v1h-1zM21 13h1v1h-1zM20 14h1v1h-1zM20 15h1v1h-1zM19 16h1v1h-1zM18 17h1v1h-1zM18 18h1v1h-1zM17 19h1v1h-1zM16 20h1v1h-1zM16 21h1v1h-1z"/><path fill="#bfff00" stroke="#bfff00" d="M10 0h1v1h-1zM9 1h1v1h-1zM7 2h1v1h-1zM6 3h1v1h-1zM4 4h1v1h-1zM3 5h1v1h-1zM1 6h1v1h-1zM21 12h1v1h-1zM20 13h1v1h-1zM19 15h1v1h-1zM18 16h1v1h-1zM17 18h1v1h-1zM16 19h1v1h-1zM15 21h1v1h-1z"/><path fill="#caff00" stroke="#caff00" d="M11 0h2v1h-2zM10 1h1v1h-1zM8 2h2v1h-2zM7 3h1v1h-1zM5 4h1v1h-1zM4 5h1v1h-1zM2 6h1v1h-1zM0 7h2v1h-2zM21 11h1v1h-1zM20 12h1v1h-1zM19 13h1v1h-1zM19 14h1v1h-1zM18 15h1v1h-1zM17 16h1v1h-1zM17 17h1v1h-1zM16 18h1v1h-1zM15 19h1v1h-1zM15 20h1v1h-1zM14 21h1v1h-1z"/><path fill="#d5ff00" stroke="#d5ff00" d="M13 0h1v1h-1zM11 1h1v1h-1zM10 2h1v1h-1zM8 3h1v1h-1zM6 4h2v1h-2zM5 5h1v1h-1zM3 6h1v1h-1zM2 7h1v1h-1zM0 8h1v1h-1zM21 9h1v1h-1zM21 10h1v1h-1zM20 11h1v1h-1zM19 12h1v1h-1zM18 14h1v1h-1zM17 15h1v1h-1zM16 17h1v1h-1zM15 18h1v1h-1zM14 20h1v1h-1zM13 21h1v1h-1z"/><path fill="#e0ff00" stroke="#e0ff00" d="M14 0h1v1h-1zM12 1h1v1h-1zM11 2h1v1h-1zM9 3h1v1h-1zM8 4h1v1h-1zM6 5h1v1h-1zM4 6h2v1h-2zM3 7h1v1h-1zM1 8h1v1h-1zM21 8h1v1h-1zM0 9h1v1h-1zM20 9h1v1h-1zM20 10h1v1h-1zM19 11h1v1h-1zM18 12h1v1h-1zM18 13h1v1h-1zM17 14h1v1h-1zM16 15h1v1h-1zM16 16h1v1h-1zM15 17h1v1h-1zM14 18h1v1h-1zM14 19h1v1h-1zM13 20h1v1h-1zM12 21h1v1h-1z"/><path fill="#ebff00" stroke="#ebff00" d="M15 0h1v1h-1zM13 1h1v1h-1zM12 2h1v1h-1zM10 3h1v1h-1zM9 4h1v1h-1zM7 5h1v1h-1zM6 6h1v1h-1zM4 7h1v1h-1zM21 7h1v1h-1zM2 8h2v1h-2zM20 8h1v1h-1zM1 9h1v1h-1zM19 10h1v1h-1zM18 11h1v1h-1zM17 12h1v1h-1zM17 13h1v1h-1zM16 14h1v1h-1zM15 15h1v1h-1zM15 16h1v1h-1zM14 17h1v1h-1zM13 18h1v1h-1zM13 19h1v1h-1zM12 20h1v1h-1zM11 21h1v1h-1z"/><path fill="#f6ff00" stroke="#f6ff00" d="M16 0h1v1h-1zM14 1h1v1h-1zM13 2h1v1h-1zM11 3h1v1h-1zM10 4h1v1h-1zM8 5h1v1h-1zM21 5h1v1h-1zM7 6h1v1h-1zM21 6h1v1h-1zM5 7h1v1h-1zM20 7h1v1h-1zM4 8h1v1h-1zM19 8h1v1h-1zM2 9h1v1h-1zM19 9h1v1h-1zM0 10h2v1h-2zM18 10h1v1h-1zM17 11h1v1h-1zM16 13h1v1h-1zM15 14h1v1h-1zM14 15h1v1h-1zM14 16h1v1h-1zM13 17h1v1h-1zM12 18h1v1h-1zM12 19h1v1h-1zM11 20h1v1h-1zM10 21h1v1h-1z"/><path fill="#fffc00" stroke="#fffc00" d="M15 1h1v1h-1zM14 2h1v1h-1zM12 3h1v1h-1zM11 4h1v1h-1zM9 5h1v1h-1zM8 6h1v1h-1zM20 6h1v1h-1zM6 7h1v1h-1zM19 7h1v1h-1zM5 8h1v1h-1zM3 9h2v1h-2zM18 9h1v1h-1zM2 10h1v1h-1zM17 10h1v1h-1zM0 11h1v1h-1zM16 12h1v1h-1zM15 13h1v1h-1zM13 16h1v1h-1zM12 17h1v1h-1zM11 18h1v1h-1zM11 19h1v1h-1zM10 20h1v1h-1zM9 21h1v1h-1z"/><path fill="#ffee00" stroke="#ffee00" d="M17 0h1v1h-1zM16 1h1v1h-1zM13 3h1v1h-1zM12 4h1v1h-1zM21 4h1v1h-1zM10 5h1v1h-1zM20 5h1v1h-1zM9 6h1v1h-1zM7 7h1v1h-1zM6 8h1v1h-1zM18 8h1v1h-1zM17 9h1v1h-1zM3 10h1v1h-1zM1 11h2v1h-2zM16 11h1v1h-1zM0 12h1v1h-1zM15 12h1v1h-1zM14 14h1v1h-1zM13 15h1v1h-1zM12 16h1v1h-1zM10 19h1v1h-1zM9 20h1v1h-1zM8 21h1v1h-1z"/><path fill="#ffe000" stroke="#ffe000" d="M18 0h1v1h-1zM15 2h1v1h-1zM21 3h1v1h-1zM11 5h1v1h-1zM19 6h1v1h-1zM8 7h1v1h-1zM18 7h1v1h-1zM7 8h1v1h-1zM5 9h1v1h-1zM4 10h1v1h-1zM16 10h1v1h-1zM15 11h1v1h-1zM1 12h1v1h-1zM0 13h1v1h-1zM14 13h1v1h-1zM13 14h1v1h-1zM12 15h1v1h-1zM11 17h1v1h-1zM10 18h1v1h-1zM9 19h1v1h-1z"/><path fill="#ffd200" stroke="#ffd200" d="M17 1h1v1h-1zM16 2h1v1h-1zM14 3h1v1h-1zM13 4h1v1h-1zM20 4h1v1h-1zM19 5h1v1h-1zM10 6h1v1h-1zM9 7h1v1h-1zM17 8h1v1h-1zM6 9h1v1h-1zM5 10h1v1h-1zM3 11h1v1h-1zM2 12h1v1h-1zM14 12h1v1h-1zM13 13h1v1h-1zM11 16h1v1h-1zM10 17h1v1h-1zM8 20h1v1h-1zM7 21h1v1h-1z"/><path fill="#ffc400" stroke="#ffc400" d="M15 3h1v1h-1zM12 5h1v1h-1zM11 6h1v1h-1zM18 6h1v1h-1zM8 8h1v1h-1zM7 9h1v1h-1zM16 9h1v1h-1zM15 10h1v1h-1zM4 11h1v1h-1zM1 13h1v1h-1zM0 14h1v1h-1zM12 14h1v1h-1zM11 15h1v1h-1zM9 18h1v1h-1zM8 19h1v1h-1z"/><path fill="#ffb600" stroke="#ffb600" d="M14 4h1v1h-1zM13 5h1v1h-1zM10 7h1v1h-1zM17 7h1v1h-1zM16 8h1v1h-1zM6 10h1v1h-1zM5 11h1v1h-1zM14 11h1v1h-1zM3 12h1v1h-1zM13 12h1v1h-1zM2 13h1v1h-1zM10 16h1v1h-1zM9 17h1v1h-1zM7 20h1v1h-1zM6 21h1v1h-1z"/><path fill="#ffa800" stroke="#ffa800" d="M12 6h1v1h-1zM9 8h1v1h-1zM8 9h1v1h-1zM15 9h1v1h-1zM4 12h1v1h-1zM3 13h1v1h-1zM12 13h1v1h-1zM1 14h1v1h-1zM11 14h1v1h-1zM0 15h1v1h-1zM8 18h1v1h-1zM7 19h1v1h-1z"/><path fill="#ff9a00" stroke="#ff9a00" d="M19 0h1v1h-1zM11 7h1v1h-1zM10 8h1v1h-1zM7 10h1v1h-1zM14 10h1v1h-1zM6 11h1v1h-1zM13 11h1v1h-1zM2 14h1v1h-1zM1 15h1v1h-1zM10 15h1v1h-1zM6 20h1v1h-1zM5 21h1v1h-1z"/><path fill="#ff8c00" stroke="#ff8c00" d="M18 1h1v1h-1zM17 2h1v1h-1zM21 2h1v1h-1zM9 9h1v1h-1zM5 12h1v1h-1zM12 12h1v1h-1zM4 13h1v1h-1zM0 16h1v1h-1zM9 16h1v1h-1zM8 17h1v1h-1z"/><path fill="#ff7f00" stroke="#ff7f00" d="M16 3h1v1h-1zM20 3h1v1h-1zM19 4h1v1h-1zM8 10h1v1h-1zM7 11h1v1h-1zM11 13h1v1h-1zM3 14h1v1h-1zM10 14h1v1h-1zM7 18h1v1h-1zM6 19h1v1h-1z"/><path fill="#ff7300" stroke="#ff7300" d="M15 4h1v1h-1zM14 5h1v1h-1zM18 5h1v1h-1zM17 6h1v1h-1zM6 12h1v1h-1zM2 15h1v1h-1zM9 15h1v1h-1zM1 16h1v1h-1zM5 20h1v1h-1zM4 21h1v1h-1z"/><path fill="#ff6700" stroke="#ff6700" d="M13 6h1v1h-1zM16 7h1v1h-1zM5 13h1v1h-1zM4 14h1v1h-1zM8 16h1v1h-1zM0 17h1v1h-1zM7 17h1v1h-1z"/><path fill="#ff5c00" stroke="#ff5c00" d="M12 7h1v1h-1zM11 8h1v1h-1zM15 8h1v1h-1zM14 9h1v1h-1zM3 15h1v1h-1zM2 16h1v1h-1zM6 18h1v1h-1zM5 19h1v1h-1z"/><path fill="#ff5000" stroke="#ff5000" d="M19 1h1v1h-1zM18 2h1v1h-1zM20 2h1v1h-1zM19 3h1v1h-1zM10 9h1v1h-1zM13 10h1v1h-1zM12 11h1v1h-1zM1 17h1v1h-1zM4 20h1v1h-1z"/><path fill="#ff4500" stroke="#ff4500" d="M17 3h1v1h-1zM18 4h1v1h-1zM9 10h1v1h-1zM8 11h1v1h-1zM11 12h1v1h-1zM0 18h1v1h-1zM3 21h1v1h-1z"/><path fill="#ff3900" stroke="#ff3900" d="M16 4h1v1h-1zM17 5h1v1h-1zM7 12h1v1h-1zM10 13h1v1h-1zM9 14h1v1h-1z"/><path fill="#ff2e00" stroke="#ff2e00" d="M15 5h1v1h-1zM14 6h1v1h-1zM16 6h1v1h-1zM15 7h1v1h-1zM6 13h1v1h-1zM5 14h1v1h-1zM8 15h1v1h-1zM7 16h1v1h-1z"/><path fill="#ff2200" stroke="#ff2200" d="M13 7h1v1h-1zM14 8h1v1h-1zM4 15h1v1h-1zM6 17h1v1h-1z"/><path fill="#ff1700" stroke="#ff1700" d="M12 8h1v1h-1zM13 9h1v1h-1zM3 16h1v1h-1zM2 17h1v1h-1zM5 18h1v1h-1zM4 19h1v1h-1z"/><path fill="#ff0b00" stroke="#ff0b00" d="M11 9h1v1h-1zM10 10h1v1h-1zM12 10h1v1h-1zM11 11h1v1h-1zM1 18h1v1h-1zM0 19h1v1h-1zM3 20h1v1h-1zM2 21h1v1h-1z"/><path fill="#ff0000" stroke="#ff0000" d="M9 11h1v1h-1zM10 12h1v1h-1z"/><path fill="#f40000" stroke="#f40000" d="M8 12h1v1h-1zM9 13h1v1h-1z"/><path fill="#ea0000" stroke="#ea0000" d="M7 13h1v1h-1zM8 14h1v1h-1z"/><path fill="#e00000" stroke="#e00000" d="M6 14h1v1h-1zM5 15h1v1h-1zM7 15h1v1h-1zM6 16h1v1h-1z"/><path fill="#d60000" stroke="#d60000" d="M4 16h1v1h-1zM5 17h1v1h-1z"/><path fill="#cc0000" stroke="#cc0000" d="M3 17h1v1h-1zM4 18h1v1h-1z"/><path fill="#c10000" stroke="#c10000" d="M2 18h1v1h-1zM1 19h1v1h-1zM3 19h1v1h-1zM2 20h1v1h-1z"/><path fill="#8c0000" stroke="#8c0000" d="M20 0h2v1h-2zM20 1h2v1h-2zM19 2h1v1h-1zM18 3h1v1h-1zM17 4h1v1h-1zM16 5h1v1h-1zM15 6h1v1h-1zM14 7h1v1h-1zM13 8h1v1h-1zM12 9h1v1h-1zM11 10h1v1h-1zM10 11h1v1h-1zM9 12h1v1h-1zM8 13h1v1h-1zM7 14h1v1h-1zM6 15h1v1h-1zM5 16h1v1h-1zM4 17h1v1h-1zM3 18h1v1h-1zM2 19h1v1h-1zM0 20h2v1h-2zM0 21h2v1h-2z"/></g>
<g stroke-width=".14" transform="translate(486.6 245.6) scale(2.79545 2.77727)"><rect stroke="none" x="0.02" y="0.02" width="21.96" height="21.96" fill="#0072d2"/><path fill="#0000ff" stroke="#0000ff" d="M21 18h1v1h-1zM21 19h1v1h-1zM21 20h1v1h-1zM20 21h2v1h-2z"/><path fill="#0006ff" stroke="#0006ff" d="M0 0h6v1h-6zM0 1h3v1h-3zM21 11h1v1h-1zM21 12h1v1h-1zM20 13h2v1h-2zM20 14h2v1h-2zM20 15h2v1h-2zM19 16h3v1h-3zM19 17h3v1h-3zM18 18h3v1h-3zM18 19h3v1h-3zM18 20h3v1h-3zM17 21h3v1h-3z"/><path fill="#0016ff" stroke="#0016ff" d="M6 0h5v1h-5zM3 1h6v1h-6zM0 2h6v1h-6zM0 3h3v1h-3zM21 9h1v1h-1zM21 10h1v1h-1zM20 11h1v1h-1zM20 12h1v1h-1zM19 13h1v1h-1zM18 14h2v1h-2zM18 15h2v1h-2zM17 16h2v1h-2zM17 17h2v1h-2zM16 18h2v1h-2zM16 19h2v1h-2zM15 20h3v1h-3zM15 21h2v1h-2z"/><path fill="#0026ff" stroke="#0026ff" d="M11 0h3v1h-3zM9 1h2v1h-2zM6 2h3v1h-3zM3 3h4v1h-4zM0 4h4v1h-4zM0 5h2v1h-2zM21 7h1v1h-1zM21 8h1v1h-1zM20 9h1v1h-1zM19 10h2v1h-2zM19 11h1v1h-1zM18 12h2v1h-2zM18 13h1v1h-1zM17 14h1v1h-1zM17 15h1v1h-1zM16 16h1v1h-1zM16 17h1v1h-1zM15 18h1v1h-1zM14 19h2v1h-2zM14 20h1v1h-1zM13 21h2v1h-2z"/><path fill="#0036ff" stroke="#0036ff" d="M14 0h1v1h-1zM11 1h2v1h-2zM9 2h3v1h-3zM7 3h2v1h-2zM4 4h3v1h-3zM2 5h3v1h-3zM0 6h3v1h-3zM21 6h1v1h-1zM0 7h1v1h-1zM20 8h1v1h-1zM19 9h1v1h-1zM18 11h1v1h-1zM17 12h1v1h-1zM17 13h1v1h-1zM16 14h1v1h-1zM16 15h1v1h-1zM15 16h1v1h-1zM14 17h2v1h-2zM14 18h1v1h-1zM13 19h1v1h-1zM13 20h1v1h-1zM12 21h1v1h-1z"/><path fill="#0046ff" stroke="#0046ff" d="M15 0h1v1h-1zM13 1h1v1h-1zM12 2h1v1h-1zM9 3h2v1h-2zM7 4h3v1h-3zM5 5h3v1h-3zM21 5h1v1h-1zM3 6h2v1h-2zM1 7h2v1h-2zM20 7h1v1h-1zM0 8h2v1h-2zM19 8h1v1h-1zM18 10h1v1h-1zM17 11h1v1h-1zM16 13h1v1h-1zM15 14h1v1h-1zM15 15h1v1h-1zM14 16h1v1h-1zM13 17h1v1h-1zM13 18h1v1h-1zM12 19h1v1h-1zM12 20h1v1h-1zM11 21h1v1h-1z"/><path fill="#0056ff" stroke="#0056ff" d="M16 0h1v1h-1zM14 1h1v1h-1zM13 2h1v1h-1zM11 3h1v1h-1zM10 4h1v1h-1zM8 5h1v1h-1zM5 6h3v1h-3zM20 6h1v1h-1zM3 7h3v1h-3zM19 7h1v1h-1zM2 8h2v1h-2zM0 9h2v1h-2zM18 9h1v1h-1zM17 10h1v1h-1zM16 12h1v1h-1zM15 13h1v1h-1zM14 14h1v1h-1zM14 15h1v1h-1zM13 16h1v1h-1zM12 17h1v1h-1zM12 18h1v1h-1zM11 19h1v1h-1zM10 20h2v1h-2zM10 21h1v1h-1z"/><path fill="#0066ff" stroke="#0066ff" d="M15 1h1v1h-1zM14 2h1v1h-1zM12 3h1v1h-1zM11 4h1v1h-1zM9 5h1v1h-1zM8 6h1v1h-1zM6 7h1v1h-1zM4 8h2v1h-2zM18 8h1v1h-1zM2 9h2v1h-2zM17 9h1v1h-1zM0 10h2v1h-2zM16 11h1v1h-1zM15 12h1v1h-1zM14 13h1v1h-1zM13 15h1v1h-1zM12 16h1v1h-1zM11 18h1v1h-1zM10 19h1v1h-1zM9 21h1v1h-1z"/><path fill="#0076ff" stroke="#0076ff" d="M13 3h1v1h-1zM12 4h1v1h-1zM21 4h1v1h-1zM10 5h2v1h-2zM20 5h1v1h-1zM9 6h1v1h-1zM7 7h2v1h-2zM6 8h1v1h-1zM4 9h1v1h-1zM2 10h2v1h-2zM16 10h1v1h-1zM0 11h2v1h-2zM15 11h1v1h-1zM14 12h1v1h-1zM13 14h1v1h-1zM12 15h1v1h-1zM11 17h1v1h-1zM10 18h1v1h-1zM9 20h1v1h-1zM8 21h1v1h-1z"/><path fill="#0086ff" stroke="#0086ff" d="M17 0h1v1h-1zM16 1h1v1h-1zM15 2h1v1h-1zM10 6h1v1h-1zM19 6h1v1h-1zM9 7h1v1h-1zM18 7h1v1h-1zM7 8h1v1h-1zM17 8h1v1h-1zM5 9h2v1h-2zM4 10h1v1h-1zM2 11h2v1h-2zM0 12h2v1h-2zM13 13h1v1h-1zM12 14h1v1h-1zM11 16h1v1h-1zM10 17h1v1h-1zM9 18h1v1h-1zM9 19h1v1h-1zM8 20h1v1h-1zM7 21h1v1h-1z"/><path fill="#0096ff" stroke="#0096ff" d="M14 3h1v1h-1zM21 3h1v1h-1zM13 4h1v1h-1zM8 8h1v1h-1zM7 9h1v1h-1zM16 9h1v1h-1zM5 10h1v1h-1zM15 10h1v1h-1zM4 11h1v1h-1zM14 11h1v1h-1zM2 12h1v1h-1zM0 13h2v1h-2zM11 15h1v1h-1zM10 16h1v1h-1zM8 19h1v1h-1zM7 20h1v1h-1z"/><path fill="#00aaff" stroke="#00aaff" d="M18 0h1v1h-1zM17 1h1v1h-1zM20 4h1v1h-1zM12 5h1v1h-1zM19 5h1v1h-1zM11 6h1v1h-1zM18 6h1v1h-1zM10 7h1v1h-1zM6 10h1v1h-1zM5 11h1v1h-1zM3 12h2v1h-2zM13 12h1v1h-1zM2 13h1v1h-1zM12 13h1v1h-1zM0 14h1v1h-1zM9 17h1v1h-1zM8 18h1v1h-1zM6 21h1v1h-1z"/><path fill="#00bfff" stroke="#00bfff" d="M16 2h1v1h-1zM15 3h1v1h-1zM14 4h1v1h-1zM17 7h1v1h-1zM9 8h1v1h-1zM16 8h1v1h-1zM8 9h1v1h-1zM15 9h1v1h-1zM7 10h1v1h-1zM3 13h1v1h-1zM1 14h2v1h-2zM11 14h1v1h-1zM0 15h1v1h-1zM10 15h1v1h-1zM9 16h1v1h-1zM7 19h1v1h-1zM6 20h1v1h-1zM5 21h1v1h-1z"/><path fill="#00d4ff" stroke="#00d4ff" d="M13 5h1v1h-1zM12 6h1v1h-1zM11 7h1v1h-1zM10 8h1v1h-1zM14 10h1v1h-1zM6 11h1v1h-1zM13 11h1v1h-1zM5 12h1v1h-1zM12 12h1v1h-1zM4 13h1v1h-1zM1 15h1v1h-1zM0 16h1v1h-1zM8 17h1v1h-1zM7 18h1v1h-1zM6 19h1v1h-1z"/><path fill="#00eaff" stroke="#00eaff" d="M9 9h1v1h-1zM8 10h1v1h-1zM7 11h1v1h-1zM11 13h1v1h-1zM3 14h1v1h-1zM10 14h1v1h-1zM2 15h1v1h-1zM9 15h1v1h-1zM1 16h1v1h-1zM5 20h1v1h-1zM4 21h1v1h-1z"/><path fill="#00ffff" stroke="#00ffff" d="M6 12h1v1h-1zM5 13h1v1h-1zM4 14h1v1h-1zM8 16h1v1h-1zM0 17h1v1h-1zM7 17h1v1h-1z"/><path fill="#00ffec" stroke="#00ffec" d="M21 2h1v1h-1zM20 3h1v1h-1zM19 4h1v1h-1zM18 5h1v1h-1zM17 6h1v1h-1zM16 7h1v1h-1zM15 8h1v1h-1zM14 9h1v1h-1zM13 10h1v1h-1zM3 15h1v1h-1zM2 16h1v1h-1zM1 17h1v1h-1zM0 18h1v1h-1zM6 18h1v1h-1zM5 19h1v1h-1zM4 20h1v1h-1z"/><path fill="#00ffda" stroke="#00ffda" d="M19 0h1v1h-1zM18 1h1v1h-1zM17 2h1v1h-1zM16 3h1v1h-1zM15 4h1v1h-1zM14 5h1v1h-1zM13 6h1v1h-1zM12 7h1v1h-1zM11 8h1v1h-1zM10 9h1v1h-1zM12 11h1v1h-1zM11 12h1v1h-1zM10 13h1v1h-1zM3 21h1v1h-1z"/><path fill="#00ffc7" stroke="#00ffc7" d="M9 10h1v1h-1zM8 11h1v1h-1zM7 12h1v1h-1zM9 14h1v1h-1zM8 15h1v1h-1zM7 16h1v1h-1z"/><path fill="#00ffb5" stroke="#00ffb5" d="M6 13h1v1h-1zM5 14h1v1h-1zM6 17h1v1h-1zM5 18h1v1h-1zM4 19h1v1h-1z"/><path fill="#00ffa2" stroke="#00ffa2" d="M4 15h1v1h-1zM3 16h1v1h-1zM2 17h1v1h-1zM3 20h1v1h-1zM2 21h1v1h-1z"/><path fill="#00ff8e" stroke="#00ff8e" d="M1 18h1v1h-1zM0 19h1v1h-1z"/><path fill="#00ff52" stroke="#00ff52" d="M11 9h1v1h-1zM10 10h1v1h-1zM12 10h1v1h-1zM11 11h1v1h-1z"/><path fill="#00ff3d" stroke="#00ff3d" d="M12 8h1v1h-1zM13 9h1v1h-1zM9 11h1v1h-1zM10 12h1v1h-1z"/><path fill="#00ff28" stroke="#00ff28" d="M13 7h1v1h-1zM14 8h1v1h-1zM8 12h1v1h-1zM9 13h1v1h-1z"/><path fill="#00ff14" stroke="#00ff14" d="M14 6h1v1h-1zM15 7h1v1h-1zM7 13h1v1h-1zM8 14h1v1h-1z"/><path fill="#00ff00" stroke="#00ff00" d="M15 5h1v1h-1zM16 6h1v1h-1zM6 14h1v1h-1zM7 15h1v1h-1z"/><path fill="#04ff00" stroke="#04ff00" d="M16 4h1v1h-1zM17 5h1v1h-1zM5 15h1v1h-1zM6 16h1v1h-1z"/><path fill="#07ff00" stroke="#07ff00" d="M17 3h1v1h-1zM18 4h1v1h-1zM4 16h1v1h-1zM5 17h1v1h-1z"/><path fill="#0bff00" stroke="#0bff00" d="M20 0h1v1h-1zM19 1h1v1h-1zM21 1h1v1h-1zM18 2h1v1h-1zM20 2h1v1h-1zM19 3h1v1h-1zM3 17h1v1h-1zM2 18h1v1h-1zM4 18h1v1h-1zM1 19h1v1h-1zM3 19h1v1h-1zM0 20h1v1h-1zM2 20h1v1h-1zM1 21h1v1h-1z"/><path fill="#8c0000" stroke="#8c0000" d="M21 0h1v1h-1zM20 1h1v1h-1zM19 2h1v1h-1zM18 3h1v1h-1zM17 4h1v1h-1zM16 5h1v1h-1zM15 6h1v1h-1zM14 7h1v1h-1zM13 8h1v1h-1zM12 9h1v1h-1zM11 10h1v1h-1zM10 11h1v1h-1zM9 12h1v1h-1zM8 13h1v1h-1zM7 14h1v1h-1zM6 15h1v1h-1zM5 16h1v1h-1zM4 17h1v1h-1zM3 18h1v1h-1zM2 19h1v1h-1zM1 20h1v1h-1zM0 21h1v1h-1z"/></g>
<g stroke-width=".14" transform="translate(554 245.6) scale(2.79545 2.77727)"><rect stroke="none" x="0.02" y="0.02" width="21.96" height="21.96" fill="#00c8b7"/><path fill="#0036ff" stroke="#0036ff" d="M0 0h1v1h-1z"/><path fill="#0046ff" stroke="#0046ff" d="M1 0h3v1h-3zM0 1h2v1h-2zM21 21h1v1h-1z"/><path fill="#0056ff" stroke="#0056ff" d="M4 0h4v1h-4zM2 1h3v1h-3zM0 2h3v1h-3zM21 16h1v1h-1zM21 17h1v1h-1zM21 18h1v1h-1zM21 19h1v1h-1zM20 20h2v1h-2zM20 21h1v1h-1z"/><path fill="#0066ff" stroke="#0066ff" d="M8 0h2v1h-2zM5 1h4v1h-4zM3 2h3v1h-3zM0 3h3v1h-3zM0 4h1v1h-1zM21 12h1v1h-1zM21 13h1v1h-1zM21 14h1v1h-1zM21 15h1v1h-1zM20 16h1v1h-1zM20 17h1v1h-1zM20 18h1v1h-1zM19 19h2v1h-2zM19 20h1v1h-1zM19 21h1v1h-1z"/><path fill="#0076ff" stroke="#0076ff" d="M10 0h1v1h-1zM9 1h1v1h-1zM6 2h2v1h-2zM3 3h3v1h-3zM1 4h2v1h-2zM0 5h1v1h-1zM21 11h1v1h-1zM20 13h1v1h-1zM20 14h1v1h-1zM20 15h1v1h-1zM19 16h1v1h-1zM19 17h1v1h-1zM19 18h1v1h-1zM18 19h1v1h-1zM18 20h1v1h-1zM17 21h2v1h-2z"/><path fill="#0086ff" stroke="#0086ff" d="M11 0h2v1h-2zM10 1h1v1h-1zM8 2h1v1h-1zM6 3h1v1h-1zM3 4h3v1h-3zM1 5h2v1h-2zM0 6h1v1h-1zM21 9h1v1h-1zM21 10h1v1h-1zM20 11h1v1h-1zM20 12h1v1h-1zM19 13h1v1h-1zM19 14h1v1h-1zM19 15h1v1h-1zM18 16h1v1h-1zM18 17h1v1h-1zM18 18h1v1h-1zM17 19h1v1h-1zM17 20h1v1h-1zM16 21h1v1h-1z"/><path fill="#0096ff" stroke="#0096ff" d="M13 0h1v1h-1zM11 1h1v1h-1zM9 2h2v1h-2zM7 3h2v1h-2zM6 4h1v1h-1zM3 5h2v1h-2zM1 6h2v1h-2zM0 7h1v1h-1zM21 8h1v1h-1zM20 9h1v1h-1zM20 10h1v1h-1zM19 11h1v1h-1zM19 12h1v1h-1zM18 13h1v1h-1zM18 14h1v1h-1zM18 15h1v1h-1zM17 16h1v1h-1zM17 17h1v1h-1zM17 18h1v1h-1zM16 19h1v1h-1zM16 20h1v1h-1z"/><path fill="#00aaff" stroke="#00aaff" d="M14 0h1v1h-1zM12 1h1v1h-1zM11 2h1v1h-1zM9 3h1v1h-1zM7 4h1v1h-1zM5 5h2v1h-2zM3 6h2v1h-2zM1 7h2v1h-2zM21 7h1v1h-1zM0 8h1v1h-1zM19 10h1v1h-1zM18 12h1v1h-1zM17 14h1v1h-1zM17 15h1v1h-1zM16 16h1v1h-1zM16 17h1v1h-1zM16 18h1v1h-1zM15 20h1v1h-1zM15 21h1v1h-1z"/><path fill="#00bfff" stroke="#00bfff" d="M13 1h1v1h-1zM12 2h1v1h-1zM10 3h1v1h-1zM8 4h2v1h-2zM7 5h1v1h-1zM5 6h1v1h-1zM21 6h1v1h-1zM3 7h1v1h-1zM1 8h1v1h-1zM20 8h1v1h-1zM19 9h1v1h-1zM18 11h1v1h-1zM17 12h1v1h-1zM17 13h1v1h-1zM16 14h1v1h-1zM16 15h1v1h-1zM15 16h1v1h-1zM15 17h1v1h-1zM15 18h1v1h-1zM14 19h2v1h-2zM14 20h1v1h-1zM14 21h1v1h-1z"/><path fill="#00d4ff" stroke="#00d4ff" d="M15 0h1v1h-1zM14 1h1v1h-1zM11 3h1v1h-1zM10 4h1v1h-1zM8 5h1v1h-1zM6 6h2v1h-2zM4 7h2v1h-2zM20 7h1v1h-1zM2 8h2v1h-2zM19 8h1v1h-1zM0 9h2v1h-2zM18 10h1v1h-1zM17 11h1v1h-1zM16 13h1v1h-1zM15 15h1v1h-1zM14 17h1v1h-1zM14 18h1v1h-1zM13 19h1v1h-1zM13 20h1v1h-1zM13 21h1v1h-1z"/><path fill="#00eaff" stroke="#00eaff" d="M16 0h1v1h-1zM15 1h1v1h-1zM13 2h1v1h-1zM12 3h1v1h-1zM9 5h1v1h-1zM21 5h1v1h-1zM8 6h1v1h-1zM20 6h1v1h-1zM6 7h1v1h-1zM4 8h2v1h-2zM2 9h2v1h-2zM18 9h1v1h-1zM0 10h2v1h-2zM16 12h1v1h-1zM15 14h1v1h-1zM14 15h1v1h-1zM14 16h1v1h-1zM13 17h1v1h-1zM13 18h1v1h-1zM12 19h1v1h-1zM12 20h1v1h-1zM12 21h1v1h-1z"/><path fill="#00ffff" stroke="#00ffff" d="M17 0h1v1h-1zM14 2h1v1h-1zM13 3h1v1h-1zM11 4h1v1h-1zM21 4h1v1h-1zM10 5h1v1h-1zM7 7h1v1h-1zM19 7h1v1h-1zM6 8h1v1h-1zM18 8h1v1h-1zM4 9h1v1h-1zM2 10h2v1h-2zM17 10h1v1h-1zM0 11h2v1h-2zM16 11h1v1h-1zM15 13h1v1h-1zM14 14h1v1h-1zM13 16h1v1h-1zM12 17h1v1h-1zM12 18h1v1h-1zM11 19h1v1h-1zM11 20h1v1h-1zM10 21h2v1h-2z"/><path fill="#00ffec" stroke="#00ffec" d="M16 1h1v1h-1zM15 2h1v1h-1zM21 3h1v1h-1zM12 4h1v1h-1zM11 5h1v1h-1zM20 5h1v1h-1zM9 6h1v1h-1zM19 6h1v1h-1zM8 7h1v1h-1zM5 9h1v1h-1zM17 9h1v1h-1zM4 10h1v1h-1zM2 11h1v1h-1zM0 12h2v1h-2zM15 12h1v1h-1zM14 13h1v1h-1zM13 15h1v1h-1zM12 16h1v1h-1zM11 18h1v1h-1zM10 20h1v1h-1z"/><path fill="#00ffda" stroke="#00ffda" d="M18 0h1v1h-1zM17 1h1v1h-1zM14 3h1v1h-1zM13 4h1v1h-1zM20 4h1v1h-1zM10 6h1v1h-1zM9 7h1v1h-1zM18 7h1v1h-1zM7 8h1v1h-1zM17 8h1v1h-1zM6 9h1v1h-1zM5 10h1v1h-1zM16 10h1v1h-1zM3 11h1v1h-1zM15 11h1v1h-1zM2 12h1v1h-1zM0 13h1v1h-1zM13 14h1v1h-1zM11 17h1v1h-1zM10 19h1v1h-1zM9 20h1v1h-1zM9 21h1v1h-1z"/><path fill="#00ffc7" stroke="#00ffc7" d="M16 2h1v1h-1zM12 5h1v1h-1zM19 5h1v1h-1zM11 6h1v1h-1zM18 6h1v1h-1zM8 8h1v1h-1zM7 9h1v1h-1zM16 9h1v1h-1zM4 11h1v1h-1zM3 12h1v1h-1zM14 12h1v1h-1zM1 13h1v1h-1zM13 13h1v1h-1zM0 14h1v1h-1zM12 15h1v1h-1zM11 16h1v1h-1zM10 18h1v1h-1zM9 19h1v1h-1zM8 21h1v1h-1z"/><path fill="#00ffb5" stroke="#00ffb5" d="M15 3h1v1h-1zM14 4h1v1h-1zM10 7h1v1h-1zM17 7h1v1h-1zM9 8h1v1h-1zM6 10h1v1h-1zM15 10h1v1h-1zM5 11h1v1h-1zM14 11h1v1h-1zM4 12h1v1h-1zM2 13h1v1h-1zM1 14h1v1h-1zM12 14h1v1h-1zM10 17h1v1h-1zM9 18h1v1h-1zM8 20h1v1h-1zM7 21h1v1h-1z"/><path fill="#00ffa2" stroke="#00ffa2" d="M13 5h1v1h-1zM12 6h1v1h-1zM16 8h1v1h-1zM8 9h1v1h-1zM15 9h1v1h-1zM7 10h1v1h-1zM13 12h1v1h-1zM3 13h1v1h-1zM12 13h1v1h-1zM2 14h1v1h-1zM0 15h1v1h-1zM11 15h1v1h-1zM10 16h1v1h-1zM8 19h1v1h-1z"/><path fill="#00ff8e" stroke="#00ff8e" d="M11 7h1v1h-1zM10 8h1v1h-1zM14 10h1v1h-1zM6 11h1v1h-1zM13 11h1v1h-1zM5 12h1v1h-1zM11 14h1v1h-1zM1 15h1v1h-1zM0 16h1v1h-1zM9 17h1v1h-1zM8 18h1v1h-1zM7 20h1v1h-1zM6 21h1v1h-1z"/><path fill="#00ff7a" stroke="#00ff7a" d="M20 3h1v1h-1zM9 9h1v1h-1zM8 10h1v1h-1zM12 12h1v1h-1zM4 13h1v1h-1zM3 14h1v1h-1zM10 15h1v1h-1zM9 16h1v1h-1zM7 19h1v1h-1z"/><path fill="#00ff66" stroke="#00ff66" d="M18 1h1v1h-1zM17 2h1v1h-1zM21 2h1v1h-1zM19 4h1v1h-1zM18 5h1v1h-1zM17 6h1v1h-1zM7 11h1v1h-1zM6 12h1v1h-1zM11 13h1v1h-1zM10 14h1v1h-1zM2 15h1v1h-1zM1 16h1v1h-1zM8 17h1v1h-1zM7 18h1v1h-1zM6 20h1v1h-1zM5 21h1v1h-1z"/><path fill="#00ff52" stroke="#00ff52" d="M19 0h1v1h-1zM16 3h1v1h-1zM15 4h1v1h-1zM16 7h1v1h-1zM15 8h1v1h-1zM5 13h1v1h-1zM4 14h1v1h-1zM9 15h1v1h-1zM0 17h1v1h-1zM6 19h1v1h-1zM5 20h1v1h-1z"/><path fill="#00ff3d" stroke="#00ff3d" d="M14 5h1v1h-1zM13 6h1v1h-1zM12 7h1v1h-1zM14 9h1v1h-1zM13 10h1v1h-1zM3 15h1v1h-1zM2 16h1v1h-1zM8 16h1v1h-1zM7 17h1v1h-1zM4 21h1v1h-1z"/><path fill="#00ff28" stroke="#00ff28" d="M11 8h1v1h-1zM10 9h1v1h-1zM12 11h1v1h-1zM11 12h1v1h-1zM1 17h1v1h-1zM6 18h1v1h-1zM5 19h1v1h-1z"/><path fill="#00ff14" stroke="#00ff14" d="M9 10h1v1h-1zM8 11h1v1h-1zM10 13h1v1h-1zM9 14h1v1h-1zM0 18h1v1h-1zM4 20h1v1h-1z"/><path fill="#00ff00" stroke="#00ff00" d="M7 12h1v1h-1zM6 13h1v1h-1zM5 14h1v1h-1zM8 15h1v1h-1zM7 16h1v1h-1zM3 21h1v1h-1z"/><path fill="#04ff00" stroke="#04ff00" d="M4 15h1v1h-1zM3 16h1v1h-1zM6 17h1v1h-1zM5 18h1v1h-1zM4 19h1v1h-1z"/><path fill="#07ff00" stroke="#07ff00" d="M2 17h1v1h-1zM1 18h1v1h-1zM0 19h1v1h-1zM3 20h1v1h-1zM2 21h1v1h-1z"/><path fill="#12ff00" stroke="#12ff00" d="M15 5h1v1h-1zM14 6h1v1h-1zM16 6h1v1h-1zM13 7h1v1h-1zM15 7h1v1h-1zM12 8h1v1h-1zM14 8h1v1h-1zM13 9h1v1h-1z"/><path fill="#15ff00" stroke="#15ff00" d="M18 2h1v1h-1zM17 3h1v1h-1zM19 3h1v1h-1zM16 4h1v1h-1zM18 4h1v1h-1zM17 5h1v1h-1zM11 9h1v1h-1zM12 10h1v1h-1z"/><path fill="#19ff00" stroke="#19ff00" d="M10 10h1v1h-1zM9 11h1v1h-1zM11 11h1v1h-1zM8 12h1v1h-1zM10 12h1v1h-1zM7 13h1v1h-1zM9 13h1v1h-1zM8 14h1v1h-1z"/><path fill="#22ff00" stroke="#22ff00" d="M19 1h1v1h-1zM20 2h1v1h-1zM6 14h1v1h-1zM5 15h1v1h-1zM7 15h1v1h-1zM4 16h1v1h-1zM6 16h1v1h-1zM3 17h1v1h-1zM5 17h1v1h-1zM2 18h1v1h-1zM4 18h1v1h-1zM1 19h1v1h-1zM3 19h1v1h-1zM0 20h1v1h-1zM2 20h1v1h-1zM1 21h1v1h-1z"/><path fill="#d5ff00" stroke="#d5ff00" d="M20 0h1v1h-1zM21 1h1v1h-1z"/><path fill="#8c0000" stroke="#8c0000" d="M21 0h1v1h-1zM20 1h1v1h-1zM19 2h1v1h-1zM18 3h1v1h-1zM17 4h1v1h-1zM16 5h1v1h-1zM15 6h1v1h-1zM14 7h1v1h-1zM13 8h1v1h-1zM12 9h1v1h-1zM11 10h1v1h-1zM10 11h1v1h-1zM9 12h1v1h-1zM8 13h1v1h-1zM7 14h1v1h-1zM6 15h1v1h-1zM5 16h1v1h-1zM4 17h1v1h-1zM3 18h1v1h-1zM2 19h1v1h-1zM1 20h1v1h-1zM0 21h1v1h-1z"/></g>
<g stroke-width=".14" transform="translate(622.6 245.6) scale(2.79545 2.77727)"><rect stroke="none" x="0.02" y="0.02" width="21.96" height="21.96" fill="#11c814"/><path fill="#0036ff" stroke="#0036ff" d="M0 0h1v1h-1z"/><path fill="#0056ff" stroke="#0056ff" d="M1 0h1v1h-1zM0 1h1v1h-1z"/><path fill="#0066ff" stroke="#0066ff" d="M2 0h1v1h-1zM1 1h1v1h-1zM0 2h1v1h-1z"/><path fill="#0076ff" stroke="#0076ff" d="M3 0h1v1h-1zM2 1h1v1h-1z"/><path fill="#0086ff" stroke="#0086ff" d="M4 0h1v1h-1zM1 2h1v1h-1zM21 21h1v1h-1z"/><path fill="#0096ff" stroke="#0096ff" d="M3 1h1v1h-1zM2 2h1v1h-1zM0 3h1v1h-1zM21 20h1v1h-1z"/><path fill="#00aaff" stroke="#00aaff" d="M5 0h1v1h-1zM4 1h1v1h-1zM1 3h1v1h-1zM20 21h1v1h-1z"/><path fill="#00bfff" stroke="#00bfff" d="M3 2h1v1h-1zM0 4h1v1h-1zM21 19h1v1h-1zM20 20h1v1h-1zM19 21h1v1h-1z"/><path fill="#00d4ff" stroke="#00d4ff" d="M6 0h1v1h-1zM5 1h1v1h-1zM2 3h1v1h-1zM1 4h1v1h-1zM21 18h1v1h-1zM20 19h1v1h-1zM19 20h1v1h-1z"/><path fill="#00eaff" stroke="#00eaff" d="M4 2h1v1h-1zM3 3h1v1h-1zM0 5h1v1h-1zM21 17h1v1h-1zM20 18h1v1h-1zM18 21h1v1h-1z"/><path fill="#00ffff" stroke="#00ffff" d="M7 0h1v1h-1zM6 1h1v1h-1zM2 4h1v1h-1zM21 16h1v1h-1zM19 19h1v1h-1zM18 20h1v1h-1zM17 21h1v1h-1z"/><path fill="#00ffec" stroke="#00ffec" d="M5 2h1v1h-1zM4 3h1v1h-1zM1 5h1v1h-1zM0 6h1v1h-1zM20 17h1v1h-1zM19 18h1v1h-1zM18 19h1v1h-1z"/><path fill="#00ffda" stroke="#00ffda" d="M8 0h1v1h-1zM7 1h1v1h-1zM3 4h1v1h-1zM2 5h1v1h-1zM21 15h1v1h-1zM20 16h1v1h-1zM17 20h1v1h-1zM16 21h1v1h-1z"/><path fill="#00ffc7" stroke="#00ffc7" d="M6 2h1v1h-1zM5 3h1v1h-1zM1 6h1v1h-1zM21 14h1v1h-1zM19 17h1v1h-1zM18 18h1v1h-1zM17 19h1v1h-1z"/><path fill="#00ffb5" stroke="#00ffb5" d="M9 0h1v1h-1zM8 1h1v1h-1zM4 4h1v1h-1zM3 5h1v1h-1zM0 7h1v1h-1zM20 15h1v1h-1zM19 16h1v1h-1zM18 17h1v1h-1zM16 20h1v1h-1zM15 21h1v1h-1z"/><path fill="#00ffa2" stroke="#00ffa2" d="M7 2h1v1h-1zM6 3h1v1h-1zM2 6h1v1h-1zM1 7h1v1h-1zM21 13h1v1h-1zM20 14h1v1h-1zM17 18h1v1h-1zM16 19h1v1h-1zM15 20h1v1h-1z"/><path fill="#00ff8e" stroke="#00ff8e" d="M10 0h1v1h-1zM9 1h1v1h-1zM5 4h1v1h-1zM4 5h1v1h-1zM0 8h1v1h-1zM19 15h1v1h-1zM18 16h1v1h-1zM17 17h1v1h-1zM14 21h1v1h-1z"/><path fill="#00ff7a" stroke="#00ff7a" d="M8 2h1v1h-1zM7 3h1v1h-1zM3 6h1v1h-1zM2 7h1v1h-1zM21 12h1v1h-1zM20 13h1v1h-1zM16 18h1v1h-1zM15 19h1v1h-1z"/><path fill="#00ff66" stroke="#00ff66" d="M11 0h1v1h-1zM6 4h1v1h-1zM5 5h1v1h-1zM1 8h1v1h-1zM0 9h1v1h-1zM19 14h1v1h-1zM18 15h1v1h-1zM17 16h1v1h-1zM14 20h1v1h-1zM13 21h1v1h-1z"/><path fill="#00ff52" stroke="#00ff52" d="M10 1h1v1h-1zM9 2h1v1h-1zM4 6h1v1h-1zM3 7h1v1h-1zM21 11h1v1h-1zM20 12h1v1h-1zM16 17h1v1h-1zM15 18h1v1h-1z"/><path fill="#00ff3d" stroke="#00ff3d" d="M8 3h1v1h-1zM7 4h1v1h-1zM2 8h1v1h-1zM1 9h1v1h-1zM19 13h1v1h-1zM18 14h1v1h-1zM17 15h1v1h-1zM14 19h1v1h-1zM13 20h1v1h-1z"/><path fill="#00ff28" stroke="#00ff28" d="M12 0h1v1h-1zM11 1h1v1h-1zM6 5h1v1h-1zM5 6h1v1h-1zM0 10h1v1h-1zM21 10h1v1h-1zM20 11h1v1h-1zM19 12h1v1h-1zM16 16h1v1h-1zM15 17h1v1h-1zM12 21h1v1h-1z"/><path fill="#00ff14" stroke="#00ff14" d="M10 2h1v1h-1zM9 3h1v1h-1zM8 4h1v1h-1zM4 7h1v1h-1zM3 8h1v1h-1zM21 9h1v1h-1zM18 13h1v1h-1zM17 14h1v1h-1zM16 15h1v1h-1zM14 18h1v1h-1zM13 19h1v1h-1z"/><path fill="#00ff00" stroke="#00ff00" d="M13 0h1v1h-1zM7 5h1v1h-1zM6 6h1v1h-1zM5 7h1v1h-1zM2 9h1v1h-1zM1 10h1v1h-1zM20 10h1v1h-1zM0 11h1v1h-1zM19 11h1v1h-1zM18 12h1v1h-1zM15 16h1v1h-1zM14 17h1v1h-1zM13 18h1v1h-1zM12 20h1v1h-1zM11 21h1v1h-1z"/><path fill="#04ff00" stroke="#04ff00" d="M12 1h1v1h-1zM11 2h1v1h-1zM10 3h1v1h-1zM4 8h1v1h-1zM21 8h1v1h-1zM3 9h1v1h-1zM17 13h1v1h-1zM16 14h1v1h-1zM15 15h1v1h-1zM14 16h1v1h-1zM12 19h1v1h-1zM11 20h1v1h-1zM10 21h1v1h-1z"/><path fill="#07ff00" stroke="#07ff00" d="M9 4h1v1h-1zM8 5h1v1h-1zM7 6h1v1h-1zM20 9h1v1h-1zM2 10h1v1h-1zM19 10h1v1h-1zM1 11h1v1h-1zM18 11h1v1h-1zM0 12h1v1h-1zM17 12h1v1h-1zM13 17h1v1h-1zM12 18h1v1h-1zM11 19h1v1h-1z"/><path fill="#0bff00" stroke="#0bff00" d="M14 0h1v1h-1zM13 1h1v1h-1zM12 2h1v1h-1zM11 3h1v1h-1zM6 7h1v1h-1zM21 7h1v1h-1zM5 8h1v1h-1zM4 9h1v1h-1zM3 10h1v1h-1zM16 13h1v1h-1zM15 14h1v1h-1zM14 15h1v1h-1zM13 16h1v1h-1zM12 17h1v1h-1zM10 20h1v1h-1zM9 21h1v1h-1z"/><path fill="#0eff00" stroke="#0eff00" d="M10 4h1v1h-1zM9 5h1v1h-1zM8 6h1v1h-1zM7 7h1v1h-1zM20 8h1v1h-1zM19 9h1v1h-1zM18 10h1v1h-1zM2 11h1v1h-1zM17 11h1v1h-1zM1 12h1v1h-1zM0 13h1v1h-1zM11 18h1v1h-1zM10 19h1v1h-1zM9 20h1v1h-1zM8 21h1v1h-1z"/><path fill="#12ff00" stroke="#12ff00" d="M15 0h1v1h-1zM14 1h1v1h-1zM6 8h1v1h-1zM5 9h1v1h-1zM4 10h1v1h-1zM3 11h1v1h-1zM16 12h1v1h-1zM15 13h1v1h-1zM14 14h1v1h-1zM13 15h1v1h-1z"/><path fill="#15ff00" stroke="#15ff00" d="M13 2h1v1h-1zM12 3h1v1h-1zM11 4h1v1h-1zM10 5h1v1h-1zM21 6h1v1h-1zM2 12h1v1h-1zM1 13h1v1h-1zM0 14h1v1h-1zM12 16h1v1h-1zM11 17h1v1h-1zM10 18h1v1h-1zM9 19h1v1h-1z"/><path fill="#19ff00" stroke="#19ff00" d="M16 0h1v1h-1zM9 6h1v1h-1zM8 7h1v1h-1zM20 7h1v1h-1zM7 8h1v1h-1zM19 8h1v1h-1zM18 9h1v1h-1zM17 10h1v1h-1zM16 11h1v1h-1zM8 20h1v1h-1zM7 21h1v1h-1z"/><path fill="#22ff00" stroke="#22ff00" d="M15 1h1v1h-1zM14 2h1v1h-1zM13 3h1v1h-1zM6 9h1v1h-1zM5 10h1v1h-1zM4 11h1v1h-1zM15 12h1v1h-1zM14 13h1v1h-1zM13 14h1v1h-1zM12 15h1v1h-1z"/><path fill="#2cff00" stroke="#2cff00" d="M12 4h1v1h-1zM11 5h1v1h-1zM21 5h1v1h-1zM10 6h1v1h-1zM3 12h1v1h-1zM2 13h1v1h-1zM1 14h1v1h-1zM11 16h1v1h-1zM10 17h1v1h-1zM9 18h1v1h-1zM8 19h1v1h-1zM7 20h1v1h-1z"/><path fill="#36ff00" stroke="#36ff00" d="M20 6h1v1h-1zM9 7h1v1h-1zM19 7h1v1h-1zM8 8h1v1h-1zM18 8h1v1h-1zM7 9h1v1h-1zM0 15h1v1h-1zM6 21h1v1h-1z"/><path fill="#40ff00" stroke="#40ff00" d="M17 9h1v1h-1zM6 10h1v1h-1zM16 10h1v1h-1zM5 11h1v1h-1zM15 11h1v1h-1z"/><path fill="#4bff00" stroke="#4bff00" d="M4 12h1v1h-1zM14 12h1v1h-1zM3 13h1v1h-1zM13 13h1v1h-1zM2 14h1v1h-1zM12 14h1v1h-1zM11 15h1v1h-1z"/><path fill="#56ff00" stroke="#56ff00" d="M17 0h1v1h-1zM16 1h1v1h-1zM1 15h1v1h-1zM0 16h1v1h-1zM10 16h1v1h-1zM9 17h1v1h-1zM8 18h1v1h-1z"/><path fill="#61ff00" stroke="#61ff00" d="M15 2h1v1h-1zM14 3h1v1h-1zM21 4h1v1h-1zM7 19h1v1h-1zM6 20h1v1h-1zM5 21h1v1h-1z"/><path fill="#6cff00" stroke="#6cff00" d="M13 4h1v1h-1zM12 5h1v1h-1zM20 5h1v1h-1zM19 6h1v1h-1zM18 7h1v1h-1z"/><path fill="#77ff00" stroke="#77ff00" d="M11 6h1v1h-1zM10 7h1v1h-1zM17 8h1v1h-1zM16 9h1v1h-1z"/><path fill="#82ff00" stroke="#82ff00" d="M9 8h1v1h-1zM8 9h1v1h-1zM15 10h1v1h-1zM14 11h1v1h-1zM13 12h1v1h-1z"/><path fill="#8eff00" stroke="#8eff00" d="M7 10h1v1h-1zM6 11h1v1h-1zM12 13h1v1h-1zM11 14h1v1h-1zM10 15h1v1h-1z"/><path fill="#9bff00" stroke="#9bff00" d="M18 0h1v1h-1zM17 1h1v1h-1zM5 12h1v1h-1zM4 13h1v1h-1zM9 16h1v1h-1zM8 17h1v1h-1z"/><path fill="#a7ff00" stroke="#a7ff00" d="M16 2h1v1h-1zM3 14h1v1h-1zM2 15h1v1h-1zM1 16h1v1h-1zM7 18h1v1h-1zM6 19h1v1h-1zM5 20h1v1h-1z"/><path fill="#b3ff00" stroke="#b3ff00" d="M15 3h1v1h-1zM21 3h1v1h-1zM20 4h1v1h-1zM0 17h1v1h-1zM4 21h1v1h-1z"/><path fill="#bfff00" stroke="#bfff00" d="M14 4h1v1h-1zM19 5h1v1h-1zM18 6h1v1h-1z"/><path fill="#caff00" stroke="#caff00" d="M13 5h1v1h-1z"/><path fill="#d5ff00" stroke="#d5ff00" d="M12 6h1v1h-1zM11 7h1v1h-1zM17 7h1v1h-1zM10 8h1v1h-1zM9 9h1v1h-1z"/><path fill="#e0ff00" stroke="#e0ff00" d="M16 8h1v1h-1zM15 9h1v1h-1zM8 10h1v1h-1zM14 10h1v1h-1zM13 11h1v1h-1zM12 12h1v1h-1z"/><path fill="#ebff00" stroke="#ebff00" d="M7 11h1v1h-1zM11 13h1v1h-1zM10 14h1v1h-1z"/><path fill="#f6ff00" stroke="#f6ff00" d="M19 0h1v1h-1zM6 12h1v1h-1zM9 15h1v1h-1z"/><path fill="#fffc00" stroke="#fffc00" d="M18 1h1v1h-1zM5 13h1v1h-1zM4 14h1v1h-1zM3 15h1v1h-1zM2 16h1v1h-1zM8 16h1v1h-1zM1 17h1v1h-1zM0 18h1v1h-1zM6 18h1v1h-1zM5 19h1v1h-1zM4 20h1v1h-1zM3 21h1v1h-1z"/><path fill="#ffee00" stroke="#ffee00" d="M17 2h1v1h-1zM21 2h1v1h-1zM7 17h1v1h-1z"/><path fill="#ffe000" stroke="#ffe000" d="M20 3h1v1h-1z"/><path fill="#ffd200" stroke="#ffd200" d="M16 3h1v1h-1zM19 4h1v1h-1z"/><path fill="#ffc400" stroke="#ffc400" d="M18 5h1v1h-1z"/><path fill="#ffa800" stroke="#ffa800" d="M15 4h1v1h-1z"/><path fill="#ff9a00" stroke="#ff9a00" d="M17 6h1v1h-1z"/><path fill="#ff7f00" stroke="#ff7f00" d="M14 5h1v1h-1zM3 20h1v1h-1zM2 21h1v1h-1z"/><path fill="#ff7300" stroke="#ff7300" d="M16 7h1v1h-1zM10 9h1v1h-1zM9 10h1v1h-1zM12 11h1v1h-1zM11 12h1v1h-1zM4 19h1v1h-1z"/><path fill="#ff6700" stroke="#ff6700" d="M11 8h1v1h-1zM13 10h1v1h-1zM8 11h1v1h-1zM10 13h1v1h-1zM2 17h1v1h-1zM1 18h1v1h-1zM0 19h1v1h-1z"/><path fill="#ff5c00" stroke="#ff5c00" d="M13 6h1v1h-1zM12 7h1v1h-1zM15 8h1v1h-1zM14 9h1v1h-1zM5 18h1v1h-1z"/><path fill="#ff5000" stroke="#ff5000" d="M7 12h1v1h-1zM9 14h1v1h-1zM3 16h1v1h-1z"/><path fill="#ff3900" stroke="#ff3900" d="M8 15h1v1h-1zM6 17h1v1h-1z"/><path fill="#ff2e00" stroke="#ff2e00" d="M19 1h1v1h-1zM20 2h1v1h-1zM6 13h1v1h-1zM4 15h1v1h-1z"/><path fill="#ff2200" stroke="#ff2200" d="M7 16h1v1h-1z"/><path fill="#ff1700" stroke="#ff1700" d="M18 2h1v1h-1zM19 3h1v1h-1zM5 14h1v1h-1z"/><path fill="#f40000" stroke="#f40000" d="M17 3h1v1h-1zM18 4h1v1h-1z"/><path fill="#e00000" stroke="#e00000" d="M1 19h1v1h-1zM2 20h1v1h-1z"/><path fill="#cc0000" stroke="#cc0000" d="M2 18h1v1h-1zM3 19h1v1h-1z"/><path fill="#c10000" stroke="#c10000" d="M16 4h1v1h-1zM17 5h1v1h-1z"/><path fill="#a20000" stroke="#a20000" d="M3 17h1v1h-1zM4 18h1v1h-1z"/><path fill="#8c0000" stroke="#8c0000" d="M20 0h2v1h-2zM20 1h2v1h-2zM19 2h1v1h-1zM18 3h1v1h-1zM17 4h1v1h-1zM15 5h2v1h-2zM14 6h3v1h-3zM13 7h3v1h-3zM12 8h3v1h-3zM11 9h3v1h-3zM10 10h3v1h-3zM9 11h3v1h-3zM8 12h3v1h-3zM7 13h3v1h-3zM6 14h3v1h-3zM5 15h3v1h-3zM4 16h3v1h-3zM4 17h2v1h-2zM3 18h1v1h-1zM2 19h1v1h-1zM0 20h2v1h-2zM0 21h2v1h-2z"/></g>
</svg>
<svg width="685" height="377" viewBox="0 0 685 377"><defs><linearGradient id="cb" x1="0" y1="1" x2="0" y2="0"><stop offset="0" stop-color="#0000ff"/><stop offset="0.03" stop-color="#0000ff"/><stop offset="0.06" stop-color="#0000ff"/><stop offset="0.09" stop-color="#0020ff"/><stop offset="0.12" stop-color="#004eff"/><stop offset="0.16" stop-color="#007dff"/><stop offset="0.19" stop-color="#00b1ff"/><stop offset="0.22" stop-color="#00efff"/><stop offset="0.25" stop-color="#00ffd7"/><stop offset="0.28" stop-color="#00ffa0"/><stop offset="0.31" stop-color="#00ff66"/><stop offset="0.34" stop-color="#00ff2b"/><stop offset="0.38" stop-color="#03ff00"/><stop offset="0.41" stop-color="#0dff00"/><stop offset="0.44" stop-color="#18ff00"/><stop offset="0.47" stop-color="#31ff00"/><stop offset="0.5" stop-color="#50ff00"/><stop offset="0.53" stop-color="#70ff00"/><stop offset="0.56" stop-color="#92ff00"/><stop offset="0.59" stop-color="#b5ff00"/><stop offset="0.62" stop-color="#d6ff00"/><stop offset="0.66" stop-color="#f6ff00"/><stop offset="0.69" stop-color="#ffe200"/><stop offset="0.72" stop-color="#ffb900"/><stop offset="0.75" stop-color="#ff9000"/><stop offset="0.78" stop-color="#ff6c00"/><stop offset="0.81" stop-color="#ff4a00"/><stop offset="0.84" stop-color="#ff2900"/><stop offset="0.88" stop-color="#ff0700"/><stop offset="0.91" stop-color="#e70000"/><stop offset="0.94" stop-color="#ca0000"/><stop offset="0.97" stop-color="#ab0000"/><stop offset="1" stop-color="#8c0000"/></linearGradient></defs><rect x="276.0" y="241.8" width="3.6" height="72" fill="url(#cb)"/><rect x="279.6" y="242.2" width="3.1" height="1.1" fill="#111"/><rect x="279.6" y="278.8" width="3.1" height="1.1" fill="#111"/>
<rect x="334.95" y="0" width="2.1" height="347" fill="#1a1a1a"/>
<text x="76.7" y="50.7" class="id" text-anchor="start">ID 5</text>
<text x="149.2" y="50.7" class="id" text-anchor="start">ID 6</text>
<text x="219.3" y="50.7" class="id" text-anchor="start">ID 10</text>
<text x="280" y="50.7" class="id" text-anchor="start">ID 17</text>
<text x="79.1" y="146.9" class="id" text-anchor="start">ID 19</text>
<text x="145.1" y="146.9" class="id" text-anchor="start">ID 21</text>
<text x="216" y="146.9" class="id" text-anchor="start">ID 23</text>
<text x="280" y="146.9" class="id" text-anchor="start">ID 24</text>
<text x="78.7" y="240.7" class="id" text-anchor="start">ID 25</text>
<text x="56.7" y="318.4" class="ax" text-anchor="start">E22</text>
<text x="120.6" y="318.4" class="ax" text-anchor="end">E1</text>
<text x="140" y="240.7" class="id" text-anchor="start">ID 26</text>
<text x="126.8" y="318.4" class="ax" text-anchor="start">E22</text>
<text x="189.3" y="318.4" class="ax" text-anchor="end">E1</text>
<text x="368.8" y="50.7" class="id" text-anchor="start">ID 27</text>
<text x="441.4" y="50.7" class="id" text-anchor="start">ID 1</text>
<text x="505.2" y="50.7" class="id" text-anchor="start">ID 2</text>
<text x="577.3" y="50.7" class="id" text-anchor="start">ID 3</text>
<text x="641.8" y="50.7" class="id" text-anchor="start">ID 16</text>
<text x="370" y="146.9" class="id" text-anchor="start">ID 4</text>
<text x="442.5" y="146.9" class="id" text-anchor="start">ID 7</text>
<text x="503.6" y="146.9" class="id" text-anchor="start">ID 9</text>
<text x="573.5" y="146.9" class="id" text-anchor="start">ID 11</text>
<text x="645.5" y="146.9" class="id" text-anchor="start">ID 22</text>
<text x="366.3" y="240.7" class="id" text-anchor="start">ID 12</text>
<text x="349.2" y="318.4" class="ax" text-anchor="start">E22</text>
<text x="412" y="318.4" class="ax" text-anchor="end">E1</text>
<text x="437" y="240.7" class="id" text-anchor="start">ID 14</text>
<text x="419.4" y="318.4" class="ax" text-anchor="start">E22</text>
<text x="481" y="318.4" class="ax" text-anchor="end">E1</text>
<text x="506.3" y="240.7" class="id" text-anchor="start">ID 15</text>
<text x="485.7" y="318.4" class="ax" text-anchor="start">E22</text>
<text x="547.8" y="318.4" class="ax" text-anchor="end">E1</text>
<text x="571" y="240.7" class="id" text-anchor="start">ID 18</text>
<text x="554.7" y="318.4" class="ax" text-anchor="start">E22</text>
<text x="616.5" y="318.4" class="ax" text-anchor="end">E1</text>
<text x="640.5" y="240.7" class="id" text-anchor="start">ID 20</text>
<text x="620.4" y="318.4" class="ax" text-anchor="start">E22</text>
<text x="685.5" y="318.4" class="ax" text-anchor="end">E1</text>
<text x="54.9" y="61.9" class="ax" text-anchor="end">E1</text>
<text x="54.9" y="120.4" class="ax" text-anchor="end">E22</text>
<text x="54.9" y="153.8" class="ax" text-anchor="end">E1</text>
<text x="54.9" y="212.6" class="ax" text-anchor="end">E22</text>
<text x="54.9" y="249.2" class="ax" text-anchor="end">E1</text>
<text x="54.9" y="307.8" class="ax" text-anchor="end">E22</text>
<text x="0" y="0" class="pl" text-anchor="start" style="font-size:30.5px" transform="translate(-0.6 21) scale(.9 1)">a</text>
<text x="355.8" y="21.6" class="pl" text-anchor="start">b</text>
<text x="134.5" y="20.8" class="ttl" text-anchor="start">e-VEMPs</text>
<text x="460.5" y="20.8" class="ttl" text-anchor="start">no e-VEMPs</text>
<text x="261" y="376.3" class="big" text-anchor="start">Stimulation electrode</text>
<text x="0" y="0" class="big" text-anchor="start" transform="translate(16.5 249.5) rotate(-90)">Recording electrode</text>
<text x="0" y="0" class="cbt" text-anchor="middle" style="font-size:10.15px" transform="translate(251.3 273) rotate(-90)">Transimpedance</text>
<text x="0" y="0" class="cbt" text-anchor="middle" style="font-size:10.3px" transform="translate(264.9 271.9) rotate(-90)">in Ohm</text>
<text x="286.5" y="246" class="cbt" text-anchor="start">2000</text>
<text x="286.5" y="283.4" class="cbt" text-anchor="start">1000</text>
</svg>
</body></html>
